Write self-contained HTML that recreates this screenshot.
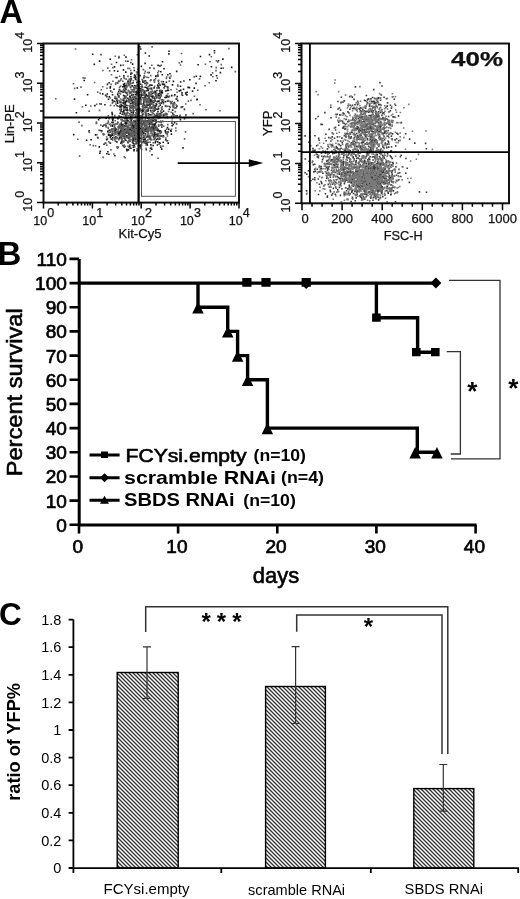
<!DOCTYPE html>
<html><head><meta charset="utf-8"><style>
html,body{margin:0;padding:0;background:#fff;}
body{width:520px;height:899px;overflow:hidden;}
svg{display:block;filter:blur(0.3px);}
</style></head><body>
<svg width="520" height="899" viewBox="0 0 520 899">
<rect width="520" height="899" fill="#fff"/>
<path d="M107.8 133.8h1.6v1.6h-1.6zM125.2 109.1h1.6v1.6h-1.6zM122.6 119.9h1.6v1.6h-1.6zM181.8 105.9h1.6v1.6h-1.6zM142.1 110.6h1.6v1.6h-1.6zM146.1 95h1.6v1.6h-1.6zM115.3 128.3h1.6v1.6h-1.6zM156.1 127.3h1.6v1.6h-1.6zM128.8 91.2h1.6v1.6h-1.6zM117.5 94.9h1.6v1.6h-1.6zM164.9 138.9h1.6v1.6h-1.6zM158.7 115.8h1.6v1.6h-1.6zM162.7 110.3h1.6v1.6h-1.6zM148.2 119.6h1.6v1.6h-1.6zM134 127.2h1.6v1.6h-1.6zM102.4 133.2h1.6v1.6h-1.6zM139.4 108.3h1.6v1.6h-1.6zM124.5 96.1h1.6v1.6h-1.6zM114.3 128.5h1.6v1.6h-1.6zM164.2 96.7h1.6v1.6h-1.6zM152.4 127.4h1.6v1.6h-1.6zM127.1 97.4h1.6v1.6h-1.6zM166.8 116.3h1.6v1.6h-1.6zM156.7 113.7h1.6v1.6h-1.6zM127.3 119.8h1.6v1.6h-1.6zM145.8 142.7h1.6v1.6h-1.6zM124.1 133.4h1.6v1.6h-1.6zM125.3 100.9h1.6v1.6h-1.6zM158.9 92.5h1.6v1.6h-1.6zM131.3 131.6h1.6v1.6h-1.6zM85 104.4h1.6v1.6h-1.6zM176.5 95.7h1.6v1.6h-1.6zM153.9 105.2h1.6v1.6h-1.6zM102 125.5h1.6v1.6h-1.6zM132.5 107.4h1.6v1.6h-1.6zM153.3 87.1h1.6v1.6h-1.6zM134.9 127.6h1.6v1.6h-1.6zM166 113.9h1.6v1.6h-1.6zM142.8 136.5h1.6v1.6h-1.6zM122 86h1.6v1.6h-1.6zM133.6 137.4h1.6v1.6h-1.6zM166.6 140h1.6v1.6h-1.6zM197.3 64h1.6v1.6h-1.6zM131.2 100.3h1.6v1.6h-1.6zM122.3 91.3h1.6v1.6h-1.6zM140 96.5h1.6v1.6h-1.6zM133 126.4h1.6v1.6h-1.6zM142 128.5h1.6v1.6h-1.6zM125.9 125.2h1.6v1.6h-1.6zM159.3 96.9h1.6v1.6h-1.6zM167.9 128.6h1.6v1.6h-1.6zM161 91.6h1.6v1.6h-1.6zM133.1 128.2h1.6v1.6h-1.6zM126.9 111.9h1.6v1.6h-1.6zM109.9 90.2h1.6v1.6h-1.6zM129.2 95.5h1.6v1.6h-1.6zM116.9 121.4h1.6v1.6h-1.6zM215.2 79.9h1.6v1.6h-1.6zM121.4 105h1.6v1.6h-1.6zM125.2 135.8h1.6v1.6h-1.6zM110.8 138.3h1.6v1.6h-1.6zM154.2 118.9h1.6v1.6h-1.6zM136.1 81.9h1.6v1.6h-1.6zM138.1 121.8h1.6v1.6h-1.6zM136.6 83.9h1.6v1.6h-1.6zM109.4 87.1h1.6v1.6h-1.6zM138.2 102.4h1.6v1.6h-1.6zM138.1 141h1.6v1.6h-1.6zM140.8 138h1.6v1.6h-1.6zM111.7 134.5h1.6v1.6h-1.6zM123.1 111.9h1.6v1.6h-1.6zM134.8 85.2h1.6v1.6h-1.6zM132.1 136.1h1.6v1.6h-1.6zM124.2 132.5h1.6v1.6h-1.6zM163.2 114.7h1.6v1.6h-1.6zM153.9 106.7h1.6v1.6h-1.6zM131.4 101.1h1.6v1.6h-1.6zM154.5 109.1h1.6v1.6h-1.6zM120.7 131.4h1.6v1.6h-1.6zM159 90.3h1.6v1.6h-1.6zM157.9 116.2h1.6v1.6h-1.6zM140.9 130.3h1.6v1.6h-1.6zM185.3 93.5h1.6v1.6h-1.6zM179 115.5h1.6v1.6h-1.6zM166.9 86.2h1.6v1.6h-1.6zM125.3 127.8h1.6v1.6h-1.6zM141.1 109.4h1.6v1.6h-1.6zM164.7 131h1.6v1.6h-1.6zM132 104.8h1.6v1.6h-1.6zM138.2 87.5h1.6v1.6h-1.6zM116.4 104.9h1.6v1.6h-1.6zM144.3 62.6h1.6v1.6h-1.6zM161.1 111.7h1.6v1.6h-1.6zM116.9 70.4h1.6v1.6h-1.6zM133.7 88.8h1.6v1.6h-1.6zM135.5 97.7h1.6v1.6h-1.6zM124.9 129.3h1.6v1.6h-1.6zM150.3 130.9h1.6v1.6h-1.6zM126.9 126.6h1.6v1.6h-1.6zM144.4 140.8h1.6v1.6h-1.6zM120.2 110.6h1.6v1.6h-1.6zM126 100.3h1.6v1.6h-1.6zM105.4 117.3h1.6v1.6h-1.6zM132.5 98.7h1.6v1.6h-1.6zM134.5 77.9h1.6v1.6h-1.6zM156.9 84.3h1.6v1.6h-1.6zM134.6 124.7h1.6v1.6h-1.6zM136.2 92.9h1.6v1.6h-1.6zM135.8 142.2h1.6v1.6h-1.6zM131.4 125.8h1.6v1.6h-1.6zM152.1 92.4h1.6v1.6h-1.6zM154.4 142h1.6v1.6h-1.6zM116.7 101.1h1.6v1.6h-1.6zM122.2 144.9h1.6v1.6h-1.6zM129 145.3h1.6v1.6h-1.6zM142.7 127.8h1.6v1.6h-1.6zM135.5 132.2h1.6v1.6h-1.6zM155 127.2h1.6v1.6h-1.6zM126.5 109.9h1.6v1.6h-1.6zM137.9 145.1h1.6v1.6h-1.6zM153.4 125.6h1.6v1.6h-1.6zM208.7 53.8h1.6v1.6h-1.6zM154.7 93.3h1.6v1.6h-1.6zM106.6 138.2h1.6v1.6h-1.6zM107.7 98.5h1.6v1.6h-1.6zM154.5 123.1h1.6v1.6h-1.6zM138.6 137.3h1.6v1.6h-1.6zM154.2 126.6h1.6v1.6h-1.6zM146.1 101h1.6v1.6h-1.6zM139.9 117.4h1.6v1.6h-1.6zM215.8 75h1.6v1.6h-1.6zM127.9 129h1.6v1.6h-1.6zM123.9 135.6h1.6v1.6h-1.6zM109.6 85.9h1.6v1.6h-1.6zM131.4 123.5h1.6v1.6h-1.6zM135.6 93.6h1.6v1.6h-1.6zM152 95.2h1.6v1.6h-1.6zM149.7 84.3h1.6v1.6h-1.6zM140.5 122.1h1.6v1.6h-1.6zM136.6 132.3h1.6v1.6h-1.6zM136.8 134.1h1.6v1.6h-1.6zM125.1 91.5h1.6v1.6h-1.6zM143.7 98.2h1.6v1.6h-1.6zM135.1 109.2h1.6v1.6h-1.6zM146 124.2h1.6v1.6h-1.6zM155.7 108.4h1.6v1.6h-1.6zM164 85.3h1.6v1.6h-1.6zM162.6 135h1.6v1.6h-1.6zM147.5 104.3h1.6v1.6h-1.6zM141.4 130.4h1.6v1.6h-1.6zM171.7 84.1h1.6v1.6h-1.6zM137.9 115.3h1.6v1.6h-1.6zM128.6 147h1.6v1.6h-1.6zM144.5 95.3h1.6v1.6h-1.6zM150.1 144.1h1.6v1.6h-1.6zM161.1 108.5h1.6v1.6h-1.6zM145 141.1h1.6v1.6h-1.6zM137.6 109.6h1.6v1.6h-1.6zM106.5 93.2h1.6v1.6h-1.6zM153 101.6h1.6v1.6h-1.6zM147.6 127.4h1.6v1.6h-1.6zM148 135h1.6v1.6h-1.6zM161 126.2h1.6v1.6h-1.6zM143.2 80.9h1.6v1.6h-1.6zM155 75.3h1.6v1.6h-1.6zM210.6 65.9h1.6v1.6h-1.6zM121 138.1h1.6v1.6h-1.6zM117.9 133.4h1.6v1.6h-1.6zM121.5 113.5h1.6v1.6h-1.6zM160.8 135.3h1.6v1.6h-1.6zM140.9 93.7h1.6v1.6h-1.6zM134.7 137.2h1.6v1.6h-1.6zM140.6 136.4h1.6v1.6h-1.6zM135.4 142.6h1.6v1.6h-1.6zM141.6 105.7h1.6v1.6h-1.6zM151.6 111.8h1.6v1.6h-1.6zM157.5 80.2h1.6v1.6h-1.6zM99 152.4h1.6v1.6h-1.6zM157.2 132.8h1.6v1.6h-1.6zM168.1 53.1h1.6v1.6h-1.6zM171 94.8h1.6v1.6h-1.6zM146.6 134.5h1.6v1.6h-1.6zM119.7 130h1.6v1.6h-1.6zM126.8 128.2h1.6v1.6h-1.6zM134.6 138.3h1.6v1.6h-1.6zM140.3 130.6h1.6v1.6h-1.6zM133.8 85h1.6v1.6h-1.6zM137.2 107.8h1.6v1.6h-1.6zM140.1 129.1h1.6v1.6h-1.6zM141.5 129.2h1.6v1.6h-1.6zM158.6 113.2h1.6v1.6h-1.6zM112 137h1.6v1.6h-1.6zM166.7 89.6h1.6v1.6h-1.6zM134.3 131.2h1.6v1.6h-1.6zM91.9 53.4h1.6v1.6h-1.6zM115.6 97.8h1.6v1.6h-1.6zM136.4 125.8h1.6v1.6h-1.6zM150.7 93.3h1.6v1.6h-1.6zM136.5 104.5h1.6v1.6h-1.6zM119.8 100.8h1.6v1.6h-1.6zM160 71h1.6v1.6h-1.6zM126.9 125.8h1.6v1.6h-1.6zM118.2 133.5h1.6v1.6h-1.6zM103.2 143.5h1.6v1.6h-1.6zM150.3 99.7h1.6v1.6h-1.6zM163.2 67.9h1.6v1.6h-1.6zM133.4 130.8h1.6v1.6h-1.6zM136.5 108.7h1.6v1.6h-1.6zM142.2 81.3h1.6v1.6h-1.6zM156 114.3h1.6v1.6h-1.6zM159.4 130.1h1.6v1.6h-1.6zM109.5 136.3h1.6v1.6h-1.6zM168.2 50.4h1.6v1.6h-1.6zM126 121.1h1.6v1.6h-1.6zM75.6 112h1.6v1.6h-1.6zM126.7 135.2h1.6v1.6h-1.6zM141.9 108.7h1.6v1.6h-1.6zM135.7 128.8h1.6v1.6h-1.6zM114.1 155h1.6v1.6h-1.6zM123.1 105.4h1.6v1.6h-1.6zM108.3 116.9h1.6v1.6h-1.6zM135.7 123.2h1.6v1.6h-1.6zM133.8 74.3h1.6v1.6h-1.6zM135.4 99.9h1.6v1.6h-1.6zM86.8 94h1.6v1.6h-1.6zM108.1 153.4h1.6v1.6h-1.6zM171.9 109.3h1.6v1.6h-1.6zM123.1 75.1h1.6v1.6h-1.6zM124.2 128.5h1.6v1.6h-1.6zM116.1 99.8h1.6v1.6h-1.6zM120.4 127.2h1.6v1.6h-1.6zM147.1 135.6h1.6v1.6h-1.6zM180.6 106.6h1.6v1.6h-1.6zM120.3 109.5h1.6v1.6h-1.6zM142.4 140.9h1.6v1.6h-1.6zM132.5 126.6h1.6v1.6h-1.6zM134.9 104h1.6v1.6h-1.6zM118.3 132.5h1.6v1.6h-1.6zM137.9 138.7h1.6v1.6h-1.6zM196.1 98.9h1.6v1.6h-1.6zM138 121.8h1.6v1.6h-1.6zM112 119.5h1.6v1.6h-1.6zM144.4 142.5h1.6v1.6h-1.6zM113.7 66.1h1.6v1.6h-1.6zM124 129.2h1.6v1.6h-1.6zM186.4 91.4h1.6v1.6h-1.6zM118.6 131h1.6v1.6h-1.6zM196.4 98.5h1.6v1.6h-1.6zM153.7 138.3h1.6v1.6h-1.6zM132.4 132.5h1.6v1.6h-1.6zM154.4 107.5h1.6v1.6h-1.6zM151 101.4h1.6v1.6h-1.6zM138.4 107.5h1.6v1.6h-1.6zM143.4 123.3h1.6v1.6h-1.6zM140.5 94.8h1.6v1.6h-1.6zM146.7 100.5h1.6v1.6h-1.6zM217.7 59.9h1.6v1.6h-1.6zM139.3 74.8h1.6v1.6h-1.6zM147.3 121.4h1.6v1.6h-1.6zM135.4 105.7h1.6v1.6h-1.6zM145.6 94h1.6v1.6h-1.6zM128.5 134h1.6v1.6h-1.6zM130.3 132.2h1.6v1.6h-1.6zM138.2 89.2h1.6v1.6h-1.6zM133.9 134.7h1.6v1.6h-1.6zM129.6 132.7h1.6v1.6h-1.6zM148.7 85h1.6v1.6h-1.6zM142.7 132.3h1.6v1.6h-1.6zM130.1 147.4h1.6v1.6h-1.6zM124.9 85.1h1.6v1.6h-1.6zM115.7 61.7h1.6v1.6h-1.6zM112.3 128h1.6v1.6h-1.6zM142.6 109.9h1.6v1.6h-1.6zM119.9 64.6h1.6v1.6h-1.6zM153.4 79.3h1.6v1.6h-1.6zM149.8 122.9h1.6v1.6h-1.6zM119.7 124.3h1.6v1.6h-1.6zM135.4 121.5h1.6v1.6h-1.6zM98.8 60.3h1.6v1.6h-1.6zM140.8 130.2h1.6v1.6h-1.6zM107 130.5h1.6v1.6h-1.6zM125.9 135.4h1.6v1.6h-1.6zM175.9 70.6h1.6v1.6h-1.6zM172.6 80.6h1.6v1.6h-1.6zM145.7 127.8h1.6v1.6h-1.6zM136.4 140.2h1.6v1.6h-1.6zM124.3 103.5h1.6v1.6h-1.6zM124.9 122h1.6v1.6h-1.6zM141.2 110.1h1.6v1.6h-1.6zM149.1 94.9h1.6v1.6h-1.6zM113.4 130.2h1.6v1.6h-1.6zM144.4 93.3h1.6v1.6h-1.6zM122.2 141.1h1.6v1.6h-1.6zM132 139.1h1.6v1.6h-1.6zM155.3 121.6h1.6v1.6h-1.6zM148.9 138.2h1.6v1.6h-1.6zM109.4 129.4h1.6v1.6h-1.6zM142.9 131.5h1.6v1.6h-1.6zM142.3 94.5h1.6v1.6h-1.6zM145.6 130h1.6v1.6h-1.6zM133.4 148.9h1.6v1.6h-1.6zM155.9 138.7h1.6v1.6h-1.6zM114.3 127.6h1.6v1.6h-1.6zM167 131.6h1.6v1.6h-1.6zM150.8 127.2h1.6v1.6h-1.6zM107.9 134.4h1.6v1.6h-1.6zM157.1 135.6h1.6v1.6h-1.6zM114.1 132.2h1.6v1.6h-1.6zM108.5 96.1h1.6v1.6h-1.6zM106 95.9h1.6v1.6h-1.6zM142.3 123.5h1.6v1.6h-1.6zM133.2 149.8h1.6v1.6h-1.6zM131.9 129.9h1.6v1.6h-1.6zM145.1 126.6h1.6v1.6h-1.6zM149.5 95.2h1.6v1.6h-1.6zM168.8 105.7h1.6v1.6h-1.6zM127.1 60.5h1.6v1.6h-1.6zM143.9 104.4h1.6v1.6h-1.6zM131.4 134.7h1.6v1.6h-1.6zM116.8 130.7h1.6v1.6h-1.6zM135.1 128h1.6v1.6h-1.6zM129.2 109.7h1.6v1.6h-1.6zM140.2 125.2h1.6v1.6h-1.6zM156.1 89.7h1.6v1.6h-1.6zM120.1 142.3h1.6v1.6h-1.6zM147.5 89.6h1.6v1.6h-1.6zM159.2 131h1.6v1.6h-1.6zM139 86h1.6v1.6h-1.6zM145.8 86.8h1.6v1.6h-1.6zM126 135.1h1.6v1.6h-1.6zM126.8 129.2h1.6v1.6h-1.6zM120.3 135.2h1.6v1.6h-1.6zM135.3 105.2h1.6v1.6h-1.6zM132.5 146.4h1.6v1.6h-1.6zM135.3 135.2h1.6v1.6h-1.6zM129.5 81.2h1.6v1.6h-1.6zM136.7 120.1h1.6v1.6h-1.6zM138.2 116.1h1.6v1.6h-1.6zM132.4 138.3h1.6v1.6h-1.6zM136.2 149.8h1.6v1.6h-1.6zM147.6 98.9h1.6v1.6h-1.6zM152 129h1.6v1.6h-1.6zM108.4 82h1.6v1.6h-1.6zM121.4 125.1h1.6v1.6h-1.6zM141.8 108.6h1.6v1.6h-1.6zM134.7 115.8h1.6v1.6h-1.6zM136.1 92h1.6v1.6h-1.6zM138.3 95.5h1.6v1.6h-1.6zM170.6 133.3h1.6v1.6h-1.6zM142.1 123.3h1.6v1.6h-1.6zM136 126.9h1.6v1.6h-1.6zM111.7 99.3h1.6v1.6h-1.6zM120.8 128.6h1.6v1.6h-1.6zM117.1 117.8h1.6v1.6h-1.6zM118.9 105.2h1.6v1.6h-1.6zM139.7 99.2h1.6v1.6h-1.6zM144.9 113.1h1.6v1.6h-1.6zM163.4 86.9h1.6v1.6h-1.6zM143.9 91.9h1.6v1.6h-1.6zM157.3 130.2h1.6v1.6h-1.6zM152.9 126.6h1.6v1.6h-1.6zM128.9 131.2h1.6v1.6h-1.6zM139.2 96.9h1.6v1.6h-1.6zM127.2 142h1.6v1.6h-1.6zM141.7 89h1.6v1.6h-1.6zM159.9 120.6h1.6v1.6h-1.6zM144.6 128.5h1.6v1.6h-1.6zM179.6 118.8h1.6v1.6h-1.6zM165.3 114h1.6v1.6h-1.6zM157.1 74.2h1.6v1.6h-1.6zM144.1 96.7h1.6v1.6h-1.6zM119.5 106.3h1.6v1.6h-1.6zM146.7 130.1h1.6v1.6h-1.6zM148.4 55.2h1.6v1.6h-1.6zM136.9 133.8h1.6v1.6h-1.6zM138.2 135.3h1.6v1.6h-1.6zM129.8 129.1h1.6v1.6h-1.6zM153.1 110.5h1.6v1.6h-1.6zM158.2 100.3h1.6v1.6h-1.6zM148.1 96h1.6v1.6h-1.6zM138.6 128.2h1.6v1.6h-1.6zM213.7 50h1.6v1.6h-1.6zM161.6 92.1h1.6v1.6h-1.6zM138.5 132.4h1.6v1.6h-1.6zM148.3 97.1h1.6v1.6h-1.6zM128.3 129.4h1.6v1.6h-1.6zM129.7 106.7h1.6v1.6h-1.6zM144.5 111.4h1.6v1.6h-1.6zM123.9 82.8h1.6v1.6h-1.6zM136.7 132.2h1.6v1.6h-1.6zM138.4 126.6h1.6v1.6h-1.6zM158.5 94.8h1.6v1.6h-1.6zM133.9 100.6h1.6v1.6h-1.6zM127 80.7h1.6v1.6h-1.6zM169.1 77.4h1.6v1.6h-1.6zM122 134.6h1.6v1.6h-1.6zM99 117.5h1.6v1.6h-1.6zM138.3 112.1h1.6v1.6h-1.6zM146.5 129.8h1.6v1.6h-1.6zM138.5 116.9h1.6v1.6h-1.6zM145.9 90h1.6v1.6h-1.6zM176.9 99.8h1.6v1.6h-1.6zM136.8 127.6h1.6v1.6h-1.6zM120.6 108.5h1.6v1.6h-1.6zM140.1 132.3h1.6v1.6h-1.6zM155.1 115h1.6v1.6h-1.6zM123.5 146.2h1.6v1.6h-1.6zM123.3 94.9h1.6v1.6h-1.6zM157 94.6h1.6v1.6h-1.6zM126.9 136.3h1.6v1.6h-1.6zM128.1 83.1h1.6v1.6h-1.6zM132.4 137.9h1.6v1.6h-1.6zM135.5 85.4h1.6v1.6h-1.6zM123.3 129h1.6v1.6h-1.6zM148.7 125.5h1.6v1.6h-1.6zM154.2 90.6h1.6v1.6h-1.6zM133.1 106.1h1.6v1.6h-1.6zM126.2 107h1.6v1.6h-1.6zM136.3 134.9h1.6v1.6h-1.6zM117.8 80.4h1.6v1.6h-1.6zM165.2 113.1h1.6v1.6h-1.6zM154 109.2h1.6v1.6h-1.6zM153.1 104.6h1.6v1.6h-1.6zM167 87h1.6v1.6h-1.6zM130.8 126.7h1.6v1.6h-1.6zM150.5 106.5h1.6v1.6h-1.6zM123 110.1h1.6v1.6h-1.6zM139.8 147.2h1.6v1.6h-1.6zM119.3 106.7h1.6v1.6h-1.6zM111.8 94h1.6v1.6h-1.6zM146.7 100.7h1.6v1.6h-1.6zM117.8 138.6h1.6v1.6h-1.6zM132.3 102.7h1.6v1.6h-1.6zM165.6 81.4h1.6v1.6h-1.6zM132.6 111.4h1.6v1.6h-1.6zM148.3 101.1h1.6v1.6h-1.6zM145.3 114.6h1.6v1.6h-1.6zM140.9 128.6h1.6v1.6h-1.6zM142.1 122.9h1.6v1.6h-1.6zM99.2 129.7h1.6v1.6h-1.6zM135.8 125.3h1.6v1.6h-1.6zM152.7 126.9h1.6v1.6h-1.6zM180.9 60.8h1.6v1.6h-1.6zM135.1 78.7h1.6v1.6h-1.6zM151.6 126.3h1.6v1.6h-1.6zM124.6 114.2h1.6v1.6h-1.6zM179.7 85.5h1.6v1.6h-1.6zM160.5 91.4h1.6v1.6h-1.6zM156 96.5h1.6v1.6h-1.6zM135.4 122.1h1.6v1.6h-1.6zM144.5 138.1h1.6v1.6h-1.6zM123.2 109.3h1.6v1.6h-1.6zM158.2 97.2h1.6v1.6h-1.6zM160.9 124.1h1.6v1.6h-1.6zM142.9 121.9h1.6v1.6h-1.6zM154.2 91.9h1.6v1.6h-1.6zM143.1 76.6h1.6v1.6h-1.6zM122.8 89.2h1.6v1.6h-1.6zM116.7 147.2h1.6v1.6h-1.6zM125.9 148.6h1.6v1.6h-1.6zM146 104.3h1.6v1.6h-1.6zM131.5 96.5h1.6v1.6h-1.6zM114.5 130.1h1.6v1.6h-1.6zM170.3 130.4h1.6v1.6h-1.6zM153.2 134.5h1.6v1.6h-1.6zM149.8 109.7h1.6v1.6h-1.6zM116 98.1h1.6v1.6h-1.6zM153.5 124h1.6v1.6h-1.6zM130.4 72.3h1.6v1.6h-1.6zM110 135.1h1.6v1.6h-1.6zM146.5 88h1.6v1.6h-1.6zM140.2 129.6h1.6v1.6h-1.6zM123.9 89.8h1.6v1.6h-1.6zM133.2 119.9h1.6v1.6h-1.6zM154.8 91.3h1.6v1.6h-1.6zM109.6 142.5h1.6v1.6h-1.6zM222.1 58.3h1.6v1.6h-1.6zM131.6 123.7h1.6v1.6h-1.6zM144.2 138.5h1.6v1.6h-1.6zM136.9 138h1.6v1.6h-1.6zM140.4 91.3h1.6v1.6h-1.6zM148.1 92.7h1.6v1.6h-1.6zM144.3 86.4h1.6v1.6h-1.6zM143.5 120.8h1.6v1.6h-1.6zM147.9 116.8h1.6v1.6h-1.6zM141.3 128.5h1.6v1.6h-1.6zM125.2 88.6h1.6v1.6h-1.6zM176.3 115.1h1.6v1.6h-1.6zM146.9 101.1h1.6v1.6h-1.6zM141.9 131.9h1.6v1.6h-1.6zM104.1 104h1.6v1.6h-1.6zM97.8 118.8h1.6v1.6h-1.6zM116.6 132.1h1.6v1.6h-1.6zM154 124.7h1.6v1.6h-1.6zM146.6 108.9h1.6v1.6h-1.6zM157.8 129.8h1.6v1.6h-1.6zM144.2 82.7h1.6v1.6h-1.6zM139.5 121.6h1.6v1.6h-1.6zM171.4 125h1.6v1.6h-1.6zM133.5 69.7h1.6v1.6h-1.6zM137.5 118.9h1.6v1.6h-1.6zM146.4 120.1h1.6v1.6h-1.6zM130.5 111.7h1.6v1.6h-1.6zM147.2 130.1h1.6v1.6h-1.6zM219.6 71.8h1.6v1.6h-1.6zM137.3 91.5h1.6v1.6h-1.6zM136.7 127.5h1.6v1.6h-1.6zM134 138h1.6v1.6h-1.6zM133.5 96.4h1.6v1.6h-1.6zM170 129.7h1.6v1.6h-1.6zM142.2 122.8h1.6v1.6h-1.6zM129.7 106.8h1.6v1.6h-1.6zM179.9 81.2h1.6v1.6h-1.6zM138.4 90h1.6v1.6h-1.6zM130.5 98.7h1.6v1.6h-1.6zM159.3 142.4h1.6v1.6h-1.6zM148.3 71.8h1.6v1.6h-1.6zM183.1 80.2h1.6v1.6h-1.6zM134.5 131.9h1.6v1.6h-1.6zM230.9 66.6h1.6v1.6h-1.6zM139 122.3h1.6v1.6h-1.6zM106.7 83.6h1.6v1.6h-1.6zM156.2 129.7h1.6v1.6h-1.6zM132 125.6h1.6v1.6h-1.6zM124.1 97.2h1.6v1.6h-1.6zM121.2 139.6h1.6v1.6h-1.6zM131.7 124.1h1.6v1.6h-1.6zM135.5 138.3h1.6v1.6h-1.6zM120.6 90.7h1.6v1.6h-1.6zM154.8 140.4h1.6v1.6h-1.6zM157.1 115.7h1.6v1.6h-1.6zM150.4 107.2h1.6v1.6h-1.6zM143.6 98.3h1.6v1.6h-1.6zM130.1 109.8h1.6v1.6h-1.6zM111.2 111.7h1.6v1.6h-1.6zM151.2 84.4h1.6v1.6h-1.6zM162.7 101.5h1.6v1.6h-1.6zM116.1 76.8h1.6v1.6h-1.6zM120.2 129.3h1.6v1.6h-1.6zM122.6 102.9h1.6v1.6h-1.6zM148.6 123.3h1.6v1.6h-1.6zM161.7 61h1.6v1.6h-1.6zM118.1 56.8h1.6v1.6h-1.6zM149.3 127.3h1.6v1.6h-1.6zM136.7 131.4h1.6v1.6h-1.6zM107.1 130.8h1.6v1.6h-1.6zM159.5 104.3h1.6v1.6h-1.6zM135.9 93.9h1.6v1.6h-1.6zM137.9 98.5h1.6v1.6h-1.6zM130 115.6h1.6v1.6h-1.6zM135.8 94.1h1.6v1.6h-1.6zM138.2 122.3h1.6v1.6h-1.6zM133.4 76.5h1.6v1.6h-1.6zM116.9 93.3h1.6v1.6h-1.6zM150.9 121.4h1.6v1.6h-1.6zM158 82.4h1.6v1.6h-1.6zM141.7 131.6h1.6v1.6h-1.6zM117.6 126h1.6v1.6h-1.6zM121.8 133.1h1.6v1.6h-1.6zM124.9 124.2h1.6v1.6h-1.6zM137.3 129h1.6v1.6h-1.6zM137.8 109.1h1.6v1.6h-1.6zM113.6 70h1.6v1.6h-1.6zM132.9 125.1h1.6v1.6h-1.6zM132.3 112.3h1.6v1.6h-1.6zM166.5 89.7h1.6v1.6h-1.6zM148.8 122h1.6v1.6h-1.6zM128.9 135h1.6v1.6h-1.6zM120.7 141.1h1.6v1.6h-1.6zM146 106.3h1.6v1.6h-1.6zM142.7 129.2h1.6v1.6h-1.6zM143 101.4h1.6v1.6h-1.6zM129.5 127.6h1.6v1.6h-1.6zM105.8 138.8h1.6v1.6h-1.6zM128.4 146.2h1.6v1.6h-1.6zM167.4 142.3h1.6v1.6h-1.6zM153.1 123.6h1.6v1.6h-1.6zM150.3 139h1.6v1.6h-1.6zM125.6 99.6h1.6v1.6h-1.6zM139.3 132.7h1.6v1.6h-1.6zM162.5 141.4h1.6v1.6h-1.6zM181.2 92.1h1.6v1.6h-1.6zM140.4 90.3h1.6v1.6h-1.6zM136.5 132h1.6v1.6h-1.6zM151.6 99.7h1.6v1.6h-1.6zM131.8 135.2h1.6v1.6h-1.6zM131.8 63.3h1.6v1.6h-1.6zM120.4 122.8h1.6v1.6h-1.6zM159.6 115.4h1.6v1.6h-1.6zM159.4 116.8h1.6v1.6h-1.6zM117.9 90.8h1.6v1.6h-1.6zM123.8 101h1.6v1.6h-1.6zM109.4 58.5h1.6v1.6h-1.6zM142.7 138.5h1.6v1.6h-1.6zM158.3 87.1h1.6v1.6h-1.6zM111.4 124.6h1.6v1.6h-1.6zM176.1 105.3h1.6v1.6h-1.6zM133.5 133.5h1.6v1.6h-1.6zM107.8 134.1h1.6v1.6h-1.6zM135.3 115.3h1.6v1.6h-1.6zM178.5 90.1h1.6v1.6h-1.6zM117 82.2h1.6v1.6h-1.6zM144.6 107h1.6v1.6h-1.6zM129.4 96.5h1.6v1.6h-1.6zM72.9 133.8h1.6v1.6h-1.6zM141.7 127.4h1.6v1.6h-1.6zM147.2 95.3h1.6v1.6h-1.6zM83.4 79.7h1.6v1.6h-1.6zM140.2 117.8h1.6v1.6h-1.6zM131.7 131.2h1.6v1.6h-1.6zM166.6 95.7h1.6v1.6h-1.6zM127.8 140.5h1.6v1.6h-1.6zM136.2 131.5h1.6v1.6h-1.6zM88.4 129.9h1.6v1.6h-1.6zM195.2 82.6h1.6v1.6h-1.6zM124.4 122.3h1.6v1.6h-1.6zM149.3 114.1h1.6v1.6h-1.6zM183.6 108.6h1.6v1.6h-1.6zM155.3 119.8h1.6v1.6h-1.6zM133.7 128.7h1.6v1.6h-1.6zM146.5 144.1h1.6v1.6h-1.6zM120.3 105.4h1.6v1.6h-1.6zM148.5 94.4h1.6v1.6h-1.6zM145.6 136.2h1.6v1.6h-1.6zM132.3 125.5h1.6v1.6h-1.6zM139.5 144.2h1.6v1.6h-1.6zM121.3 124.5h1.6v1.6h-1.6zM172.4 123.7h1.6v1.6h-1.6zM164.5 129.8h1.6v1.6h-1.6zM127.8 128.5h1.6v1.6h-1.6zM131.5 121.5h1.6v1.6h-1.6zM124.2 87.2h1.6v1.6h-1.6zM138.3 136.3h1.6v1.6h-1.6zM166.7 126.8h1.6v1.6h-1.6zM147.7 112.9h1.6v1.6h-1.6zM137.8 126.6h1.6v1.6h-1.6zM136.9 123.2h1.6v1.6h-1.6zM162.5 116.5h1.6v1.6h-1.6zM113.5 100.4h1.6v1.6h-1.6zM152.3 144.7h1.6v1.6h-1.6zM123.4 137.4h1.6v1.6h-1.6zM133.2 144.3h1.6v1.6h-1.6zM119.4 112.4h1.6v1.6h-1.6zM122.8 83.6h1.6v1.6h-1.6zM133.2 135.4h1.6v1.6h-1.6zM143 140.3h1.6v1.6h-1.6zM144.4 96.8h1.6v1.6h-1.6zM129.8 79.6h1.6v1.6h-1.6zM158.8 89.8h1.6v1.6h-1.6zM174 94.1h1.6v1.6h-1.6zM151.3 127h1.6v1.6h-1.6zM130.6 78.2h1.6v1.6h-1.6zM145.1 130.6h1.6v1.6h-1.6zM139.8 98.1h1.6v1.6h-1.6zM158.6 120.9h1.6v1.6h-1.6zM133.5 145.2h1.6v1.6h-1.6zM145.5 100.1h1.6v1.6h-1.6zM132.5 94h1.6v1.6h-1.6zM112.4 121.6h1.6v1.6h-1.6zM122.3 135.5h1.6v1.6h-1.6zM145.8 98.9h1.6v1.6h-1.6zM140.6 65.6h1.6v1.6h-1.6zM129.9 102.7h1.6v1.6h-1.6zM136 127.5h1.6v1.6h-1.6zM127.6 129.8h1.6v1.6h-1.6zM136 131.5h1.6v1.6h-1.6zM131.5 141.5h1.6v1.6h-1.6zM125.3 107.2h1.6v1.6h-1.6zM145.3 142.5h1.6v1.6h-1.6zM155.8 103.9h1.6v1.6h-1.6zM136.8 126.9h1.6v1.6h-1.6zM141.5 130.7h1.6v1.6h-1.6zM139.9 48.2h1.6v1.6h-1.6zM161.5 74h1.6v1.6h-1.6zM130.4 119.6h1.6v1.6h-1.6zM115.2 123.2h1.6v1.6h-1.6zM134.8 130.2h1.6v1.6h-1.6zM139.2 93.8h1.6v1.6h-1.6zM141.2 86h1.6v1.6h-1.6zM134.3 128.5h1.6v1.6h-1.6zM135.4 87.5h1.6v1.6h-1.6zM151.4 100.6h1.6v1.6h-1.6zM122.5 102.1h1.6v1.6h-1.6zM127.1 130.7h1.6v1.6h-1.6zM146.6 141.9h1.6v1.6h-1.6zM139.9 137.5h1.6v1.6h-1.6zM133.7 129.8h1.6v1.6h-1.6zM159.7 132.1h1.6v1.6h-1.6zM173.5 101.8h1.6v1.6h-1.6zM145.1 93.7h1.6v1.6h-1.6zM132.8 91.1h1.6v1.6h-1.6zM156.5 101h1.6v1.6h-1.6zM114.9 135.9h1.6v1.6h-1.6zM166.9 100.3h1.6v1.6h-1.6zM157 128.4h1.6v1.6h-1.6zM136 108.3h1.6v1.6h-1.6zM150.9 101.3h1.6v1.6h-1.6zM125.7 104.4h1.6v1.6h-1.6zM152.8 136.1h1.6v1.6h-1.6zM164.7 100.9h1.6v1.6h-1.6zM136.1 110.4h1.6v1.6h-1.6zM124.1 125h1.6v1.6h-1.6zM153.4 127.6h1.6v1.6h-1.6zM158.6 141.9h1.6v1.6h-1.6zM108.5 129.4h1.6v1.6h-1.6zM132.7 130.6h1.6v1.6h-1.6zM127.6 149.1h1.6v1.6h-1.6zM117.4 131.9h1.6v1.6h-1.6zM145.7 128.8h1.6v1.6h-1.6zM155.3 102.9h1.6v1.6h-1.6zM146.8 131.7h1.6v1.6h-1.6zM145.5 148.9h1.6v1.6h-1.6zM94.1 104.8h1.6v1.6h-1.6zM132.6 110h1.6v1.6h-1.6zM93.5 63.6h1.6v1.6h-1.6zM172.9 113.9h1.6v1.6h-1.6zM111.7 118.5h1.6v1.6h-1.6zM150.9 148.3h1.6v1.6h-1.6zM127.6 80.8h1.6v1.6h-1.6zM110.6 135.2h1.6v1.6h-1.6zM130.2 99.2h1.6v1.6h-1.6zM116.9 102.5h1.6v1.6h-1.6zM123.9 112.9h1.6v1.6h-1.6zM139.5 120.1h1.6v1.6h-1.6zM125.7 132.4h1.6v1.6h-1.6zM104.6 142.2h1.6v1.6h-1.6zM145.1 112.4h1.6v1.6h-1.6zM153.9 97.2h1.6v1.6h-1.6zM134.7 93.5h1.6v1.6h-1.6zM147 126.6h1.6v1.6h-1.6zM132.5 96.8h1.6v1.6h-1.6zM132.2 129.3h1.6v1.6h-1.6zM128.3 131.5h1.6v1.6h-1.6zM123.1 99.3h1.6v1.6h-1.6zM142.8 123.5h1.6v1.6h-1.6zM129 95.7h1.6v1.6h-1.6zM131.1 129.7h1.6v1.6h-1.6zM113.2 88.4h1.6v1.6h-1.6zM166 94.8h1.6v1.6h-1.6zM169.1 72.9h1.6v1.6h-1.6zM147.2 130.8h1.6v1.6h-1.6zM131.7 102.3h1.6v1.6h-1.6zM121.4 123.7h1.6v1.6h-1.6zM188.7 86.8h1.6v1.6h-1.6zM149.1 67.2h1.6v1.6h-1.6zM137.1 127.3h1.6v1.6h-1.6zM143.9 125.3h1.6v1.6h-1.6zM131.3 84.9h1.6v1.6h-1.6zM157.3 85.2h1.6v1.6h-1.6zM126.9 117.5h1.6v1.6h-1.6zM158.9 138.1h1.6v1.6h-1.6zM150.7 95.7h1.6v1.6h-1.6zM138.1 122.8h1.6v1.6h-1.6zM126.6 94.2h1.6v1.6h-1.6zM148.7 127.6h1.6v1.6h-1.6zM144.6 133.1h1.6v1.6h-1.6zM148.3 98.3h1.6v1.6h-1.6zM120.7 131.3h1.6v1.6h-1.6zM150.8 88.4h1.6v1.6h-1.6zM146.1 129h1.6v1.6h-1.6zM152.3 125.8h1.6v1.6h-1.6zM130.8 94.3h1.6v1.6h-1.6zM137.8 119.8h1.6v1.6h-1.6zM148.9 103.2h1.6v1.6h-1.6zM186.1 94.1h1.6v1.6h-1.6zM138.7 129.6h1.6v1.6h-1.6zM182.7 88.5h1.6v1.6h-1.6zM123.4 101.3h1.6v1.6h-1.6zM126.2 149.8h1.6v1.6h-1.6zM126.6 127h1.6v1.6h-1.6zM126.6 136.9h1.6v1.6h-1.6zM156.7 75.1h1.6v1.6h-1.6zM156.3 112.7h1.6v1.6h-1.6zM161.7 83.3h1.6v1.6h-1.6zM153.4 107.8h1.6v1.6h-1.6zM149 99.4h1.6v1.6h-1.6zM109.3 134.3h1.6v1.6h-1.6zM130.2 78h1.6v1.6h-1.6zM156.8 141.1h1.6v1.6h-1.6zM147.4 88.4h1.6v1.6h-1.6zM150.2 95.4h1.6v1.6h-1.6zM116.1 141.1h1.6v1.6h-1.6zM157 108.5h1.6v1.6h-1.6zM125.4 120.3h1.6v1.6h-1.6zM131.2 125h1.6v1.6h-1.6zM157.2 110.7h1.6v1.6h-1.6zM105.1 125.1h1.6v1.6h-1.6zM144.7 96.9h1.6v1.6h-1.6zM151.8 119.4h1.6v1.6h-1.6zM157.3 100.2h1.6v1.6h-1.6zM151.5 95.9h1.6v1.6h-1.6zM132.1 129.4h1.6v1.6h-1.6zM135.7 85.3h1.6v1.6h-1.6zM149.4 99.2h1.6v1.6h-1.6zM127.7 132.9h1.6v1.6h-1.6zM167 73.9h1.6v1.6h-1.6zM129.5 79.1h1.6v1.6h-1.6zM125.2 56.3h1.6v1.6h-1.6zM118.7 88.8h1.6v1.6h-1.6zM120.1 131.8h1.6v1.6h-1.6zM128 128.8h1.6v1.6h-1.6zM130.2 134.4h1.6v1.6h-1.6zM162 83.6h1.6v1.6h-1.6zM121.3 125.3h1.6v1.6h-1.6zM157 138h1.6v1.6h-1.6zM154.6 100.2h1.6v1.6h-1.6zM137.8 80.6h1.6v1.6h-1.6zM161.5 101h1.6v1.6h-1.6zM140.5 134h1.6v1.6h-1.6zM142.9 99.8h1.6v1.6h-1.6zM90.3 138.9h1.6v1.6h-1.6zM147.3 101.8h1.6v1.6h-1.6zM153.4 126.9h1.6v1.6h-1.6zM137.2 126h1.6v1.6h-1.6zM124.6 139.3h1.6v1.6h-1.6zM124.6 138.5h1.6v1.6h-1.6zM114.3 137.1h1.6v1.6h-1.6zM134.8 75.2h1.6v1.6h-1.6zM150.1 121.6h1.6v1.6h-1.6zM151.9 96.9h1.6v1.6h-1.6zM185.1 114.2h1.6v1.6h-1.6zM143.8 98.6h1.6v1.6h-1.6zM157.8 107.9h1.6v1.6h-1.6zM101.9 93.1h1.6v1.6h-1.6zM125.7 129.5h1.6v1.6h-1.6zM157.2 128.7h1.6v1.6h-1.6zM73.7 98.3h1.6v1.6h-1.6zM114 126.7h1.6v1.6h-1.6zM132.1 137.8h1.6v1.6h-1.6zM123.2 107.1h1.6v1.6h-1.6zM127.6 130.8h1.6v1.6h-1.6zM137.2 68.5h1.6v1.6h-1.6zM157.8 93.3h1.6v1.6h-1.6zM134.4 120.8h1.6v1.6h-1.6zM163.6 83.5h1.6v1.6h-1.6zM122.7 69.1h1.6v1.6h-1.6zM195.5 75.4h1.6v1.6h-1.6zM144 90.3h1.6v1.6h-1.6zM155.1 105.1h1.6v1.6h-1.6zM134.7 130.5h1.6v1.6h-1.6zM130 73.5h1.6v1.6h-1.6zM123 110.9h1.6v1.6h-1.6zM144.7 80h1.6v1.6h-1.6zM162.5 81h1.6v1.6h-1.6zM139.1 89.9h1.6v1.6h-1.6zM147 135.5h1.6v1.6h-1.6zM147.4 109.2h1.6v1.6h-1.6zM159.5 113h1.6v1.6h-1.6zM170.3 102.3h1.6v1.6h-1.6zM136.6 120.5h1.6v1.6h-1.6zM158.1 116.3h1.6v1.6h-1.6zM134.1 91.3h1.6v1.6h-1.6zM167.9 96.2h1.6v1.6h-1.6zM124.5 102.3h1.6v1.6h-1.6zM142.1 105.1h1.6v1.6h-1.6zM199.7 55.7h1.6v1.6h-1.6zM143 101.4h1.6v1.6h-1.6zM140.9 128.4h1.6v1.6h-1.6zM125.6 92.5h1.6v1.6h-1.6zM136.8 101.4h1.6v1.6h-1.6zM128.1 137.4h1.6v1.6h-1.6zM145.8 102h1.6v1.6h-1.6zM145.7 124.4h1.6v1.6h-1.6zM146.4 97.8h1.6v1.6h-1.6zM168.6 108.5h1.6v1.6h-1.6zM149.1 136.2h1.6v1.6h-1.6zM167.7 89.5h1.6v1.6h-1.6zM136 129.2h1.6v1.6h-1.6zM149.6 101.1h1.6v1.6h-1.6zM118.4 132.4h1.6v1.6h-1.6zM150 98.6h1.6v1.6h-1.6zM141.8 114.1h1.6v1.6h-1.6zM175.5 98h1.6v1.6h-1.6zM144.4 106.6h1.6v1.6h-1.6zM145.1 120.8h1.6v1.6h-1.6zM150.1 99.5h1.6v1.6h-1.6zM132.3 82h1.6v1.6h-1.6zM128.4 100.7h1.6v1.6h-1.6zM187.3 86.6h1.6v1.6h-1.6zM139.1 102h1.6v1.6h-1.6zM131.9 125.3h1.6v1.6h-1.6zM143.5 98.7h1.6v1.6h-1.6zM146.6 117.3h1.6v1.6h-1.6zM98.5 146.1h1.6v1.6h-1.6zM137.6 100.8h1.6v1.6h-1.6zM122.1 110.9h1.6v1.6h-1.6zM133.2 149.1h1.6v1.6h-1.6zM128.9 121.3h1.6v1.6h-1.6zM130.1 76h1.6v1.6h-1.6zM133.1 125h1.6v1.6h-1.6zM111.5 113.3h1.6v1.6h-1.6zM122.8 94.7h1.6v1.6h-1.6zM147.5 129.7h1.6v1.6h-1.6zM124.2 96.4h1.6v1.6h-1.6zM128 133.4h1.6v1.6h-1.6zM132.3 139.8h1.6v1.6h-1.6zM140.1 102.7h1.6v1.6h-1.6zM126.2 108.6h1.6v1.6h-1.6zM131.8 127.5h1.6v1.6h-1.6zM191.7 90.3h1.6v1.6h-1.6zM119.8 136.7h1.6v1.6h-1.6zM119.1 137.3h1.6v1.6h-1.6zM165.7 96.7h1.6v1.6h-1.6zM111.6 132.9h1.6v1.6h-1.6zM137.7 134.1h1.6v1.6h-1.6zM164.8 105.3h1.6v1.6h-1.6zM85.8 139.5h1.6v1.6h-1.6zM133.9 123.4h1.6v1.6h-1.6zM134.4 95.8h1.6v1.6h-1.6zM141.1 117.8h1.6v1.6h-1.6zM117.6 134.1h1.6v1.6h-1.6zM138.7 122.9h1.6v1.6h-1.6zM135.2 102.5h1.6v1.6h-1.6zM160 146.4h1.6v1.6h-1.6zM111.3 133.5h1.6v1.6h-1.6zM159.2 65.1h1.6v1.6h-1.6zM139.9 88.1h1.6v1.6h-1.6zM123.2 128.8h1.6v1.6h-1.6zM152.5 96h1.6v1.6h-1.6zM149.3 104.8h1.6v1.6h-1.6zM131.6 124.4h1.6v1.6h-1.6zM143.1 104.2h1.6v1.6h-1.6zM144 92.3h1.6v1.6h-1.6zM124.2 125.7h1.6v1.6h-1.6zM123.4 85.9h1.6v1.6h-1.6zM100.4 103.2h1.6v1.6h-1.6zM139.8 145.3h1.6v1.6h-1.6zM189.1 79h1.6v1.6h-1.6zM159.7 112.4h1.6v1.6h-1.6zM164.9 90.2h1.6v1.6h-1.6zM156.6 144.2h1.6v1.6h-1.6zM137 124.1h1.6v1.6h-1.6zM114.1 127.9h1.6v1.6h-1.6zM143.2 128.5h1.6v1.6h-1.6zM133.1 86.9h1.6v1.6h-1.6zM151.2 154h1.6v1.6h-1.6zM162 120.6h1.6v1.6h-1.6zM125.6 122.7h1.6v1.6h-1.6zM160.9 148.3h1.6v1.6h-1.6zM100.9 130.1h1.6v1.6h-1.6zM94.7 134.1h1.6v1.6h-1.6zM138.5 85.8h1.6v1.6h-1.6zM149.3 121.7h1.6v1.6h-1.6zM154.8 108.4h1.6v1.6h-1.6zM150.7 103.1h1.6v1.6h-1.6zM134.1 138h1.6v1.6h-1.6zM150.8 138.8h1.6v1.6h-1.6zM120.2 90.6h1.6v1.6h-1.6zM147.1 110.5h1.6v1.6h-1.6zM142.1 97h1.6v1.6h-1.6zM153.5 131.5h1.6v1.6h-1.6zM160 93.6h1.6v1.6h-1.6zM97.1 137.1h1.6v1.6h-1.6zM103.3 124.3h1.6v1.6h-1.6zM139.7 83.4h1.6v1.6h-1.6zM120.3 103.8h1.6v1.6h-1.6zM131.9 107.8h1.6v1.6h-1.6zM150.8 87.4h1.6v1.6h-1.6zM165 131.3h1.6v1.6h-1.6zM143.2 91.7h1.6v1.6h-1.6zM161.2 90.1h1.6v1.6h-1.6zM144.6 52.2h1.6v1.6h-1.6zM182.2 147.1h1.6v1.6h-1.6zM141.5 123.7h1.6v1.6h-1.6zM157.3 64.6h1.6v1.6h-1.6zM180 89.6h1.6v1.6h-1.6zM148.7 123.7h1.6v1.6h-1.6zM133 120.8h1.6v1.6h-1.6zM149.7 128.7h1.6v1.6h-1.6zM157.9 125.2h1.6v1.6h-1.6zM145.9 126.6h1.6v1.6h-1.6zM171.9 112.4h1.6v1.6h-1.6zM114.2 97.5h1.6v1.6h-1.6zM149.5 137.2h1.6v1.6h-1.6zM173.8 121.8h1.6v1.6h-1.6zM135.7 90.8h1.6v1.6h-1.6zM126 118.1h1.6v1.6h-1.6zM130.3 91h1.6v1.6h-1.6zM125.2 114.8h1.6v1.6h-1.6zM137.8 124.3h1.6v1.6h-1.6zM111.7 125.4h1.6v1.6h-1.6zM111.2 121.4h1.6v1.6h-1.6zM142.7 106.2h1.6v1.6h-1.6zM148 99.4h1.6v1.6h-1.6zM143.5 128.8h1.6v1.6h-1.6zM107 150.9h1.6v1.6h-1.6zM149.7 99.6h1.6v1.6h-1.6zM153.5 132.8h1.6v1.6h-1.6zM104.8 94.6h1.6v1.6h-1.6zM142.7 102.8h1.6v1.6h-1.6zM131.4 135.3h1.6v1.6h-1.6zM112.3 117.8h1.6v1.6h-1.6zM124.5 104.7h1.6v1.6h-1.6zM145.8 81.8h1.6v1.6h-1.6zM129.5 118h1.6v1.6h-1.6zM153.8 133.6h1.6v1.6h-1.6zM136.3 119.3h1.6v1.6h-1.6zM150.1 79.2h1.6v1.6h-1.6zM181.7 94.4h1.6v1.6h-1.6zM189 78.9h1.6v1.6h-1.6zM164.7 130.8h1.6v1.6h-1.6zM138.7 119.9h1.6v1.6h-1.6zM154 97.6h1.6v1.6h-1.6zM135 131.6h1.6v1.6h-1.6zM139.9 88h1.6v1.6h-1.6zM136.2 125.5h1.6v1.6h-1.6zM125.9 132h1.6v1.6h-1.6zM119.3 101.7h1.6v1.6h-1.6zM125 71.3h1.6v1.6h-1.6zM152.6 120.1h1.6v1.6h-1.6zM132.1 132.6h1.6v1.6h-1.6zM154 99.6h1.6v1.6h-1.6zM159.9 131.8h1.6v1.6h-1.6zM127.8 99h1.6v1.6h-1.6zM151.5 123.6h1.6v1.6h-1.6zM172.2 103.2h1.6v1.6h-1.6zM129.6 106.1h1.6v1.6h-1.6zM134.5 76.7h1.6v1.6h-1.6zM117.5 126.5h1.6v1.6h-1.6zM145.8 128.3h1.6v1.6h-1.6zM123.5 125.6h1.6v1.6h-1.6zM210.3 74.1h1.6v1.6h-1.6zM157.7 86.3h1.6v1.6h-1.6zM138.8 81h1.6v1.6h-1.6zM134.6 97.9h1.6v1.6h-1.6zM136.6 133.2h1.6v1.6h-1.6zM151.5 128.3h1.6v1.6h-1.6zM145.8 102h1.6v1.6h-1.6zM142 80.2h1.6v1.6h-1.6zM138 127.1h1.6v1.6h-1.6zM134.6 126.8h1.6v1.6h-1.6zM154.9 95.2h1.6v1.6h-1.6zM131.5 85.1h1.6v1.6h-1.6zM99.5 150.6h1.6v1.6h-1.6zM124.8 106.1h1.6v1.6h-1.6zM134 132.9h1.6v1.6h-1.6zM137.1 119.5h1.6v1.6h-1.6zM111.6 99.7h1.6v1.6h-1.6zM160.8 124h1.6v1.6h-1.6zM220.4 67.5h1.6v1.6h-1.6zM135 102.6h1.6v1.6h-1.6zM131.5 123.1h1.6v1.6h-1.6zM106.1 153h1.6v1.6h-1.6zM120.3 123.7h1.6v1.6h-1.6zM148.7 100.1h1.6v1.6h-1.6zM124.2 117.6h1.6v1.6h-1.6zM130.9 118.5h1.6v1.6h-1.6zM162.6 114h1.6v1.6h-1.6zM160.6 91.1h1.6v1.6h-1.6zM136.4 126.8h1.6v1.6h-1.6zM160.5 102.5h1.6v1.6h-1.6zM76.5 87.2h1.6v1.6h-1.6zM133.1 127.6h1.6v1.6h-1.6zM118.9 133h1.6v1.6h-1.6zM161.6 99h1.6v1.6h-1.6zM199.6 75.6h1.6v1.6h-1.6zM132.6 127.9h1.6v1.6h-1.6zM149.9 100.3h1.6v1.6h-1.6zM175.6 98.5h1.6v1.6h-1.6zM154 135.1h1.6v1.6h-1.6zM117.9 96.3h1.6v1.6h-1.6zM184.9 92.3h1.6v1.6h-1.6zM170.7 115.4h1.6v1.6h-1.6zM129.7 127.4h1.6v1.6h-1.6zM129.8 86.7h1.6v1.6h-1.6zM133 101.8h1.6v1.6h-1.6zM193.5 87.3h1.6v1.6h-1.6zM156.4 134.4h1.6v1.6h-1.6zM125.8 119.5h1.6v1.6h-1.6zM133.5 125h1.6v1.6h-1.6zM158.4 115.2h1.6v1.6h-1.6zM165 113.1h1.6v1.6h-1.6zM148.4 136.4h1.6v1.6h-1.6zM174.2 107.2h1.6v1.6h-1.6zM140 127.7h1.6v1.6h-1.6zM118.8 136.7h1.6v1.6h-1.6zM153.3 129h1.6v1.6h-1.6zM125.3 131.5h1.6v1.6h-1.6zM132.4 142.5h1.6v1.6h-1.6zM146.7 82.6h1.6v1.6h-1.6zM126.9 109.5h1.6v1.6h-1.6zM123.3 84.4h1.6v1.6h-1.6zM134.2 124.9h1.6v1.6h-1.6zM155.2 133.5h1.6v1.6h-1.6zM124.7 100.9h1.6v1.6h-1.6zM131.1 99.4h1.6v1.6h-1.6zM133.3 132.6h1.6v1.6h-1.6zM146.6 87.6h1.6v1.6h-1.6zM125.7 84.6h1.6v1.6h-1.6zM149.7 147.6h1.6v1.6h-1.6zM111.5 130.6h1.6v1.6h-1.6zM122.4 131.8h1.6v1.6h-1.6zM159.3 84.5h1.6v1.6h-1.6zM123.3 106.5h1.6v1.6h-1.6zM122.4 99.3h1.6v1.6h-1.6z" fill="#1a1a1a"/>
<path d="M136 140.4h1.6v1.6h-1.6zM141.1 141.1h1.6v1.6h-1.6zM139.4 124.2h1.6v1.6h-1.6zM184.9 103.2h1.6v1.6h-1.6zM131 100.4h1.6v1.6h-1.6zM88.6 131.7h1.6v1.6h-1.6zM151.4 122.1h1.6v1.6h-1.6zM147.3 122.3h1.6v1.6h-1.6zM129 107.5h1.6v1.6h-1.6zM139 94.2h1.6v1.6h-1.6zM135.7 129.6h1.6v1.6h-1.6zM158.4 113.4h1.6v1.6h-1.6zM208.4 82h1.6v1.6h-1.6zM115.3 136.5h1.6v1.6h-1.6zM145.2 104.5h1.6v1.6h-1.6zM149.6 130.3h1.6v1.6h-1.6zM123.1 76.7h1.6v1.6h-1.6zM115.2 138h1.6v1.6h-1.6zM117 92.5h1.6v1.6h-1.6zM138 139.4h1.6v1.6h-1.6zM183.7 118.1h1.6v1.6h-1.6zM137.3 100.6h1.6v1.6h-1.6zM155.2 118.5h1.6v1.6h-1.6zM137.2 101.4h1.6v1.6h-1.6zM139.9 102h1.6v1.6h-1.6zM112.2 101.1h1.6v1.6h-1.6zM142.3 119.8h1.6v1.6h-1.6zM205.2 109h1.6v1.6h-1.6zM128.1 134.9h1.6v1.6h-1.6zM119.9 79.3h1.6v1.6h-1.6zM138.7 134.4h1.6v1.6h-1.6zM115.3 103.7h1.6v1.6h-1.6zM149.7 108h1.6v1.6h-1.6zM139.6 120.4h1.6v1.6h-1.6zM118.1 55.8h1.6v1.6h-1.6zM135.6 103.8h1.6v1.6h-1.6zM216.9 61.1h1.6v1.6h-1.6zM144 93.9h1.6v1.6h-1.6zM129 138.3h1.6v1.6h-1.6zM110.7 74h1.6v1.6h-1.6zM126.1 113.8h1.6v1.6h-1.6zM130 83.2h1.6v1.6h-1.6zM122.3 127.5h1.6v1.6h-1.6zM172.3 106.7h1.6v1.6h-1.6zM151.5 107.1h1.6v1.6h-1.6zM130.6 91.5h1.6v1.6h-1.6zM134.1 132.9h1.6v1.6h-1.6zM136.1 113.2h1.6v1.6h-1.6zM167.4 99.8h1.6v1.6h-1.6zM132.6 96.9h1.6v1.6h-1.6zM123.2 141h1.6v1.6h-1.6zM122.5 64.3h1.6v1.6h-1.6zM104.9 142.3h1.6v1.6h-1.6zM121.6 139.5h1.6v1.6h-1.6zM122.4 120h1.6v1.6h-1.6zM119 125.9h1.6v1.6h-1.6zM152.6 97.4h1.6v1.6h-1.6zM143.5 103.6h1.6v1.6h-1.6zM117.4 146.3h1.6v1.6h-1.6zM140.5 120.6h1.6v1.6h-1.6zM134 143.1h1.6v1.6h-1.6zM163.9 113.7h1.6v1.6h-1.6zM101.9 86h1.6v1.6h-1.6zM136 121.2h1.6v1.6h-1.6zM139.2 82.8h1.6v1.6h-1.6zM137.3 85.1h1.6v1.6h-1.6zM96.8 136.4h1.6v1.6h-1.6zM121.4 132.9h1.6v1.6h-1.6zM169.5 100.8h1.6v1.6h-1.6zM156.1 87.1h1.6v1.6h-1.6zM113.6 125.5h1.6v1.6h-1.6zM136.3 123.1h1.6v1.6h-1.6zM130.4 88.7h1.6v1.6h-1.6zM125 114.1h1.6v1.6h-1.6zM140.2 126.4h1.6v1.6h-1.6zM128.7 98.9h1.6v1.6h-1.6zM142.3 93.2h1.6v1.6h-1.6zM151.8 90.3h1.6v1.6h-1.6zM144.7 126.2h1.6v1.6h-1.6zM148.7 135h1.6v1.6h-1.6zM159.1 96.3h1.6v1.6h-1.6zM122 129.9h1.6v1.6h-1.6zM136.1 135.5h1.6v1.6h-1.6zM151 114.1h1.6v1.6h-1.6zM145.2 113.6h1.6v1.6h-1.6zM148.3 118h1.6v1.6h-1.6zM128.8 113.1h1.6v1.6h-1.6zM136.2 110.2h1.6v1.6h-1.6zM149.5 95.5h1.6v1.6h-1.6zM185.3 116.6h1.6v1.6h-1.6zM124.1 132.8h1.6v1.6h-1.6zM144.9 142h1.6v1.6h-1.6zM132.6 79.9h1.6v1.6h-1.6zM153.8 85.4h1.6v1.6h-1.6zM132.5 94.9h1.6v1.6h-1.6zM130.7 110.3h1.6v1.6h-1.6zM148.4 93.9h1.6v1.6h-1.6zM143.6 94.6h1.6v1.6h-1.6zM144.4 127.1h1.6v1.6h-1.6zM129.9 124h1.6v1.6h-1.6zM133.1 66.9h1.6v1.6h-1.6zM136.2 134.8h1.6v1.6h-1.6zM129.4 104.3h1.6v1.6h-1.6zM148 121.5h1.6v1.6h-1.6zM120 137.3h1.6v1.6h-1.6zM156.8 112.5h1.6v1.6h-1.6zM150.5 138.5h1.6v1.6h-1.6zM145.6 144.3h1.6v1.6h-1.6zM149.4 87.6h1.6v1.6h-1.6zM177 84.3h1.6v1.6h-1.6zM134.3 91.1h1.6v1.6h-1.6zM121.8 140.6h1.6v1.6h-1.6zM130.3 98h1.6v1.6h-1.6zM115.5 98.6h1.6v1.6h-1.6zM172.7 104.7h1.6v1.6h-1.6zM114.3 95.8h1.6v1.6h-1.6zM127.1 67.6h1.6v1.6h-1.6zM110.8 63.4h1.6v1.6h-1.6zM127 140.9h1.6v1.6h-1.6zM132.6 132h1.6v1.6h-1.6zM139.8 115.2h1.6v1.6h-1.6zM146.8 130.8h1.6v1.6h-1.6zM125.7 130.5h1.6v1.6h-1.6zM128.9 114.2h1.6v1.6h-1.6zM150.7 128.5h1.6v1.6h-1.6zM123.4 144.2h1.6v1.6h-1.6zM137.5 131.9h1.6v1.6h-1.6zM150.6 93.5h1.6v1.6h-1.6zM215.2 69.8h1.6v1.6h-1.6zM119.8 85.3h1.6v1.6h-1.6zM160.4 121.9h1.6v1.6h-1.6zM129.1 135.2h1.6v1.6h-1.6zM138.4 132.9h1.6v1.6h-1.6zM125.4 129.1h1.6v1.6h-1.6zM136.7 71.3h1.6v1.6h-1.6zM124.2 119.4h1.6v1.6h-1.6zM155.7 129.3h1.6v1.6h-1.6zM140.7 125.8h1.6v1.6h-1.6zM160.1 94.3h1.6v1.6h-1.6zM118.8 89.4h1.6v1.6h-1.6zM105.9 144.3h1.6v1.6h-1.6zM118 80.4h1.6v1.6h-1.6zM173.4 106.5h1.6v1.6h-1.6zM146.3 126.6h1.6v1.6h-1.6zM155.7 102.7h1.6v1.6h-1.6zM149.1 150.2h1.6v1.6h-1.6zM135.2 129.2h1.6v1.6h-1.6zM82.4 77.1h1.6v1.6h-1.6zM144.5 92.8h1.6v1.6h-1.6zM117.7 128h1.6v1.6h-1.6zM130.4 123.6h1.6v1.6h-1.6zM106.1 87.5h1.6v1.6h-1.6zM128.9 67.7h1.6v1.6h-1.6zM147.5 119.5h1.6v1.6h-1.6zM98.4 129.4h1.6v1.6h-1.6zM134.5 113.9h1.6v1.6h-1.6zM132.4 103.3h1.6v1.6h-1.6zM134.2 125.9h1.6v1.6h-1.6zM127.5 128.5h1.6v1.6h-1.6zM122.5 134.3h1.6v1.6h-1.6zM100.6 89h1.6v1.6h-1.6zM133.7 107.2h1.6v1.6h-1.6zM129.4 123.8h1.6v1.6h-1.6zM174.6 115.1h1.6v1.6h-1.6zM148.1 97.4h1.6v1.6h-1.6zM113.9 128.2h1.6v1.6h-1.6zM134.6 125h1.6v1.6h-1.6zM131.4 138.4h1.6v1.6h-1.6zM159.7 95.4h1.6v1.6h-1.6zM152.6 129.3h1.6v1.6h-1.6zM110 129.4h1.6v1.6h-1.6zM158.7 83.4h1.6v1.6h-1.6zM114.1 123.5h1.6v1.6h-1.6zM150 119.5h1.6v1.6h-1.6zM165.2 116.6h1.6v1.6h-1.6zM156.1 128h1.6v1.6h-1.6zM150.2 110.8h1.6v1.6h-1.6zM158.3 102.4h1.6v1.6h-1.6zM116.2 146.2h1.6v1.6h-1.6zM131.2 128.3h1.6v1.6h-1.6zM136.1 135.5h1.6v1.6h-1.6zM128.9 136.9h1.6v1.6h-1.6zM111.8 128.6h1.6v1.6h-1.6zM143.9 93.7h1.6v1.6h-1.6zM140.5 138.8h1.6v1.6h-1.6zM148.8 104.9h1.6v1.6h-1.6zM151.6 106.1h1.6v1.6h-1.6zM134.9 134.4h1.6v1.6h-1.6zM120.7 101.4h1.6v1.6h-1.6zM165.2 95.2h1.6v1.6h-1.6zM112.1 80.5h1.6v1.6h-1.6zM151.8 109.6h1.6v1.6h-1.6zM148.2 99.3h1.6v1.6h-1.6zM180.9 93.8h1.6v1.6h-1.6zM115.2 82h1.6v1.6h-1.6zM146.1 128.9h1.6v1.6h-1.6zM136.5 123.6h1.6v1.6h-1.6zM133.6 123.7h1.6v1.6h-1.6zM130 69.7h1.6v1.6h-1.6zM144.8 139.9h1.6v1.6h-1.6zM169.7 101.2h1.6v1.6h-1.6zM147.7 127.2h1.6v1.6h-1.6zM135.6 76.9h1.6v1.6h-1.6zM135.4 86h1.6v1.6h-1.6zM172.1 114.1h1.6v1.6h-1.6zM175.9 122.8h1.6v1.6h-1.6zM141.7 133.8h1.6v1.6h-1.6zM118.8 123.8h1.6v1.6h-1.6zM138.1 134.6h1.6v1.6h-1.6zM155.4 95.7h1.6v1.6h-1.6zM116.3 145.9h1.6v1.6h-1.6zM142.6 89.2h1.6v1.6h-1.6zM147.2 139h1.6v1.6h-1.6zM151.9 125h1.6v1.6h-1.6zM138.6 122.3h1.6v1.6h-1.6zM137.6 139.1h1.6v1.6h-1.6zM113.9 138.8h1.6v1.6h-1.6zM129.1 100.4h1.6v1.6h-1.6zM118.7 115.8h1.6v1.6h-1.6zM130 61.8h1.6v1.6h-1.6zM113.8 126.8h1.6v1.6h-1.6zM144.6 118.2h1.6v1.6h-1.6zM141.6 118.1h1.6v1.6h-1.6zM144.5 92.3h1.6v1.6h-1.6zM128.8 135h1.6v1.6h-1.6zM143 90.1h1.6v1.6h-1.6zM118.2 114.9h1.6v1.6h-1.6zM213.7 52.1h1.6v1.6h-1.6zM143.1 123.2h1.6v1.6h-1.6zM156.5 121h1.6v1.6h-1.6zM146.3 82.4h1.6v1.6h-1.6zM142.5 123.8h1.6v1.6h-1.6zM111.9 132.5h1.6v1.6h-1.6zM184.7 131.1h1.6v1.6h-1.6zM142.4 126.8h1.6v1.6h-1.6zM108.9 141.8h1.6v1.6h-1.6zM151.8 99.7h1.6v1.6h-1.6zM136.6 115.4h1.6v1.6h-1.6zM154.8 77.8h1.6v1.6h-1.6zM139.1 118.6h1.6v1.6h-1.6zM153.6 81.4h1.6v1.6h-1.6zM109.9 123.2h1.6v1.6h-1.6zM167.2 131.1h1.6v1.6h-1.6zM123 129.9h1.6v1.6h-1.6zM123.5 54.4h1.6v1.6h-1.6zM154 113.8h1.6v1.6h-1.6zM140.9 87.2h1.6v1.6h-1.6zM111.5 91.5h1.6v1.6h-1.6zM147.6 132.3h1.6v1.6h-1.6zM125.4 112.3h1.6v1.6h-1.6zM131.7 112.9h1.6v1.6h-1.6zM123.2 132.7h1.6v1.6h-1.6zM132.3 106.9h1.6v1.6h-1.6zM127.3 145.3h1.6v1.6h-1.6zM123.6 77.6h1.6v1.6h-1.6zM122.4 129.1h1.6v1.6h-1.6zM133.8 101.6h1.6v1.6h-1.6zM122 90.7h1.6v1.6h-1.6zM158.3 143.5h1.6v1.6h-1.6zM167.1 93h1.6v1.6h-1.6zM131.4 90.6h1.6v1.6h-1.6zM142.1 134h1.6v1.6h-1.6zM128.1 90.2h1.6v1.6h-1.6zM134.9 128.9h1.6v1.6h-1.6zM175.1 129.8h1.6v1.6h-1.6zM95.9 122.2h1.6v1.6h-1.6zM129.7 125h1.6v1.6h-1.6zM143.5 135.4h1.6v1.6h-1.6zM165.4 85.7h1.6v1.6h-1.6zM146.4 130.3h1.6v1.6h-1.6zM131.4 82.4h1.6v1.6h-1.6zM128.8 105.1h1.6v1.6h-1.6zM77 138.4h1.6v1.6h-1.6zM129.5 90.9h1.6v1.6h-1.6zM145.3 122.2h1.6v1.6h-1.6zM144.6 122.5h1.6v1.6h-1.6zM147.2 97.8h1.6v1.6h-1.6zM210.6 55.9h1.6v1.6h-1.6zM171.8 105.2h1.6v1.6h-1.6zM145.3 144h1.6v1.6h-1.6zM152.9 107.5h1.6v1.6h-1.6zM193.7 95.5h1.6v1.6h-1.6zM136.4 89.5h1.6v1.6h-1.6zM150.8 125.5h1.6v1.6h-1.6zM138 129h1.6v1.6h-1.6zM192.4 112.8h1.6v1.6h-1.6zM122.1 130.3h1.6v1.6h-1.6zM149.5 84h1.6v1.6h-1.6zM129.2 140.1h1.6v1.6h-1.6zM148.4 120.3h1.6v1.6h-1.6zM116.5 136.8h1.6v1.6h-1.6zM123.6 126h1.6v1.6h-1.6zM147 133.5h1.6v1.6h-1.6zM143 98.2h1.6v1.6h-1.6zM170.2 88.9h1.6v1.6h-1.6zM152.2 110h1.6v1.6h-1.6zM143.6 99.7h1.6v1.6h-1.6zM165.6 77.7h1.6v1.6h-1.6zM177.1 85.5h1.6v1.6h-1.6zM137.7 114.5h1.6v1.6h-1.6zM160.9 114.3h1.6v1.6h-1.6zM143 80.5h1.6v1.6h-1.6zM151.2 127.6h1.6v1.6h-1.6zM137.9 84.6h1.6v1.6h-1.6zM136.1 115.7h1.6v1.6h-1.6zM143.3 99.3h1.6v1.6h-1.6zM122.9 127.2h1.6v1.6h-1.6zM125.8 124.1h1.6v1.6h-1.6zM133.9 146.2h1.6v1.6h-1.6zM119 108.9h1.6v1.6h-1.6zM133.5 121.5h1.6v1.6h-1.6zM116.6 123.1h1.6v1.6h-1.6zM107.5 120.3h1.6v1.6h-1.6zM171.2 122.4h1.6v1.6h-1.6zM131.3 72.4h1.6v1.6h-1.6zM118.8 80.6h1.6v1.6h-1.6zM140.2 103.3h1.6v1.6h-1.6zM136.8 130.4h1.6v1.6h-1.6zM152.8 113h1.6v1.6h-1.6zM133.4 88.3h1.6v1.6h-1.6zM138.4 130h1.6v1.6h-1.6zM126.7 112.3h1.6v1.6h-1.6zM155 92.9h1.6v1.6h-1.6zM145.7 112.8h1.6v1.6h-1.6zM126.6 128.1h1.6v1.6h-1.6zM171.4 118h1.6v1.6h-1.6zM135.2 96.4h1.6v1.6h-1.6zM129.7 98.1h1.6v1.6h-1.6zM146.8 71.7h1.6v1.6h-1.6zM137.6 136.1h1.6v1.6h-1.6zM136.9 138.2h1.6v1.6h-1.6zM112.1 101.4h1.6v1.6h-1.6zM144.5 134.6h1.6v1.6h-1.6zM129.2 143.9h1.6v1.6h-1.6zM150.3 91.9h1.6v1.6h-1.6zM141.4 132.6h1.6v1.6h-1.6zM149.1 127.4h1.6v1.6h-1.6zM175 127.2h1.6v1.6h-1.6zM151.3 101.5h1.6v1.6h-1.6zM158 117.4h1.6v1.6h-1.6zM142.2 122.5h1.6v1.6h-1.6zM154.3 136.2h1.6v1.6h-1.6zM136.2 136.2h1.6v1.6h-1.6zM132.3 122.4h1.6v1.6h-1.6zM125.1 132.5h1.6v1.6h-1.6zM180.6 106.2h1.6v1.6h-1.6zM148 92h1.6v1.6h-1.6zM134.1 132.3h1.6v1.6h-1.6zM135.6 135.4h1.6v1.6h-1.6zM163.4 86.9h1.6v1.6h-1.6zM140.3 141.3h1.6v1.6h-1.6zM126.9 105h1.6v1.6h-1.6zM123.1 134.1h1.6v1.6h-1.6zM130.5 122.3h1.6v1.6h-1.6zM158.1 134.4h1.6v1.6h-1.6zM136.2 114.6h1.6v1.6h-1.6zM118.2 134.6h1.6v1.6h-1.6zM138.7 110.8h1.6v1.6h-1.6zM120.6 106.9h1.6v1.6h-1.6zM131 106.3h1.6v1.6h-1.6zM90 105.2h1.6v1.6h-1.6zM159 91.1h1.6v1.6h-1.6zM149.3 141.3h1.6v1.6h-1.6zM141 102.9h1.6v1.6h-1.6zM128 124.5h1.6v1.6h-1.6zM130.9 100.7h1.6v1.6h-1.6zM160.4 64.4h1.6v1.6h-1.6zM118.1 138.6h1.6v1.6h-1.6zM173.2 103.8h1.6v1.6h-1.6zM128.7 101.9h1.6v1.6h-1.6zM144.4 124.3h1.6v1.6h-1.6zM171.4 100.8h1.6v1.6h-1.6zM146.5 106.9h1.6v1.6h-1.6zM154.6 137.3h1.6v1.6h-1.6zM131.3 126.3h1.6v1.6h-1.6zM119.5 125.4h1.6v1.6h-1.6zM131 118.1h1.6v1.6h-1.6zM138.8 116.6h1.6v1.6h-1.6zM113.4 104.9h1.6v1.6h-1.6zM130.1 132h1.6v1.6h-1.6zM129.4 81.8h1.6v1.6h-1.6zM124.9 129.8h1.6v1.6h-1.6zM204.2 85h1.6v1.6h-1.6zM100.8 130.8h1.6v1.6h-1.6zM138.5 101.1h1.6v1.6h-1.6zM102.7 134.2h1.6v1.6h-1.6zM145.6 84.3h1.6v1.6h-1.6zM153.5 107.4h1.6v1.6h-1.6zM147.2 131.5h1.6v1.6h-1.6zM107.9 141h1.6v1.6h-1.6zM136.9 101.7h1.6v1.6h-1.6zM176 97.6h1.6v1.6h-1.6zM135.2 131h1.6v1.6h-1.6zM155.9 126.6h1.6v1.6h-1.6zM98.7 109.6h1.6v1.6h-1.6zM131 113.9h1.6v1.6h-1.6zM133.9 129.5h1.6v1.6h-1.6zM139.9 132.1h1.6v1.6h-1.6zM119.1 92.6h1.6v1.6h-1.6zM151.5 130.2h1.6v1.6h-1.6zM150.7 90.6h1.6v1.6h-1.6zM140.5 129.7h1.6v1.6h-1.6zM145.7 125.2h1.6v1.6h-1.6zM109.2 131.5h1.6v1.6h-1.6zM128.6 92.9h1.6v1.6h-1.6zM140.9 112h1.6v1.6h-1.6zM142.1 116.7h1.6v1.6h-1.6zM143.7 124.9h1.6v1.6h-1.6zM104 124.5h1.6v1.6h-1.6zM127.4 129.4h1.6v1.6h-1.6zM136.5 123.1h1.6v1.6h-1.6zM157.6 137.9h1.6v1.6h-1.6zM114.7 76.7h1.6v1.6h-1.6zM162.8 136.1h1.6v1.6h-1.6zM125.3 114.7h1.6v1.6h-1.6zM136 137.7h1.6v1.6h-1.6zM134 129h1.6v1.6h-1.6zM119.5 123.3h1.6v1.6h-1.6zM130.1 139.2h1.6v1.6h-1.6zM154.9 108.4h1.6v1.6h-1.6zM114.7 101.2h1.6v1.6h-1.6zM111.5 115.2h1.6v1.6h-1.6zM143.2 119.8h1.6v1.6h-1.6zM171.3 120.5h1.6v1.6h-1.6zM152.4 105.1h1.6v1.6h-1.6zM84.1 77.3h1.6v1.6h-1.6zM132.9 100.7h1.6v1.6h-1.6zM129 147.1h1.6v1.6h-1.6zM159.5 137.7h1.6v1.6h-1.6zM140.9 124.7h1.6v1.6h-1.6zM155.2 125.2h1.6v1.6h-1.6zM151.9 111.9h1.6v1.6h-1.6zM131.3 123h1.6v1.6h-1.6zM103.5 133.4h1.6v1.6h-1.6zM142.5 105.1h1.6v1.6h-1.6zM120.8 133h1.6v1.6h-1.6zM155.9 92.5h1.6v1.6h-1.6zM127.7 84.5h1.6v1.6h-1.6zM119.7 93.1h1.6v1.6h-1.6zM143.9 109h1.6v1.6h-1.6zM157.3 157.4h1.6v1.6h-1.6zM139.4 110.2h1.6v1.6h-1.6zM134.4 87.2h1.6v1.6h-1.6zM131.5 93.7h1.6v1.6h-1.6zM120.4 115.9h1.6v1.6h-1.6zM159.9 115h1.6v1.6h-1.6zM99 103.1h1.6v1.6h-1.6zM137.1 85.7h1.6v1.6h-1.6zM125.7 139.7h1.6v1.6h-1.6zM127.1 122.6h1.6v1.6h-1.6zM132 135.3h1.6v1.6h-1.6zM134.7 125.3h1.6v1.6h-1.6zM107.5 127.4h1.6v1.6h-1.6zM114.9 116.7h1.6v1.6h-1.6zM164.7 104.8h1.6v1.6h-1.6zM130.4 132.9h1.6v1.6h-1.6zM117.7 134.6h1.6v1.6h-1.6zM147.6 123.5h1.6v1.6h-1.6zM136.3 134.5h1.6v1.6h-1.6zM147.7 76.7h1.6v1.6h-1.6zM127.5 135.5h1.6v1.6h-1.6zM113.1 124h1.6v1.6h-1.6zM157.9 138.6h1.6v1.6h-1.6zM147.3 136.7h1.6v1.6h-1.6zM158.9 83.7h1.6v1.6h-1.6zM123.3 100.7h1.6v1.6h-1.6zM147.5 107.3h1.6v1.6h-1.6zM160.7 80.8h1.6v1.6h-1.6zM197 89.5h1.6v1.6h-1.6zM136.9 103.6h1.6v1.6h-1.6zM119.4 123.9h1.6v1.6h-1.6zM155.9 75.7h1.6v1.6h-1.6zM170.3 75.2h1.6v1.6h-1.6zM155.9 135.7h1.6v1.6h-1.6zM102.1 69.7h1.6v1.6h-1.6zM130.5 104.8h1.6v1.6h-1.6zM128.2 126.7h1.6v1.6h-1.6zM145.9 98.9h1.6v1.6h-1.6zM140.6 92.6h1.6v1.6h-1.6zM123.3 88h1.6v1.6h-1.6zM165.6 105.7h1.6v1.6h-1.6zM145.9 97.9h1.6v1.6h-1.6zM140.1 140.5h1.6v1.6h-1.6zM131 107.4h1.6v1.6h-1.6zM166.8 116.8h1.6v1.6h-1.6zM139.9 115.1h1.6v1.6h-1.6zM147 122h1.6v1.6h-1.6zM138.2 125.8h1.6v1.6h-1.6zM137.1 98.2h1.6v1.6h-1.6zM150.6 146.5h1.6v1.6h-1.6zM142.5 68.7h1.6v1.6h-1.6zM125.4 78.3h1.6v1.6h-1.6zM149.8 123.5h1.6v1.6h-1.6zM174.5 110.8h1.6v1.6h-1.6zM119.9 110h1.6v1.6h-1.6zM158.6 121h1.6v1.6h-1.6zM135.1 85h1.6v1.6h-1.6zM160.7 107.1h1.6v1.6h-1.6zM141.1 116h1.6v1.6h-1.6zM124.3 138.3h1.6v1.6h-1.6zM158.2 105.4h1.6v1.6h-1.6zM136.3 73.3h1.6v1.6h-1.6zM136.5 93.9h1.6v1.6h-1.6zM142.1 112.5h1.6v1.6h-1.6zM133.7 113.9h1.6v1.6h-1.6zM125.1 128h1.6v1.6h-1.6zM123.3 140.3h1.6v1.6h-1.6zM112.3 123.4h1.6v1.6h-1.6zM126.3 82.6h1.6v1.6h-1.6zM211.8 72.1h1.6v1.6h-1.6zM136.6 127h1.6v1.6h-1.6zM136.6 137.2h1.6v1.6h-1.6zM142.3 129.6h1.6v1.6h-1.6zM120.2 133.9h1.6v1.6h-1.6zM134 98.8h1.6v1.6h-1.6zM150.8 90.4h1.6v1.6h-1.6zM145.1 120.4h1.6v1.6h-1.6zM135.6 99.8h1.6v1.6h-1.6zM129.2 98.3h1.6v1.6h-1.6zM150.3 120.3h1.6v1.6h-1.6zM153.7 129.4h1.6v1.6h-1.6zM153.6 126.6h1.6v1.6h-1.6zM134.2 140.1h1.6v1.6h-1.6zM147.2 101.3h1.6v1.6h-1.6zM105.2 123.2h1.6v1.6h-1.6zM124 91.1h1.6v1.6h-1.6zM126.8 91.5h1.6v1.6h-1.6zM110.1 149.1h1.6v1.6h-1.6zM119.4 104.4h1.6v1.6h-1.6zM116.1 131.4h1.6v1.6h-1.6zM120.9 137h1.6v1.6h-1.6zM228.1 47.8h1.6v1.6h-1.6zM114 123.8h1.6v1.6h-1.6zM157.8 123.9h1.6v1.6h-1.6zM157.9 96.2h1.6v1.6h-1.6zM131.4 130.4h1.6v1.6h-1.6zM107.7 132h1.6v1.6h-1.6zM143.4 131h1.6v1.6h-1.6zM159.2 102.2h1.6v1.6h-1.6zM124.5 135.2h1.6v1.6h-1.6zM159.9 145.2h1.6v1.6h-1.6zM147.8 88h1.6v1.6h-1.6zM163 113.5h1.6v1.6h-1.6zM130.7 58.9h1.6v1.6h-1.6zM119.4 127.6h1.6v1.6h-1.6zM107.3 126.8h1.6v1.6h-1.6zM141.2 84.3h1.6v1.6h-1.6zM124.3 156.9h1.6v1.6h-1.6zM117.8 96.4h1.6v1.6h-1.6zM121.3 99.2h1.6v1.6h-1.6zM148.8 118h1.6v1.6h-1.6zM190.2 99.6h1.6v1.6h-1.6zM121.5 119.1h1.6v1.6h-1.6zM152.9 67.5h1.6v1.6h-1.6zM135 107.4h1.6v1.6h-1.6zM124.7 95.2h1.6v1.6h-1.6zM123.7 120.4h1.6v1.6h-1.6zM166.3 113.3h1.6v1.6h-1.6zM146.4 99.8h1.6v1.6h-1.6zM137.3 127.4h1.6v1.6h-1.6zM140.8 140.3h1.6v1.6h-1.6zM175.8 88.4h1.6v1.6h-1.6zM145.8 112.8h1.6v1.6h-1.6zM128.7 130h1.6v1.6h-1.6zM166.9 87.6h1.6v1.6h-1.6zM100 124.3h1.6v1.6h-1.6zM129.1 98.7h1.6v1.6h-1.6zM135.4 129.2h1.6v1.6h-1.6zM127.2 75.6h1.6v1.6h-1.6zM125.9 87h1.6v1.6h-1.6zM144.7 114.4h1.6v1.6h-1.6zM141.1 91h1.6v1.6h-1.6zM124.5 145.6h1.6v1.6h-1.6zM131.7 135.9h1.6v1.6h-1.6zM144.1 76.1h1.6v1.6h-1.6zM140 122h1.6v1.6h-1.6zM122.4 127h1.6v1.6h-1.6zM143.9 125.2h1.6v1.6h-1.6zM139.5 99.6h1.6v1.6h-1.6zM135.9 121.5h1.6v1.6h-1.6zM163.7 84.7h1.6v1.6h-1.6zM159.7 134.8h1.6v1.6h-1.6zM73.8 87.6h1.6v1.6h-1.6zM149.4 138.2h1.6v1.6h-1.6zM153.6 80.6h1.6v1.6h-1.6zM126.5 125.4h1.6v1.6h-1.6zM148.8 107.5h1.6v1.6h-1.6zM147.6 99.3h1.6v1.6h-1.6zM219.1 109.9h1.6v1.6h-1.6zM144 136.9h1.6v1.6h-1.6zM137.1 136.2h1.6v1.6h-1.6zM130.6 121h1.6v1.6h-1.6zM162.9 99.5h1.6v1.6h-1.6zM127.3 128h1.6v1.6h-1.6zM141 136.8h1.6v1.6h-1.6zM133.4 136h1.6v1.6h-1.6zM135.7 126.8h1.6v1.6h-1.6zM120.9 138.7h1.6v1.6h-1.6zM143.9 80.1h1.6v1.6h-1.6zM129.4 122.6h1.6v1.6h-1.6zM114.5 55.4h1.6v1.6h-1.6zM78.8 155.3h1.6v1.6h-1.6zM147.4 114.5h1.6v1.6h-1.6zM117.1 121.9h1.6v1.6h-1.6zM165.2 132.6h1.6v1.6h-1.6zM81.1 124.8h1.6v1.6h-1.6zM173.2 115.7h1.6v1.6h-1.6zM142.3 106.1h1.6v1.6h-1.6zM121.2 143h1.6v1.6h-1.6zM151.1 123.2h1.6v1.6h-1.6zM122.8 114h1.6v1.6h-1.6zM121.4 120.1h1.6v1.6h-1.6zM130.2 133.2h1.6v1.6h-1.6zM81.6 105.9h1.6v1.6h-1.6zM137.6 90.5h1.6v1.6h-1.6zM173.9 102.5h1.6v1.6h-1.6zM115.2 103.3h1.6v1.6h-1.6zM114.3 132.1h1.6v1.6h-1.6zM142.7 108.1h1.6v1.6h-1.6zM136 105.6h1.6v1.6h-1.6zM148.5 120.4h1.6v1.6h-1.6zM129.5 92.5h1.6v1.6h-1.6zM127.3 81.8h1.6v1.6h-1.6zM153.9 79.7h1.6v1.6h-1.6zM113.9 114.8h1.6v1.6h-1.6zM132.5 129.5h1.6v1.6h-1.6zM136.3 80.3h1.6v1.6h-1.6zM118.4 95.3h1.6v1.6h-1.6zM114.4 120h1.6v1.6h-1.6zM126.9 127.8h1.6v1.6h-1.6zM165.8 76.3h1.6v1.6h-1.6zM168.7 76.4h1.6v1.6h-1.6zM139.3 120.4h1.6v1.6h-1.6zM152.7 107.2h1.6v1.6h-1.6zM144.5 70.6h1.6v1.6h-1.6zM150.3 130.4h1.6v1.6h-1.6zM152.9 116.9h1.6v1.6h-1.6zM127.5 89.4h1.6v1.6h-1.6zM138.9 135.4h1.6v1.6h-1.6zM153.4 108.6h1.6v1.6h-1.6zM130.1 121.5h1.6v1.6h-1.6zM148.9 106.4h1.6v1.6h-1.6zM158.8 102.2h1.6v1.6h-1.6zM133.9 137.4h1.6v1.6h-1.6zM157.9 79.6h1.6v1.6h-1.6zM134.9 111.9h1.6v1.6h-1.6zM138.7 132.4h1.6v1.6h-1.6zM138.3 85.6h1.6v1.6h-1.6zM159 98h1.6v1.6h-1.6zM157.5 75.1h1.6v1.6h-1.6zM130.7 105.6h1.6v1.6h-1.6zM107.7 121.9h1.6v1.6h-1.6zM137.9 138.4h1.6v1.6h-1.6zM143.6 101.5h1.6v1.6h-1.6zM121.5 131.3h1.6v1.6h-1.6zM117.8 126.2h1.6v1.6h-1.6zM105.9 136.2h1.6v1.6h-1.6zM157.9 116.5h1.6v1.6h-1.6zM128 139.4h1.6v1.6h-1.6zM120.5 77.9h1.6v1.6h-1.6zM135.2 95.8h1.6v1.6h-1.6zM109.9 138.2h1.6v1.6h-1.6zM131.7 106.1h1.6v1.6h-1.6zM136.5 126.2h1.6v1.6h-1.6zM129.1 112.9h1.6v1.6h-1.6zM134.5 113.8h1.6v1.6h-1.6zM132.9 136.5h1.6v1.6h-1.6zM117.3 128.7h1.6v1.6h-1.6zM147.5 85.9h1.6v1.6h-1.6zM175.6 106.9h1.6v1.6h-1.6zM109.5 97.2h1.6v1.6h-1.6zM125.4 96.3h1.6v1.6h-1.6zM157.7 105.9h1.6v1.6h-1.6zM137.5 84.5h1.6v1.6h-1.6zM167 123.8h1.6v1.6h-1.6zM121.3 101.9h1.6v1.6h-1.6zM143.5 141.7h1.6v1.6h-1.6zM121.6 132h1.6v1.6h-1.6zM96.9 91.3h1.6v1.6h-1.6zM136.5 112.8h1.6v1.6h-1.6zM126.2 85.3h1.6v1.6h-1.6zM167.9 100h1.6v1.6h-1.6zM54.9 98h1.6v1.6h-1.6zM180.7 52.7h1.6v1.6h-1.6zM109.7 130.9h1.6v1.6h-1.6zM157.1 133h1.6v1.6h-1.6zM145.5 116h1.6v1.6h-1.6zM154.4 115.8h1.6v1.6h-1.6zM142.5 90.1h1.6v1.6h-1.6zM157.6 106.2h1.6v1.6h-1.6zM131.9 131h1.6v1.6h-1.6zM137.2 117.8h1.6v1.6h-1.6zM145.3 147.6h1.6v1.6h-1.6zM154.5 128.1h1.6v1.6h-1.6zM149.4 91.2h1.6v1.6h-1.6zM119.8 98.2h1.6v1.6h-1.6zM151.8 103h1.6v1.6h-1.6zM116.3 137.4h1.6v1.6h-1.6zM137.7 123.7h1.6v1.6h-1.6zM114.2 133.2h1.6v1.6h-1.6zM149.4 121.3h1.6v1.6h-1.6zM128.9 109h1.6v1.6h-1.6zM129.5 127.4h1.6v1.6h-1.6zM165.1 137.3h1.6v1.6h-1.6zM123.6 104.4h1.6v1.6h-1.6zM149.5 79.9h1.6v1.6h-1.6zM135.1 125h1.6v1.6h-1.6zM132.6 114.4h1.6v1.6h-1.6zM159.9 135.3h1.6v1.6h-1.6zM212.1 76h1.6v1.6h-1.6zM145.7 125h1.6v1.6h-1.6zM128.8 85h1.6v1.6h-1.6zM127.5 126.1h1.6v1.6h-1.6zM160.9 108.7h1.6v1.6h-1.6zM138.1 128.7h1.6v1.6h-1.6zM112.9 127.8h1.6v1.6h-1.6zM120.5 132.1h1.6v1.6h-1.6zM134 90.8h1.6v1.6h-1.6zM137.6 103.1h1.6v1.6h-1.6zM113.1 132.6h1.6v1.6h-1.6zM114.6 140.3h1.6v1.6h-1.6zM126.3 92.3h1.6v1.6h-1.6zM105.5 126.2h1.6v1.6h-1.6zM133.4 136h1.6v1.6h-1.6zM135.5 131.4h1.6v1.6h-1.6zM127.3 100.9h1.6v1.6h-1.6zM114.9 83.3h1.6v1.6h-1.6zM152.1 133.7h1.6v1.6h-1.6zM166.4 133.4h1.6v1.6h-1.6zM164.4 116.9h1.6v1.6h-1.6zM96 134h1.6v1.6h-1.6zM149.9 132.7h1.6v1.6h-1.6zM222.4 67.3h1.6v1.6h-1.6zM111 128h1.6v1.6h-1.6zM140.1 130.7h1.6v1.6h-1.6zM152 134.7h1.6v1.6h-1.6zM132.2 132.3h1.6v1.6h-1.6zM142.1 141.9h1.6v1.6h-1.6zM146.1 76.5h1.6v1.6h-1.6zM148.8 137.3h1.6v1.6h-1.6zM118.8 135.1h1.6v1.6h-1.6zM148.4 95.2h1.6v1.6h-1.6zM95.6 121.3h1.6v1.6h-1.6zM146.6 121.9h1.6v1.6h-1.6zM134.5 140.7h1.6v1.6h-1.6zM117.6 134.7h1.6v1.6h-1.6zM148.1 98.6h1.6v1.6h-1.6zM153.3 67.7h1.6v1.6h-1.6zM160.7 99.1h1.6v1.6h-1.6zM105.8 95.3h1.6v1.6h-1.6zM89.4 144h1.6v1.6h-1.6zM142.7 127.7h1.6v1.6h-1.6zM108.8 70.1h1.6v1.6h-1.6zM141.8 89.5h1.6v1.6h-1.6zM122.7 97.4h1.6v1.6h-1.6zM139.8 108.2h1.6v1.6h-1.6zM137 134.9h1.6v1.6h-1.6zM141.6 120.1h1.6v1.6h-1.6zM128.3 133.2h1.6v1.6h-1.6zM136.1 131.8h1.6v1.6h-1.6zM138 103.2h1.6v1.6h-1.6zM74.7 48.2h1.6v1.6h-1.6zM172.2 105.1h1.6v1.6h-1.6zM118.8 75.4h1.6v1.6h-1.6zM146.1 140h1.6v1.6h-1.6zM153.4 105.4h1.6v1.6h-1.6zM157.2 87.3h1.6v1.6h-1.6zM160.6 95.1h1.6v1.6h-1.6zM154.8 131.9h1.6v1.6h-1.6zM123 131.5h1.6v1.6h-1.6zM165.6 139.8h1.6v1.6h-1.6zM133 128.4h1.6v1.6h-1.6zM128.9 98.6h1.6v1.6h-1.6zM220.5 63.8h1.6v1.6h-1.6zM137.7 125.2h1.6v1.6h-1.6zM170.7 128.5h1.6v1.6h-1.6zM147.4 141.4h1.6v1.6h-1.6zM142.6 134.8h1.6v1.6h-1.6zM134.4 119.5h1.6v1.6h-1.6zM128.5 84.1h1.6v1.6h-1.6zM118.3 124.9h1.6v1.6h-1.6zM152.9 130.7h1.6v1.6h-1.6zM132.5 133.5h1.6v1.6h-1.6zM151.3 46.1h1.6v1.6h-1.6zM139.2 124.3h1.6v1.6h-1.6zM154 129.3h1.6v1.6h-1.6zM134.3 127.4h1.6v1.6h-1.6zM131.2 114.4h1.6v1.6h-1.6zM138.4 133.5h1.6v1.6h-1.6zM129.4 105.4h1.6v1.6h-1.6zM123.9 131.8h1.6v1.6h-1.6zM136.5 107.9h1.6v1.6h-1.6zM166.7 100.2h1.6v1.6h-1.6zM142.8 77.7h1.6v1.6h-1.6zM80.2 86.3h1.6v1.6h-1.6zM158.6 136.6h1.6v1.6h-1.6zM143.8 137.2h1.6v1.6h-1.6zM152.4 104.6h1.6v1.6h-1.6zM132.7 86.2h1.6v1.6h-1.6zM114.4 131.2h1.6v1.6h-1.6zM131.5 144.7h1.6v1.6h-1.6zM132.9 132.5h1.6v1.6h-1.6zM161.8 135.7h1.6v1.6h-1.6zM120.5 121.7h1.6v1.6h-1.6zM209.2 61h1.6v1.6h-1.6zM159.5 134.7h1.6v1.6h-1.6zM125 97.3h1.6v1.6h-1.6zM122.6 90.1h1.6v1.6h-1.6zM128.6 131.5h1.6v1.6h-1.6zM120.7 138.6h1.6v1.6h-1.6zM142.6 94.7h1.6v1.6h-1.6zM138.9 139.9h1.6v1.6h-1.6zM140.8 144.2h1.6v1.6h-1.6zM216.6 77.3h1.6v1.6h-1.6zM147 134.6h1.6v1.6h-1.6zM143.8 121.2h1.6v1.6h-1.6zM138 126.1h1.6v1.6h-1.6zM148.4 134.4h1.6v1.6h-1.6zM138.9 88.9h1.6v1.6h-1.6zM127.9 140.9h1.6v1.6h-1.6zM144.4 123.4h1.6v1.6h-1.6zM160.5 131.5h1.6v1.6h-1.6zM144 94.5h1.6v1.6h-1.6zM137.9 86.5h1.6v1.6h-1.6zM144.7 105.7h1.6v1.6h-1.6zM157 72h1.6v1.6h-1.6zM187.6 100.3h1.6v1.6h-1.6zM131.4 122h1.6v1.6h-1.6zM151.7 120.8h1.6v1.6h-1.6zM136.3 87.7h1.6v1.6h-1.6zM150.2 129.1h1.6v1.6h-1.6zM113.1 134.8h1.6v1.6h-1.6zM131.1 131.3h1.6v1.6h-1.6zM131.2 134.5h1.6v1.6h-1.6zM144.8 97.9h1.6v1.6h-1.6zM132.6 108.3h1.6v1.6h-1.6zM95.9 103.4h1.6v1.6h-1.6zM118 130.6h1.6v1.6h-1.6zM111.9 139.1h1.6v1.6h-1.6zM170 103h1.6v1.6h-1.6zM129.9 92.3h1.6v1.6h-1.6zM107 67.3h1.6v1.6h-1.6zM118.7 86.6h1.6v1.6h-1.6zM143.5 74.8h1.6v1.6h-1.6zM136.5 53.9h1.6v1.6h-1.6zM134 133.2h1.6v1.6h-1.6zM141.5 132.6h1.6v1.6h-1.6zM154 137h1.6v1.6h-1.6zM131.2 93.5h1.6v1.6h-1.6zM122.4 125h1.6v1.6h-1.6zM137 124.8h1.6v1.6h-1.6zM144.7 97.5h1.6v1.6h-1.6zM157.4 117.6h1.6v1.6h-1.6zM132.6 134.2h1.6v1.6h-1.6zM127.5 115h1.6v1.6h-1.6zM137.4 119.6h1.6v1.6h-1.6zM167.2 100.2h1.6v1.6h-1.6zM137.7 122.2h1.6v1.6h-1.6zM123.6 130.7h1.6v1.6h-1.6zM112.1 66.8h1.6v1.6h-1.6zM169.4 106.5h1.6v1.6h-1.6zM120.1 125.6h1.6v1.6h-1.6zM199.2 104h1.6v1.6h-1.6zM132.6 120.6h1.6v1.6h-1.6zM168.5 80.3h1.6v1.6h-1.6zM123.6 133.9h1.6v1.6h-1.6zM149.9 74.8h1.6v1.6h-1.6zM137.6 124.9h1.6v1.6h-1.6zM130.6 131.1h1.6v1.6h-1.6zM109.9 125.1h1.6v1.6h-1.6zM153 91.6h1.6v1.6h-1.6zM127.7 84.6h1.6v1.6h-1.6zM115.4 133.7h1.6v1.6h-1.6zM142.4 128.8h1.6v1.6h-1.6zM72.7 82.9h1.6v1.6h-1.6zM167.8 110.7h1.6v1.6h-1.6zM92.5 144.8h1.6v1.6h-1.6zM175.4 104.3h1.6v1.6h-1.6zM124.1 97.3h1.6v1.6h-1.6zM108.6 123.7h1.6v1.6h-1.6zM204.6 63.4h1.6v1.6h-1.6zM137 89.4h1.6v1.6h-1.6zM148.1 129.7h1.6v1.6h-1.6zM122.7 123.4h1.6v1.6h-1.6zM94.8 144.9h1.6v1.6h-1.6zM127.9 100.1h1.6v1.6h-1.6zM183.8 138.1h1.6v1.6h-1.6zM125.5 124.7h1.6v1.6h-1.6zM134.6 96.5h1.6v1.6h-1.6zM149.3 107.2h1.6v1.6h-1.6zM122.1 126.6h1.6v1.6h-1.6zM136.4 111.2h1.6v1.6h-1.6zM166.7 135.2h1.6v1.6h-1.6zM133.3 110.1h1.6v1.6h-1.6zM137.9 117.7h1.6v1.6h-1.6zM131.7 115.1h1.6v1.6h-1.6zM132.6 141h1.6v1.6h-1.6zM133.7 91.3h1.6v1.6h-1.6zM109.8 104.6h1.6v1.6h-1.6zM125.6 107.7h1.6v1.6h-1.6zM136 138.1h1.6v1.6h-1.6zM160 110.3h1.6v1.6h-1.6zM136.3 148h1.6v1.6h-1.6zM134 130h1.6v1.6h-1.6zM145.6 102h1.6v1.6h-1.6zM176.3 91.5h1.6v1.6h-1.6zM148.2 93.2h1.6v1.6h-1.6zM127.4 79.7h1.6v1.6h-1.6zM143.8 72.5h1.6v1.6h-1.6zM149.9 135.6h1.6v1.6h-1.6zM127 135.7h1.6v1.6h-1.6zM128.5 78.3h1.6v1.6h-1.6zM179.7 64.2h1.6v1.6h-1.6zM121.6 129.3h1.6v1.6h-1.6zM129.4 140.4h1.6v1.6h-1.6zM122.3 126.3h1.6v1.6h-1.6zM142.7 69h1.6v1.6h-1.6zM158.6 102.4h1.6v1.6h-1.6zM157.8 70.3h1.6v1.6h-1.6zM124.9 136.1h1.6v1.6h-1.6zM136.5 135.9h1.6v1.6h-1.6zM140.1 100.8h1.6v1.6h-1.6zM111 128.8h1.6v1.6h-1.6zM136.4 118.3h1.6v1.6h-1.6zM141.9 86.7h1.6v1.6h-1.6zM142.2 107.5h1.6v1.6h-1.6zM141.1 125.5h1.6v1.6h-1.6zM150.5 118.7h1.6v1.6h-1.6zM130 124.8h1.6v1.6h-1.6zM117 131.2h1.6v1.6h-1.6zM131.9 136.3h1.6v1.6h-1.6zM132.7 104.7h1.6v1.6h-1.6zM114.6 132.9h1.6v1.6h-1.6zM148 129.5h1.6v1.6h-1.6zM234.5 70.8h1.6v1.6h-1.6zM150.3 123.3h1.6v1.6h-1.6zM78.3 121.3h1.6v1.6h-1.6zM141 103.5h1.6v1.6h-1.6zM133.7 103.4h1.6v1.6h-1.6zM106.5 122.6h1.6v1.6h-1.6zM142.1 127.5h1.6v1.6h-1.6zM160.1 89.6h1.6v1.6h-1.6zM139.4 133.9h1.6v1.6h-1.6zM118.9 117h1.6v1.6h-1.6zM174.7 107.1h1.6v1.6h-1.6zM153.3 115.3h1.6v1.6h-1.6zM193.5 76.1h1.6v1.6h-1.6zM124.2 104.6h1.6v1.6h-1.6zM156.4 94.6h1.6v1.6h-1.6zM141.3 115h1.6v1.6h-1.6zM148.1 95.6h1.6v1.6h-1.6zM160 113.6h1.6v1.6h-1.6zM123.4 156h1.6v1.6h-1.6zM113.6 137.4h1.6v1.6h-1.6zM120.8 128.1h1.6v1.6h-1.6zM119.2 126.5h1.6v1.6h-1.6zM179.4 114.6h1.6v1.6h-1.6zM161 124.6h1.6v1.6h-1.6zM139.3 109.5h1.6v1.6h-1.6zM162.6 103h1.6v1.6h-1.6zM142.7 129.3h1.6v1.6h-1.6zM150.2 101.7h1.6v1.6h-1.6zM127.5 130.7h1.6v1.6h-1.6zM130.2 114.4h1.6v1.6h-1.6zM163 125.5h1.6v1.6h-1.6zM138.5 101.3h1.6v1.6h-1.6zM132.7 90.3h1.6v1.6h-1.6zM140.1 108.5h1.6v1.6h-1.6zM119.4 100.7h1.6v1.6h-1.6zM88.4 110.4h1.6v1.6h-1.6zM147.5 128.8h1.6v1.6h-1.6zM144.8 99.9h1.6v1.6h-1.6zM108.5 118h1.6v1.6h-1.6zM215.4 66.8h1.6v1.6h-1.6zM130.2 78.8h1.6v1.6h-1.6zM136.4 124h1.6v1.6h-1.6zM138.8 130h1.6v1.6h-1.6zM121.2 135.2h1.6v1.6h-1.6zM159.7 124.2h1.6v1.6h-1.6zM170.3 111.5h1.6v1.6h-1.6zM166.3 132.2h1.6v1.6h-1.6zM155.3 116.2h1.6v1.6h-1.6zM126.1 86h1.6v1.6h-1.6zM145.5 110.3h1.6v1.6h-1.6zM164.4 114h1.6v1.6h-1.6zM151 64.4h1.6v1.6h-1.6zM157.6 113.4h1.6v1.6h-1.6zM170.9 121.9h1.6v1.6h-1.6zM139.4 133.6h1.6v1.6h-1.6zM154.9 115.8h1.6v1.6h-1.6zM150.5 129.7h1.6v1.6h-1.6zM130.1 135.8h1.6v1.6h-1.6zM175.8 123.4h1.6v1.6h-1.6zM124.5 113.4h1.6v1.6h-1.6zM140.2 139.7h1.6v1.6h-1.6zM138.6 91.6h1.6v1.6h-1.6zM132.4 141.1h1.6v1.6h-1.6zM162.2 145.3h1.6v1.6h-1.6zM151.8 116.9h1.6v1.6h-1.6zM159 132h1.6v1.6h-1.6zM143.1 98h1.6v1.6h-1.6zM131.8 89.1h1.6v1.6h-1.6zM138.8 133.9h1.6v1.6h-1.6zM129.8 124.1h1.6v1.6h-1.6zM178.5 62.1h1.6v1.6h-1.6zM150.8 101.9h1.6v1.6h-1.6zM141.3 78.8h1.6v1.6h-1.6zM173.6 95h1.6v1.6h-1.6zM129.9 135.2h1.6v1.6h-1.6zM153.3 100h1.6v1.6h-1.6zM135.1 130.7h1.6v1.6h-1.6zM128.7 121.1h1.6v1.6h-1.6zM140.9 148.6h1.6v1.6h-1.6zM124.9 124.2h1.6v1.6h-1.6zM156 94.7h1.6v1.6h-1.6zM88.2 130.8h1.6v1.6h-1.6zM150 94h1.6v1.6h-1.6zM152.4 141.9h1.6v1.6h-1.6zM110.3 83.6h1.6v1.6h-1.6zM152.4 118.1h1.6v1.6h-1.6zM107.5 115.1h1.6v1.6h-1.6zM165.9 128.3h1.6v1.6h-1.6zM132.5 134.1h1.6v1.6h-1.6zM102.3 156.6h1.6v1.6h-1.6zM135.7 98.5h1.6v1.6h-1.6zM148.2 100.3h1.6v1.6h-1.6zM215.6 60h1.6v1.6h-1.6zM150.3 88.4h1.6v1.6h-1.6zM111.6 102.3h1.6v1.6h-1.6zM151.1 134.4h1.6v1.6h-1.6zM118.2 99.7h1.6v1.6h-1.6zM144.8 111.1h1.6v1.6h-1.6zM160.3 130.4h1.6v1.6h-1.6zM134.8 134h1.6v1.6h-1.6zM156.1 113.5h1.6v1.6h-1.6zM153.1 138.8h1.6v1.6h-1.6zM115 96.6h1.6v1.6h-1.6zM164 113.2h1.6v1.6h-1.6zM167 105.4h1.6v1.6h-1.6zM117.2 105.4h1.6v1.6h-1.6zM129.7 91.9h1.6v1.6h-1.6zM125.3 120.5h1.6v1.6h-1.6zM143.5 129.6h1.6v1.6h-1.6zM134 105.8h1.6v1.6h-1.6zM161.4 106.1h1.6v1.6h-1.6zM122.8 136.2h1.6v1.6h-1.6zM100.4 53.9h1.6v1.6h-1.6zM142.7 113.3h1.6v1.6h-1.6zM198.7 78.1h1.6v1.6h-1.6zM95.4 122.7h1.6v1.6h-1.6zM151.4 132.5h1.6v1.6h-1.6zM146.1 109h1.6v1.6h-1.6zM152.3 116.4h1.6v1.6h-1.6zM139.9 130.2h1.6v1.6h-1.6zM133.6 91.6h1.6v1.6h-1.6zM124.9 60.3h1.6v1.6h-1.6zM140.6 90.4h1.6v1.6h-1.6zM134.9 143.1h1.6v1.6h-1.6zM165.2 112.6h1.6v1.6h-1.6zM153.1 95.9h1.6v1.6h-1.6zM121.9 112.1h1.6v1.6h-1.6zM155.9 97.4h1.6v1.6h-1.6zM138.2 130.6h1.6v1.6h-1.6zM146 126.8h1.6v1.6h-1.6zM113.1 153.2h1.6v1.6h-1.6zM143.2 100.1h1.6v1.6h-1.6zM137.3 88.2h1.6v1.6h-1.6zM168.7 95.3h1.6v1.6h-1.6zM135.7 71.2h1.6v1.6h-1.6zM139 103.5h1.6v1.6h-1.6zM122.9 134.3h1.6v1.6h-1.6zM126.1 118.7h1.6v1.6h-1.6zM100.1 53.8h1.6v1.6h-1.6zM138.6 96.2h1.6v1.6h-1.6zM129.4 119h1.6v1.6h-1.6zM139.2 46.1h1.6v1.6h-1.6zM144.3 119.8h1.6v1.6h-1.6zM129.7 86.2h1.6v1.6h-1.6zM122 80.5h1.6v1.6h-1.6zM120.2 118.9h1.6v1.6h-1.6zM115.9 130.3h1.6v1.6h-1.6zM127.3 136.4h1.6v1.6h-1.6zM136.6 129.1h1.6v1.6h-1.6zM111.7 131.3h1.6v1.6h-1.6zM140 128.9h1.6v1.6h-1.6zM93.8 81.7h1.6v1.6h-1.6zM137 80.4h1.6v1.6h-1.6zM99.4 92.6h1.6v1.6h-1.6zM134.9 131.3h1.6v1.6h-1.6zM147.7 114.4h1.6v1.6h-1.6zM133.4 136.7h1.6v1.6h-1.6zM147 129.6h1.6v1.6h-1.6zM140.2 119.2h1.6v1.6h-1.6zM145.4 98.8h1.6v1.6h-1.6zM140.8 98.8h1.6v1.6h-1.6zM137.7 95.7h1.6v1.6h-1.6z" fill="#606060"/>
<path d="M345.2 176.5h1.6v1.6h-1.6zM365.4 174.5h1.6v1.6h-1.6zM370.5 120h1.6v1.6h-1.6zM355 161.4h1.6v1.6h-1.6zM367.1 181.1h1.6v1.6h-1.6zM346.5 132.8h1.6v1.6h-1.6zM330.9 194.3h1.6v1.6h-1.6zM334.8 129.2h1.6v1.6h-1.6zM317.3 156.1h1.6v1.6h-1.6zM391 180.9h1.6v1.6h-1.6zM360.2 120.2h1.6v1.6h-1.6zM359.6 181.1h1.6v1.6h-1.6zM365.4 176.4h1.6v1.6h-1.6zM370.6 127.3h1.6v1.6h-1.6zM358.4 119.8h1.6v1.6h-1.6zM376.9 175.4h1.6v1.6h-1.6zM382.2 164.1h1.6v1.6h-1.6zM365.6 188.8h1.6v1.6h-1.6zM328.1 161.7h1.6v1.6h-1.6zM367.3 167h1.6v1.6h-1.6zM313.9 163.5h1.6v1.6h-1.6zM366.5 184.6h1.6v1.6h-1.6zM379.6 175.3h1.6v1.6h-1.6zM364.2 160.5h1.6v1.6h-1.6zM388.2 123.6h1.6v1.6h-1.6zM389.1 187.8h1.6v1.6h-1.6zM362.9 174h1.6v1.6h-1.6zM364.5 132.2h1.6v1.6h-1.6zM370.3 114.9h1.6v1.6h-1.6zM376.4 172.2h1.6v1.6h-1.6zM359.2 174.4h1.6v1.6h-1.6zM374.3 118.8h1.6v1.6h-1.6zM377.8 199.1h1.6v1.6h-1.6zM367.9 128.3h1.6v1.6h-1.6zM364.8 178.2h1.6v1.6h-1.6zM360.3 120.5h1.6v1.6h-1.6zM355.7 184.1h1.6v1.6h-1.6zM358.7 190.9h1.6v1.6h-1.6zM360.8 132.4h1.6v1.6h-1.6zM333.2 149h1.6v1.6h-1.6zM371.7 96.7h1.6v1.6h-1.6zM354.1 190.7h1.6v1.6h-1.6zM350.4 171.7h1.6v1.6h-1.6zM373.3 167h1.6v1.6h-1.6zM386.1 172.5h1.6v1.6h-1.6zM366.4 170.5h1.6v1.6h-1.6zM367.5 97.9h1.6v1.6h-1.6zM328.1 179.8h1.6v1.6h-1.6zM348.2 112.2h1.6v1.6h-1.6zM373.1 143.9h1.6v1.6h-1.6zM364.5 168.6h1.6v1.6h-1.6zM367 172.4h1.6v1.6h-1.6zM351 191.3h1.6v1.6h-1.6zM375.3 129h1.6v1.6h-1.6zM349.1 108.5h1.6v1.6h-1.6zM339.9 144.8h1.6v1.6h-1.6zM382.1 146.1h1.6v1.6h-1.6zM386.4 105.3h1.6v1.6h-1.6zM353.3 122.2h1.6v1.6h-1.6zM326.6 155.6h1.6v1.6h-1.6zM326.5 159.7h1.6v1.6h-1.6zM354.6 86.1h1.6v1.6h-1.6zM383.7 163.6h1.6v1.6h-1.6zM384 123.9h1.6v1.6h-1.6zM367.8 163.1h1.6v1.6h-1.6zM381.8 179.7h1.6v1.6h-1.6zM353.6 143h1.6v1.6h-1.6zM376.5 177.4h1.6v1.6h-1.6zM382.4 164h1.6v1.6h-1.6zM369.6 126.3h1.6v1.6h-1.6zM368.9 105.3h1.6v1.6h-1.6zM380.9 176.5h1.6v1.6h-1.6zM370.4 191.3h1.6v1.6h-1.6zM356 171.2h1.6v1.6h-1.6zM361 197.5h1.6v1.6h-1.6zM385.9 117.9h1.6v1.6h-1.6zM369.6 166.3h1.6v1.6h-1.6zM379.3 177.5h1.6v1.6h-1.6zM362.8 173.5h1.6v1.6h-1.6zM369.4 124.9h1.6v1.6h-1.6zM354.2 148.2h1.6v1.6h-1.6zM378.5 183.7h1.6v1.6h-1.6zM343.6 149.7h1.6v1.6h-1.6zM332.8 179.6h1.6v1.6h-1.6zM358.5 155.1h1.6v1.6h-1.6zM317.5 171.2h1.6v1.6h-1.6zM363.7 182h1.6v1.6h-1.6zM380.1 168h1.6v1.6h-1.6zM364.5 131.4h1.6v1.6h-1.6zM365.2 118.7h1.6v1.6h-1.6zM408.8 138.3h1.6v1.6h-1.6zM389.9 150.3h1.6v1.6h-1.6zM332.5 170.8h1.6v1.6h-1.6zM330.4 163.3h1.6v1.6h-1.6zM341.9 164h1.6v1.6h-1.6zM368.9 183h1.6v1.6h-1.6zM374 141.2h1.6v1.6h-1.6zM372.9 88.8h1.6v1.6h-1.6zM355.3 185.8h1.6v1.6h-1.6zM372.1 167.8h1.6v1.6h-1.6zM381.9 170.7h1.6v1.6h-1.6zM346.5 173.4h1.6v1.6h-1.6zM387.2 191.3h1.6v1.6h-1.6zM377.7 97h1.6v1.6h-1.6zM376.9 189.5h1.6v1.6h-1.6zM376.3 141.9h1.6v1.6h-1.6zM385.3 161.5h1.6v1.6h-1.6zM388.2 111.1h1.6v1.6h-1.6zM367.7 177.6h1.6v1.6h-1.6zM379.9 182h1.6v1.6h-1.6zM376.4 172.5h1.6v1.6h-1.6zM344.6 123.6h1.6v1.6h-1.6zM382 176.8h1.6v1.6h-1.6zM369.7 108.2h1.6v1.6h-1.6zM380.4 138.4h1.6v1.6h-1.6zM373.1 122.7h1.6v1.6h-1.6zM331.9 192.7h1.6v1.6h-1.6zM365 192.4h1.6v1.6h-1.6zM378.6 134h1.6v1.6h-1.6zM365.2 172h1.6v1.6h-1.6zM368.8 181.3h1.6v1.6h-1.6zM390.6 135.3h1.6v1.6h-1.6zM385.9 122.4h1.6v1.6h-1.6zM380.4 128.8h1.6v1.6h-1.6zM378.2 115.4h1.6v1.6h-1.6zM393.8 168.5h1.6v1.6h-1.6zM376.1 182.1h1.6v1.6h-1.6zM371.8 192.8h1.6v1.6h-1.6zM385 118.5h1.6v1.6h-1.6zM360.4 196.5h1.6v1.6h-1.6zM363.8 133.8h1.6v1.6h-1.6zM380.5 176.6h1.6v1.6h-1.6zM380 184h1.6v1.6h-1.6zM360.3 179h1.6v1.6h-1.6zM371 126.6h1.6v1.6h-1.6zM371.7 173h1.6v1.6h-1.6zM329.7 190.9h1.6v1.6h-1.6zM342.3 164.3h1.6v1.6h-1.6zM365 187.5h1.6v1.6h-1.6zM359.6 196h1.6v1.6h-1.6zM369.8 148.2h1.6v1.6h-1.6zM348.4 186.7h1.6v1.6h-1.6zM360.8 122.2h1.6v1.6h-1.6zM356.8 100.6h1.6v1.6h-1.6zM400.6 121.8h1.6v1.6h-1.6zM369 178.9h1.6v1.6h-1.6zM342.2 127.3h1.6v1.6h-1.6zM365.4 183.3h1.6v1.6h-1.6zM335.8 166h1.6v1.6h-1.6zM363.8 130.2h1.6v1.6h-1.6zM355.9 181.1h1.6v1.6h-1.6zM361.6 176.8h1.6v1.6h-1.6zM359.5 172.9h1.6v1.6h-1.6zM330 106.5h1.6v1.6h-1.6zM353.5 123.1h1.6v1.6h-1.6zM348.3 179.4h1.6v1.6h-1.6zM359.6 183.2h1.6v1.6h-1.6zM372.1 139h1.6v1.6h-1.6zM390 193.9h1.6v1.6h-1.6zM389.9 132.3h1.6v1.6h-1.6zM356.8 145.8h1.6v1.6h-1.6zM388.6 119.7h1.6v1.6h-1.6zM374.4 175.1h1.6v1.6h-1.6zM339.7 184.1h1.6v1.6h-1.6zM371.8 185.3h1.6v1.6h-1.6zM388.8 170.2h1.6v1.6h-1.6zM369.9 164.8h1.6v1.6h-1.6zM325.9 177.3h1.6v1.6h-1.6zM374.7 189.5h1.6v1.6h-1.6zM371.7 133.7h1.6v1.6h-1.6zM336.4 113.4h1.6v1.6h-1.6zM357.4 121.1h1.6v1.6h-1.6zM379.6 182.8h1.6v1.6h-1.6zM347 120.9h1.6v1.6h-1.6zM382.8 168.5h1.6v1.6h-1.6zM373.2 171.8h1.6v1.6h-1.6zM399.6 155.9h1.6v1.6h-1.6zM349.7 163.7h1.6v1.6h-1.6zM367.1 178.6h1.6v1.6h-1.6zM378.6 184.5h1.6v1.6h-1.6zM353.3 98.6h1.6v1.6h-1.6zM366.2 179.5h1.6v1.6h-1.6zM343.2 113.2h1.6v1.6h-1.6zM361.5 175.7h1.6v1.6h-1.6zM369.7 190.7h1.6v1.6h-1.6zM371.2 168.9h1.6v1.6h-1.6zM363.1 162.6h1.6v1.6h-1.6zM381.4 162.7h1.6v1.6h-1.6zM387.6 135.5h1.6v1.6h-1.6zM372.6 124.6h1.6v1.6h-1.6zM379 189.8h1.6v1.6h-1.6zM366.6 151.1h1.6v1.6h-1.6zM379.8 118.7h1.6v1.6h-1.6zM356.7 125.7h1.6v1.6h-1.6zM384.4 142.3h1.6v1.6h-1.6zM375.4 105.4h1.6v1.6h-1.6zM388.7 174.7h1.6v1.6h-1.6zM373.5 195h1.6v1.6h-1.6zM387.9 176.3h1.6v1.6h-1.6zM375.1 120.7h1.6v1.6h-1.6zM354.2 150.9h1.6v1.6h-1.6zM341.9 178.2h1.6v1.6h-1.6zM369.5 164h1.6v1.6h-1.6zM358.8 152.2h1.6v1.6h-1.6zM355.4 197.1h1.6v1.6h-1.6zM347.4 105h1.6v1.6h-1.6zM366.4 124h1.6v1.6h-1.6zM372.6 147.2h1.6v1.6h-1.6zM376.2 166.1h1.6v1.6h-1.6zM380.7 191.7h1.6v1.6h-1.6zM374.4 167.1h1.6v1.6h-1.6zM371.8 190.1h1.6v1.6h-1.6zM379.2 167.4h1.6v1.6h-1.6zM351.7 152.2h1.6v1.6h-1.6zM378.8 155.7h1.6v1.6h-1.6zM362.9 163.4h1.6v1.6h-1.6zM351.6 122.3h1.6v1.6h-1.6zM375.1 111h1.6v1.6h-1.6zM337.2 108.2h1.6v1.6h-1.6zM358.3 182.8h1.6v1.6h-1.6zM380.5 180h1.6v1.6h-1.6zM370.6 162.3h1.6v1.6h-1.6zM347.6 168.1h1.6v1.6h-1.6zM376.5 140.6h1.6v1.6h-1.6zM358 122.2h1.6v1.6h-1.6zM324.5 150.6h1.6v1.6h-1.6zM345.5 167h1.6v1.6h-1.6zM339.3 148.7h1.6v1.6h-1.6zM373.7 97.6h1.6v1.6h-1.6zM358.5 178.9h1.6v1.6h-1.6zM372.3 159.2h1.6v1.6h-1.6zM363.1 146.5h1.6v1.6h-1.6zM367.9 126.4h1.6v1.6h-1.6zM391.1 170.1h1.6v1.6h-1.6zM362 175.8h1.6v1.6h-1.6zM334.8 149.9h1.6v1.6h-1.6zM364.8 176.9h1.6v1.6h-1.6zM362.6 185.9h1.6v1.6h-1.6zM378.8 125.2h1.6v1.6h-1.6zM374.5 179.4h1.6v1.6h-1.6zM355 173.7h1.6v1.6h-1.6zM393.5 98.4h1.6v1.6h-1.6zM377.5 133.3h1.6v1.6h-1.6zM336.9 139.9h1.6v1.6h-1.6zM355.2 141.8h1.6v1.6h-1.6zM350 144.7h1.6v1.6h-1.6zM362.4 181.8h1.6v1.6h-1.6zM389.4 154.9h1.6v1.6h-1.6zM376 174.8h1.6v1.6h-1.6zM391.5 174.9h1.6v1.6h-1.6zM357 156.9h1.6v1.6h-1.6zM360.7 185.2h1.6v1.6h-1.6zM357.1 186.2h1.6v1.6h-1.6zM382 118.2h1.6v1.6h-1.6zM391 171.7h1.6v1.6h-1.6zM381.6 186.5h1.6v1.6h-1.6zM355 141.8h1.6v1.6h-1.6zM380.1 125.4h1.6v1.6h-1.6zM370.4 191h1.6v1.6h-1.6zM338.1 169.2h1.6v1.6h-1.6zM365.7 151.9h1.6v1.6h-1.6zM353.7 136.8h1.6v1.6h-1.6zM339.7 160.6h1.6v1.6h-1.6zM359.5 124.5h1.6v1.6h-1.6zM349.3 180.7h1.6v1.6h-1.6zM353.5 167h1.6v1.6h-1.6zM369.1 173.2h1.6v1.6h-1.6zM328.1 136.8h1.6v1.6h-1.6zM364.8 178.3h1.6v1.6h-1.6zM375.6 125.5h1.6v1.6h-1.6zM375.5 180.8h1.6v1.6h-1.6zM391 187.2h1.6v1.6h-1.6zM364.7 175.1h1.6v1.6h-1.6zM362 148.9h1.6v1.6h-1.6zM375 173.5h1.6v1.6h-1.6zM425.6 147.9h1.6v1.6h-1.6zM362.5 182.8h1.6v1.6h-1.6zM377.7 126.8h1.6v1.6h-1.6zM361.1 127.7h1.6v1.6h-1.6zM377.8 97.6h1.6v1.6h-1.6zM379.7 196.8h1.6v1.6h-1.6zM357 127.4h1.6v1.6h-1.6zM369.2 168.2h1.6v1.6h-1.6zM390.8 120.7h1.6v1.6h-1.6zM356.1 191.4h1.6v1.6h-1.6zM343.5 100.1h1.6v1.6h-1.6zM334.8 166.6h1.6v1.6h-1.6zM393.8 116.2h1.6v1.6h-1.6zM363.9 180.2h1.6v1.6h-1.6zM348.4 152.8h1.6v1.6h-1.6zM381.1 140.1h1.6v1.6h-1.6zM375.8 180.1h1.6v1.6h-1.6zM369.1 180.1h1.6v1.6h-1.6zM334.3 171.6h1.6v1.6h-1.6zM391.3 157.6h1.6v1.6h-1.6zM383.9 193.8h1.6v1.6h-1.6zM378.6 158h1.6v1.6h-1.6zM358 157.7h1.6v1.6h-1.6zM355.8 157.6h1.6v1.6h-1.6zM335 181.6h1.6v1.6h-1.6zM387.6 165.1h1.6v1.6h-1.6zM379.6 170h1.6v1.6h-1.6zM376 162.9h1.6v1.6h-1.6zM372.2 150.2h1.6v1.6h-1.6zM396.1 132.5h1.6v1.6h-1.6zM348.2 149.5h1.6v1.6h-1.6zM370 174.5h1.6v1.6h-1.6zM378.3 144.4h1.6v1.6h-1.6zM354.1 182.1h1.6v1.6h-1.6zM361.5 118.5h1.6v1.6h-1.6zM372.9 180.5h1.6v1.6h-1.6zM349.5 158.5h1.6v1.6h-1.6zM375.2 175h1.6v1.6h-1.6zM342.3 151.2h1.6v1.6h-1.6zM345.2 136.1h1.6v1.6h-1.6zM372.7 163.8h1.6v1.6h-1.6zM363.9 176.1h1.6v1.6h-1.6zM369.7 165.7h1.6v1.6h-1.6zM373.2 103h1.6v1.6h-1.6zM360.3 172.5h1.6v1.6h-1.6zM356.4 177.6h1.6v1.6h-1.6zM352.4 185.3h1.6v1.6h-1.6zM370.4 186h1.6v1.6h-1.6zM362.9 188.1h1.6v1.6h-1.6zM376.2 181.3h1.6v1.6h-1.6zM381.2 170.2h1.6v1.6h-1.6zM359.4 173.7h1.6v1.6h-1.6zM357.9 130.6h1.6v1.6h-1.6zM336.7 175.7h1.6v1.6h-1.6zM363.4 174.9h1.6v1.6h-1.6zM372.9 144.7h1.6v1.6h-1.6zM373.9 168h1.6v1.6h-1.6zM364.8 177.5h1.6v1.6h-1.6zM386.9 118.9h1.6v1.6h-1.6zM365.1 179.2h1.6v1.6h-1.6zM376.8 166.7h1.6v1.6h-1.6zM377.9 185h1.6v1.6h-1.6zM383.5 135.7h1.6v1.6h-1.6zM363.8 109.9h1.6v1.6h-1.6zM372.4 169.8h1.6v1.6h-1.6zM369.3 175.9h1.6v1.6h-1.6zM364.2 176.5h1.6v1.6h-1.6zM361.9 129.3h1.6v1.6h-1.6zM386.8 152.3h1.6v1.6h-1.6zM366.6 152.8h1.6v1.6h-1.6zM362.8 113.2h1.6v1.6h-1.6zM379.4 188.3h1.6v1.6h-1.6zM357.4 175.9h1.6v1.6h-1.6zM408.6 181.6h1.6v1.6h-1.6zM336.2 163.9h1.6v1.6h-1.6zM377.4 162.1h1.6v1.6h-1.6zM361.9 187.8h1.6v1.6h-1.6zM371.2 142.1h1.6v1.6h-1.6zM368.6 122.9h1.6v1.6h-1.6zM355.4 115.6h1.6v1.6h-1.6zM365.7 115.4h1.6v1.6h-1.6zM366.2 126.2h1.6v1.6h-1.6zM388.3 182.1h1.6v1.6h-1.6zM364.4 184.2h1.6v1.6h-1.6zM358.9 116.6h1.6v1.6h-1.6zM346.8 148h1.6v1.6h-1.6zM363.2 198.2h1.6v1.6h-1.6zM361.3 185.7h1.6v1.6h-1.6zM367.1 180.3h1.6v1.6h-1.6zM372.7 131.9h1.6v1.6h-1.6zM377.9 182.6h1.6v1.6h-1.6zM351.5 179.1h1.6v1.6h-1.6zM365.5 181.4h1.6v1.6h-1.6zM367.8 98.1h1.6v1.6h-1.6zM361 180.2h1.6v1.6h-1.6zM339.8 140.2h1.6v1.6h-1.6zM369.5 177.6h1.6v1.6h-1.6zM369.6 171.2h1.6v1.6h-1.6zM366.2 178.1h1.6v1.6h-1.6zM347.7 135.3h1.6v1.6h-1.6zM425.7 191.5h1.6v1.6h-1.6zM381.4 176.2h1.6v1.6h-1.6zM367.3 172.8h1.6v1.6h-1.6zM394.8 104.4h1.6v1.6h-1.6zM365.9 119.8h1.6v1.6h-1.6zM370.4 184.2h1.6v1.6h-1.6zM372.5 141.7h1.6v1.6h-1.6zM361.4 185.1h1.6v1.6h-1.6zM363.3 160.9h1.6v1.6h-1.6zM378.5 161.8h1.6v1.6h-1.6zM379.6 150.3h1.6v1.6h-1.6zM355.5 173.5h1.6v1.6h-1.6zM335.6 161h1.6v1.6h-1.6zM349.5 178.1h1.6v1.6h-1.6zM387.5 192.4h1.6v1.6h-1.6zM370.5 128.4h1.6v1.6h-1.6zM362.3 180.8h1.6v1.6h-1.6zM383 155.8h1.6v1.6h-1.6zM360.5 172.2h1.6v1.6h-1.6zM323.7 162.8h1.6v1.6h-1.6zM336 162.2h1.6v1.6h-1.6zM354.5 127.8h1.6v1.6h-1.6zM335.1 167h1.6v1.6h-1.6zM375.6 153.4h1.6v1.6h-1.6zM372 140.1h1.6v1.6h-1.6zM354.4 181.2h1.6v1.6h-1.6zM371.1 123.1h1.6v1.6h-1.6zM355.3 166.7h1.6v1.6h-1.6zM363.6 178.7h1.6v1.6h-1.6zM382.7 171.7h1.6v1.6h-1.6zM351.7 176h1.6v1.6h-1.6zM350.9 124.2h1.6v1.6h-1.6zM363.9 129h1.6v1.6h-1.6zM341.1 137.3h1.6v1.6h-1.6zM350.4 200.7h1.6v1.6h-1.6zM379.3 121.3h1.6v1.6h-1.6zM346 156.9h1.6v1.6h-1.6zM363.4 185.1h1.6v1.6h-1.6zM362.2 138.8h1.6v1.6h-1.6zM387 143.3h1.6v1.6h-1.6zM378.2 136.6h1.6v1.6h-1.6zM342.8 162.6h1.6v1.6h-1.6zM373.9 186.9h1.6v1.6h-1.6zM368 121.8h1.6v1.6h-1.6zM395.7 179.8h1.6v1.6h-1.6zM344.4 174.1h1.6v1.6h-1.6zM372.7 190.2h1.6v1.6h-1.6zM365.4 171.6h1.6v1.6h-1.6zM356.5 151.4h1.6v1.6h-1.6zM355.4 189.4h1.6v1.6h-1.6zM386.5 135.4h1.6v1.6h-1.6zM373.2 185.2h1.6v1.6h-1.6zM363.3 120.7h1.6v1.6h-1.6zM370.1 187.6h1.6v1.6h-1.6zM327.7 174.2h1.6v1.6h-1.6zM365.9 180.8h1.6v1.6h-1.6zM358.7 173.3h1.6v1.6h-1.6zM377.5 132.1h1.6v1.6h-1.6zM369 175.3h1.6v1.6h-1.6zM345.7 179.5h1.6v1.6h-1.6zM346.6 145h1.6v1.6h-1.6zM390.3 156.1h1.6v1.6h-1.6zM352.6 184.2h1.6v1.6h-1.6zM361.6 116.1h1.6v1.6h-1.6zM339.6 194.6h1.6v1.6h-1.6zM369.8 171.6h1.6v1.6h-1.6zM391.3 174.6h1.6v1.6h-1.6zM369.6 162.6h1.6v1.6h-1.6zM380.7 173.1h1.6v1.6h-1.6zM365.7 162.7h1.6v1.6h-1.6zM377.4 118.9h1.6v1.6h-1.6zM356.4 128.3h1.6v1.6h-1.6zM356.2 169.9h1.6v1.6h-1.6zM366.8 117.9h1.6v1.6h-1.6zM369.3 155.9h1.6v1.6h-1.6zM390.9 164.3h1.6v1.6h-1.6zM378.2 166.5h1.6v1.6h-1.6zM341.4 172h1.6v1.6h-1.6zM392.6 190.1h1.6v1.6h-1.6zM380.8 192.3h1.6v1.6h-1.6zM331.8 183.4h1.6v1.6h-1.6zM388.8 163.8h1.6v1.6h-1.6zM360.6 170.4h1.6v1.6h-1.6zM357.3 178.7h1.6v1.6h-1.6zM356.9 135h1.6v1.6h-1.6zM371.1 150.4h1.6v1.6h-1.6zM367.6 188.4h1.6v1.6h-1.6zM379.2 127.1h1.6v1.6h-1.6zM382 170.7h1.6v1.6h-1.6zM369.7 180.9h1.6v1.6h-1.6zM327 153.2h1.6v1.6h-1.6zM327.9 158.7h1.6v1.6h-1.6zM366.7 173.8h1.6v1.6h-1.6zM326.6 148.1h1.6v1.6h-1.6zM370.4 174.2h1.6v1.6h-1.6zM346.2 179.5h1.6v1.6h-1.6zM380.8 178.2h1.6v1.6h-1.6zM324.6 192.9h1.6v1.6h-1.6zM372.4 183.6h1.6v1.6h-1.6zM370.5 140.3h1.6v1.6h-1.6zM360.8 173.4h1.6v1.6h-1.6zM386 160.8h1.6v1.6h-1.6zM338.6 186.6h1.6v1.6h-1.6zM367.6 129h1.6v1.6h-1.6zM354.2 123.1h1.6v1.6h-1.6zM370.3 178.7h1.6v1.6h-1.6zM385.8 164.2h1.6v1.6h-1.6zM368.8 151.8h1.6v1.6h-1.6zM370.8 100.5h1.6v1.6h-1.6zM374 180.5h1.6v1.6h-1.6zM370.6 147.7h1.6v1.6h-1.6zM378.2 116h1.6v1.6h-1.6zM370.7 129.5h1.6v1.6h-1.6zM365.8 189.9h1.6v1.6h-1.6zM366.3 172.5h1.6v1.6h-1.6zM369.9 176.6h1.6v1.6h-1.6zM377.6 189.2h1.6v1.6h-1.6zM304.3 172h1.6v1.6h-1.6zM335.5 178.9h1.6v1.6h-1.6zM405.1 157.7h1.6v1.6h-1.6zM360.3 134.6h1.6v1.6h-1.6zM336.3 147h1.6v1.6h-1.6zM370.9 175.6h1.6v1.6h-1.6zM332.7 161.2h1.6v1.6h-1.6zM385.2 129.9h1.6v1.6h-1.6zM383.5 180.4h1.6v1.6h-1.6zM363.8 185.3h1.6v1.6h-1.6zM373.1 116.6h1.6v1.6h-1.6zM326.7 169.5h1.6v1.6h-1.6zM351.8 119h1.6v1.6h-1.6zM371.8 172.2h1.6v1.6h-1.6zM350.2 181.9h1.6v1.6h-1.6zM376.9 171.4h1.6v1.6h-1.6zM380.3 176.4h1.6v1.6h-1.6zM364.5 143.1h1.6v1.6h-1.6zM371.4 171.4h1.6v1.6h-1.6zM357.8 145.8h1.6v1.6h-1.6zM349.1 170.7h1.6v1.6h-1.6zM343 168.4h1.6v1.6h-1.6zM365.4 189.7h1.6v1.6h-1.6zM366.6 138.1h1.6v1.6h-1.6zM380.9 124.3h1.6v1.6h-1.6zM369.3 146.4h1.6v1.6h-1.6zM370.6 141.7h1.6v1.6h-1.6zM338.8 183.9h1.6v1.6h-1.6zM389.6 124.3h1.6v1.6h-1.6zM340.5 173.6h1.6v1.6h-1.6zM379.3 177.6h1.6v1.6h-1.6zM360.7 177.4h1.6v1.6h-1.6zM391.9 169.7h1.6v1.6h-1.6zM364.7 111.2h1.6v1.6h-1.6zM346.8 142.7h1.6v1.6h-1.6zM362 173.2h1.6v1.6h-1.6zM372.7 143.4h1.6v1.6h-1.6zM391.4 173.5h1.6v1.6h-1.6zM336.7 156.8h1.6v1.6h-1.6zM380.6 163h1.6v1.6h-1.6zM357.3 175.5h1.6v1.6h-1.6zM368.9 104.1h1.6v1.6h-1.6zM315.9 144.9h1.6v1.6h-1.6zM372.4 176.3h1.6v1.6h-1.6zM358.5 128.8h1.6v1.6h-1.6zM342.7 157h1.6v1.6h-1.6zM364.1 171.2h1.6v1.6h-1.6zM369.2 180.1h1.6v1.6h-1.6zM381.2 169.1h1.6v1.6h-1.6zM323 184.9h1.6v1.6h-1.6zM363.6 159.5h1.6v1.6h-1.6zM382.3 170.1h1.6v1.6h-1.6zM371.1 130.5h1.6v1.6h-1.6zM328.5 163.6h1.6v1.6h-1.6zM340.2 168.1h1.6v1.6h-1.6zM334.8 159.8h1.6v1.6h-1.6zM336.7 136.1h1.6v1.6h-1.6zM341.6 168.9h1.6v1.6h-1.6zM367.1 170.9h1.6v1.6h-1.6zM325.8 172.5h1.6v1.6h-1.6zM378.7 156h1.6v1.6h-1.6zM357.4 185h1.6v1.6h-1.6zM343.2 125.8h1.6v1.6h-1.6zM361.1 113.8h1.6v1.6h-1.6zM380.2 186h1.6v1.6h-1.6zM379.1 81.8h1.6v1.6h-1.6zM378.2 184.6h1.6v1.6h-1.6zM360.2 148.8h1.6v1.6h-1.6zM360.5 182.3h1.6v1.6h-1.6zM365.4 178.6h1.6v1.6h-1.6zM424.8 142.6h1.6v1.6h-1.6zM330.7 169.4h1.6v1.6h-1.6zM352.2 117.5h1.6v1.6h-1.6zM363.5 173.3h1.6v1.6h-1.6zM332.7 182.2h1.6v1.6h-1.6zM380.3 179.3h1.6v1.6h-1.6zM370.1 135.3h1.6v1.6h-1.6zM348.9 176.6h1.6v1.6h-1.6zM347.1 170.6h1.6v1.6h-1.6zM379.9 187.4h1.6v1.6h-1.6zM385.8 160.3h1.6v1.6h-1.6zM380.5 169.4h1.6v1.6h-1.6zM362.6 196.1h1.6v1.6h-1.6zM386.2 179.3h1.6v1.6h-1.6zM394 186.5h1.6v1.6h-1.6zM380.2 118.7h1.6v1.6h-1.6zM363.3 173h1.6v1.6h-1.6zM392.2 186.4h1.6v1.6h-1.6zM344 150.7h1.6v1.6h-1.6zM365 180.3h1.6v1.6h-1.6zM367.3 118.6h1.6v1.6h-1.6zM369.6 188h1.6v1.6h-1.6zM377.2 167.9h1.6v1.6h-1.6zM373.3 100.4h1.6v1.6h-1.6zM381.8 112.5h1.6v1.6h-1.6zM364.8 166.2h1.6v1.6h-1.6zM348.6 164.9h1.6v1.6h-1.6zM371.6 185.4h1.6v1.6h-1.6zM353 178.8h1.6v1.6h-1.6zM381.1 114.4h1.6v1.6h-1.6zM353.6 119.6h1.6v1.6h-1.6zM369.7 163.5h1.6v1.6h-1.6zM341.7 165h1.6v1.6h-1.6zM362.8 175.7h1.6v1.6h-1.6zM385.6 122.6h1.6v1.6h-1.6zM374.3 109h1.6v1.6h-1.6zM357.4 152.3h1.6v1.6h-1.6zM343.9 166.4h1.6v1.6h-1.6zM384.9 178h1.6v1.6h-1.6zM379 135.4h1.6v1.6h-1.6zM371.8 130.7h1.6v1.6h-1.6zM365.4 165.1h1.6v1.6h-1.6zM370.2 166.7h1.6v1.6h-1.6zM320.3 123.6h1.6v1.6h-1.6zM332.9 173.9h1.6v1.6h-1.6zM353.9 166.3h1.6v1.6h-1.6zM358.9 108.3h1.6v1.6h-1.6zM363.4 117.5h1.6v1.6h-1.6zM348.7 186.1h1.6v1.6h-1.6zM365.1 124.9h1.6v1.6h-1.6zM352.6 139.7h1.6v1.6h-1.6zM375.3 121.2h1.6v1.6h-1.6zM345.3 118.6h1.6v1.6h-1.6zM369 185.4h1.6v1.6h-1.6zM349.2 170.7h1.6v1.6h-1.6zM325.6 166.8h1.6v1.6h-1.6zM346.7 172.3h1.6v1.6h-1.6zM372.1 179.9h1.6v1.6h-1.6zM383.8 179.9h1.6v1.6h-1.6zM359.6 160.1h1.6v1.6h-1.6zM368.5 166.2h1.6v1.6h-1.6zM348.9 160.9h1.6v1.6h-1.6zM335.6 147.2h1.6v1.6h-1.6zM363.4 130.1h1.6v1.6h-1.6zM372.5 188.6h1.6v1.6h-1.6zM380.2 171.1h1.6v1.6h-1.6zM376.6 182.2h1.6v1.6h-1.6zM372.5 151.6h1.6v1.6h-1.6zM337.5 158.8h1.6v1.6h-1.6zM349.6 177.1h1.6v1.6h-1.6zM307.7 170h1.6v1.6h-1.6zM340.1 161.4h1.6v1.6h-1.6zM365.4 115.2h1.6v1.6h-1.6zM356.6 148.4h1.6v1.6h-1.6zM377.6 151.5h1.6v1.6h-1.6zM348.8 137.3h1.6v1.6h-1.6zM324.1 111.8h1.6v1.6h-1.6zM356.9 173.5h1.6v1.6h-1.6zM362.8 164.5h1.6v1.6h-1.6zM304.5 158.2h1.6v1.6h-1.6zM335.6 114h1.6v1.6h-1.6zM361.4 194h1.6v1.6h-1.6zM365.4 195.9h1.6v1.6h-1.6zM376.2 173.9h1.6v1.6h-1.6zM370.1 183.4h1.6v1.6h-1.6zM382.9 182h1.6v1.6h-1.6zM378.2 180.5h1.6v1.6h-1.6zM375.9 147.4h1.6v1.6h-1.6zM375.5 178.7h1.6v1.6h-1.6zM356.8 180h1.6v1.6h-1.6zM363.9 193.4h1.6v1.6h-1.6zM370.5 188.9h1.6v1.6h-1.6zM350 137.3h1.6v1.6h-1.6zM374.9 116.3h1.6v1.6h-1.6zM370.5 129.6h1.6v1.6h-1.6zM386.3 201.2h1.6v1.6h-1.6zM356 171.3h1.6v1.6h-1.6zM361.8 131.2h1.6v1.6h-1.6zM375.4 177.7h1.6v1.6h-1.6zM367.2 172.7h1.6v1.6h-1.6zM372.2 199.4h1.6v1.6h-1.6zM337.5 177h1.6v1.6h-1.6zM347.3 188.4h1.6v1.6h-1.6zM331.1 150.6h1.6v1.6h-1.6zM328.5 186.2h1.6v1.6h-1.6zM367.1 179.5h1.6v1.6h-1.6zM389.6 104.5h1.6v1.6h-1.6zM346.4 162.5h1.6v1.6h-1.6zM389 175.5h1.6v1.6h-1.6zM377.6 119.1h1.6v1.6h-1.6zM333.8 166.7h1.6v1.6h-1.6zM366.5 173.8h1.6v1.6h-1.6zM384.5 143.8h1.6v1.6h-1.6zM372.1 173.5h1.6v1.6h-1.6zM333.7 152.3h1.6v1.6h-1.6zM371.2 136.4h1.6v1.6h-1.6zM354.2 104h1.6v1.6h-1.6zM381.4 162.8h1.6v1.6h-1.6zM341.4 141.8h1.6v1.6h-1.6zM376.3 125.9h1.6v1.6h-1.6zM349.7 163.9h1.6v1.6h-1.6zM368.5 168.2h1.6v1.6h-1.6zM365.7 110.8h1.6v1.6h-1.6zM360.4 176.3h1.6v1.6h-1.6zM361 198h1.6v1.6h-1.6zM334 164.4h1.6v1.6h-1.6zM337.9 152.4h1.6v1.6h-1.6zM378.1 181h1.6v1.6h-1.6zM318.3 139.4h1.6v1.6h-1.6zM375.9 165.2h1.6v1.6h-1.6zM371.2 122.4h1.6v1.6h-1.6zM370.9 169.4h1.6v1.6h-1.6zM359.8 188.6h1.6v1.6h-1.6zM360.2 170.3h1.6v1.6h-1.6zM371.7 123.1h1.6v1.6h-1.6zM308.9 136.5h1.6v1.6h-1.6zM358.6 182.5h1.6v1.6h-1.6zM374 192.3h1.6v1.6h-1.6zM372.4 150.3h1.6v1.6h-1.6zM340.7 163.8h1.6v1.6h-1.6zM400.4 154.5h1.6v1.6h-1.6zM354.9 171h1.6v1.6h-1.6zM357.7 177.5h1.6v1.6h-1.6zM331.9 145h1.6v1.6h-1.6zM356.2 175h1.6v1.6h-1.6zM376.7 173.8h1.6v1.6h-1.6zM368.2 162.8h1.6v1.6h-1.6zM370.1 166.7h1.6v1.6h-1.6zM358.9 134h1.6v1.6h-1.6zM372.2 110.4h1.6v1.6h-1.6zM355.3 155.4h1.6v1.6h-1.6zM377 115.3h1.6v1.6h-1.6zM395.9 137.9h1.6v1.6h-1.6zM387.8 141.3h1.6v1.6h-1.6zM369.3 161.8h1.6v1.6h-1.6zM379.9 183.2h1.6v1.6h-1.6zM321.5 123.7h1.6v1.6h-1.6zM380.2 178.8h1.6v1.6h-1.6zM379.2 182.3h1.6v1.6h-1.6zM317.3 115.7h1.6v1.6h-1.6zM356.6 182.6h1.6v1.6h-1.6zM338 159.5h1.6v1.6h-1.6zM373.8 169h1.6v1.6h-1.6zM367 177h1.6v1.6h-1.6zM364 149.1h1.6v1.6h-1.6zM368.4 131.1h1.6v1.6h-1.6zM345.8 147.5h1.6v1.6h-1.6zM354.1 134.1h1.6v1.6h-1.6zM349.6 171.6h1.6v1.6h-1.6zM371.6 122.1h1.6v1.6h-1.6zM359.8 164.8h1.6v1.6h-1.6zM374.2 182.1h1.6v1.6h-1.6zM360.2 148.5h1.6v1.6h-1.6zM378.2 124.7h1.6v1.6h-1.6zM337.9 121.3h1.6v1.6h-1.6zM317.5 178.2h1.6v1.6h-1.6zM387.9 179.4h1.6v1.6h-1.6zM366.9 143.3h1.6v1.6h-1.6zM385.6 170.3h1.6v1.6h-1.6zM371.8 119.8h1.6v1.6h-1.6zM377.2 168.8h1.6v1.6h-1.6zM378.3 183.9h1.6v1.6h-1.6zM358.5 121.6h1.6v1.6h-1.6zM375.9 183.5h1.6v1.6h-1.6zM353.9 107.6h1.6v1.6h-1.6zM381.1 172.2h1.6v1.6h-1.6zM373.6 118.3h1.6v1.6h-1.6zM354.8 194.6h1.6v1.6h-1.6zM367.8 184.2h1.6v1.6h-1.6zM363.7 99.4h1.6v1.6h-1.6zM375.1 119.2h1.6v1.6h-1.6zM312.5 163.8h1.6v1.6h-1.6zM357.9 138.5h1.6v1.6h-1.6zM369.6 141.2h1.6v1.6h-1.6zM382.6 181.5h1.6v1.6h-1.6zM385.9 147h1.6v1.6h-1.6zM341.2 188h1.6v1.6h-1.6zM374.5 129.9h1.6v1.6h-1.6zM383.4 122.4h1.6v1.6h-1.6zM388.4 182.8h1.6v1.6h-1.6zM404.9 133h1.6v1.6h-1.6zM377.3 121.6h1.6v1.6h-1.6zM348.5 175.1h1.6v1.6h-1.6zM380.6 176.1h1.6v1.6h-1.6zM360.5 178.1h1.6v1.6h-1.6zM337.4 160.1h1.6v1.6h-1.6zM314 176.9h1.6v1.6h-1.6zM382.1 116.8h1.6v1.6h-1.6zM362.9 175.1h1.6v1.6h-1.6zM375.1 112.7h1.6v1.6h-1.6zM365.3 173.8h1.6v1.6h-1.6zM359.7 178.1h1.6v1.6h-1.6zM364.6 185.9h1.6v1.6h-1.6zM377 186.9h1.6v1.6h-1.6zM389.1 123.1h1.6v1.6h-1.6zM365.5 134.2h1.6v1.6h-1.6zM358 130.2h1.6v1.6h-1.6zM370.3 176.7h1.6v1.6h-1.6zM351.2 131.5h1.6v1.6h-1.6zM334.5 193.6h1.6v1.6h-1.6zM376.7 183.8h1.6v1.6h-1.6zM366.3 141.7h1.6v1.6h-1.6zM385.9 172.4h1.6v1.6h-1.6zM379.4 174.5h1.6v1.6h-1.6zM352.7 172.4h1.6v1.6h-1.6zM345 186.9h1.6v1.6h-1.6zM377.5 176.5h1.6v1.6h-1.6zM353.3 179.6h1.6v1.6h-1.6zM369.3 150h1.6v1.6h-1.6zM352.3 156.9h1.6v1.6h-1.6zM405 172.5h1.6v1.6h-1.6zM371.7 176.5h1.6v1.6h-1.6zM370.6 130.2h1.6v1.6h-1.6zM330.6 172.7h1.6v1.6h-1.6zM397.3 172.4h1.6v1.6h-1.6zM309.8 145h1.6v1.6h-1.6zM350.6 165.2h1.6v1.6h-1.6zM418.7 191.1h1.6v1.6h-1.6zM363.1 178.4h1.6v1.6h-1.6zM351.2 190.4h1.6v1.6h-1.6zM365.3 171.4h1.6v1.6h-1.6zM373.5 182.4h1.6v1.6h-1.6zM373.5 101.8h1.6v1.6h-1.6zM355.1 163.5h1.6v1.6h-1.6zM384.2 182.5h1.6v1.6h-1.6zM369.2 120.1h1.6v1.6h-1.6zM366.9 183.1h1.6v1.6h-1.6zM358.4 183.5h1.6v1.6h-1.6zM326 162.8h1.6v1.6h-1.6zM328.4 128.6h1.6v1.6h-1.6zM375.5 170.8h1.6v1.6h-1.6zM398.9 172h1.6v1.6h-1.6zM368.6 119.5h1.6v1.6h-1.6zM372.6 131h1.6v1.6h-1.6zM366.1 187.1h1.6v1.6h-1.6zM364.7 135.6h1.6v1.6h-1.6zM353.9 173.5h1.6v1.6h-1.6zM366.5 178h1.6v1.6h-1.6zM343.1 155h1.6v1.6h-1.6zM371.3 183.6h1.6v1.6h-1.6zM370.3 149.6h1.6v1.6h-1.6zM370.3 169.5h1.6v1.6h-1.6zM380.8 159.8h1.6v1.6h-1.6zM355.8 146h1.6v1.6h-1.6zM357.3 185.2h1.6v1.6h-1.6zM376.4 154.1h1.6v1.6h-1.6zM370.5 110.7h1.6v1.6h-1.6zM390.3 184.2h1.6v1.6h-1.6zM383.7 132h1.6v1.6h-1.6zM356.7 103.8h1.6v1.6h-1.6zM363 188.3h1.6v1.6h-1.6zM333.7 137.4h1.6v1.6h-1.6zM370.2 123h1.6v1.6h-1.6zM370.6 183.2h1.6v1.6h-1.6zM348.3 181.1h1.6v1.6h-1.6zM373.6 176h1.6v1.6h-1.6zM369.2 176.2h1.6v1.6h-1.6zM388.3 188h1.6v1.6h-1.6zM362.6 126.5h1.6v1.6h-1.6zM375.2 197.9h1.6v1.6h-1.6zM371.3 180.7h1.6v1.6h-1.6zM335.6 145.7h1.6v1.6h-1.6zM334.7 126.6h1.6v1.6h-1.6zM374.2 101.6h1.6v1.6h-1.6zM365 184.6h1.6v1.6h-1.6zM334.8 175.8h1.6v1.6h-1.6zM350.6 142.1h1.6v1.6h-1.6zM391.7 181.2h1.6v1.6h-1.6zM374.3 102.5h1.6v1.6h-1.6zM359.9 107h1.6v1.6h-1.6zM336.9 170.2h1.6v1.6h-1.6zM366 171.5h1.6v1.6h-1.6zM333 164.1h1.6v1.6h-1.6zM362 108.9h1.6v1.6h-1.6zM388.9 177.6h1.6v1.6h-1.6zM383.6 177.4h1.6v1.6h-1.6zM372.9 166.7h1.6v1.6h-1.6zM356.7 135.3h1.6v1.6h-1.6zM354.3 176.2h1.6v1.6h-1.6zM367.4 122.5h1.6v1.6h-1.6zM395 145.2h1.6v1.6h-1.6zM341.3 161.5h1.6v1.6h-1.6zM365.6 184.9h1.6v1.6h-1.6zM359.3 184.8h1.6v1.6h-1.6zM368.6 174h1.6v1.6h-1.6zM358.6 177h1.6v1.6h-1.6zM359.1 195h1.6v1.6h-1.6zM365.1 148.1h1.6v1.6h-1.6zM338 124.4h1.6v1.6h-1.6zM360.4 130.2h1.6v1.6h-1.6zM369.5 184.7h1.6v1.6h-1.6zM360.9 142.1h1.6v1.6h-1.6zM363.1 131.2h1.6v1.6h-1.6zM376.3 142.4h1.6v1.6h-1.6zM347.9 146.2h1.6v1.6h-1.6zM392 161.7h1.6v1.6h-1.6zM359.1 186.2h1.6v1.6h-1.6zM330.7 158.9h1.6v1.6h-1.6zM364.4 177.9h1.6v1.6h-1.6zM369.7 124.6h1.6v1.6h-1.6zM369.5 118.6h1.6v1.6h-1.6zM370.8 118.3h1.6v1.6h-1.6zM374 185.8h1.6v1.6h-1.6zM362.2 125.2h1.6v1.6h-1.6zM364.9 167.7h1.6v1.6h-1.6zM389.3 190.5h1.6v1.6h-1.6zM376.7 100.3h1.6v1.6h-1.6zM355.3 168.7h1.6v1.6h-1.6zM352 107.7h1.6v1.6h-1.6zM320.3 180.8h1.6v1.6h-1.6zM381.2 189.4h1.6v1.6h-1.6zM368.5 165.9h1.6v1.6h-1.6zM383.1 111.9h1.6v1.6h-1.6zM380.4 190.7h1.6v1.6h-1.6zM373.7 178h1.6v1.6h-1.6zM363.4 133.5h1.6v1.6h-1.6zM397.9 139.9h1.6v1.6h-1.6zM368.6 185.7h1.6v1.6h-1.6zM374 139.6h1.6v1.6h-1.6zM364.9 166.6h1.6v1.6h-1.6zM364.6 100h1.6v1.6h-1.6zM359 135.2h1.6v1.6h-1.6zM354.8 117.5h1.6v1.6h-1.6zM373.5 172.3h1.6v1.6h-1.6zM376.6 186.3h1.6v1.6h-1.6zM386.3 185.5h1.6v1.6h-1.6zM357.4 166.7h1.6v1.6h-1.6zM353.4 143.7h1.6v1.6h-1.6zM317.9 137.6h1.6v1.6h-1.6zM382.8 182.4h1.6v1.6h-1.6zM391.7 133.1h1.6v1.6h-1.6zM368.3 126.6h1.6v1.6h-1.6zM316.5 153.9h1.6v1.6h-1.6zM329.6 176.5h1.6v1.6h-1.6zM353.8 119.2h1.6v1.6h-1.6zM368.4 191.1h1.6v1.6h-1.6zM381.9 132.4h1.6v1.6h-1.6zM319.1 170.9h1.6v1.6h-1.6zM384.6 168h1.6v1.6h-1.6zM365.5 162.8h1.6v1.6h-1.6zM345.3 171.2h1.6v1.6h-1.6zM360.6 116.3h1.6v1.6h-1.6zM345.1 176h1.6v1.6h-1.6zM345.2 151h1.6v1.6h-1.6zM321 182.6h1.6v1.6h-1.6zM352.1 170.7h1.6v1.6h-1.6zM375.1 167.5h1.6v1.6h-1.6zM337.9 157.4h1.6v1.6h-1.6zM338.6 171.7h1.6v1.6h-1.6zM379.3 188.4h1.6v1.6h-1.6zM384.2 178.2h1.6v1.6h-1.6zM366.3 194.4h1.6v1.6h-1.6zM368.7 105h1.6v1.6h-1.6zM361 125.6h1.6v1.6h-1.6zM380.7 185.5h1.6v1.6h-1.6zM382.5 161.9h1.6v1.6h-1.6zM340.2 147.5h1.6v1.6h-1.6zM355.4 148.9h1.6v1.6h-1.6zM358.7 183.5h1.6v1.6h-1.6zM335.1 158.1h1.6v1.6h-1.6zM381.1 191.9h1.6v1.6h-1.6zM329.5 189.4h1.6v1.6h-1.6zM365 170.7h1.6v1.6h-1.6zM390.2 190.8h1.6v1.6h-1.6zM365.3 180.6h1.6v1.6h-1.6zM364.8 107.3h1.6v1.6h-1.6zM364.8 175.6h1.6v1.6h-1.6zM377.6 167.3h1.6v1.6h-1.6zM380.2 158.1h1.6v1.6h-1.6zM323 156h1.6v1.6h-1.6zM369.4 127.5h1.6v1.6h-1.6zM355.5 188.9h1.6v1.6h-1.6zM369.7 196.5h1.6v1.6h-1.6zM373 172.5h1.6v1.6h-1.6zM352.1 141.1h1.6v1.6h-1.6zM340.4 151.1h1.6v1.6h-1.6zM374.5 178.8h1.6v1.6h-1.6zM339.8 109.3h1.6v1.6h-1.6zM361.2 141.4h1.6v1.6h-1.6zM353.4 181.5h1.6v1.6h-1.6zM382.5 170.1h1.6v1.6h-1.6zM370.5 144.4h1.6v1.6h-1.6zM348.6 168.5h1.6v1.6h-1.6zM382.2 179.7h1.6v1.6h-1.6zM325.9 160.5h1.6v1.6h-1.6zM357.7 179h1.6v1.6h-1.6zM343.2 169.1h1.6v1.6h-1.6zM349.2 158.5h1.6v1.6h-1.6zM376.7 160.9h1.6v1.6h-1.6zM376.9 158.5h1.6v1.6h-1.6zM367.8 187.4h1.6v1.6h-1.6zM372.4 109.9h1.6v1.6h-1.6zM358.3 167.1h1.6v1.6h-1.6zM363.9 198.3h1.6v1.6h-1.6zM385.4 189.8h1.6v1.6h-1.6zM374.3 107h1.6v1.6h-1.6zM341.2 177.7h1.6v1.6h-1.6zM343.6 191.6h1.6v1.6h-1.6zM392.1 177.5h1.6v1.6h-1.6zM355.1 174.6h1.6v1.6h-1.6zM344.9 133.3h1.6v1.6h-1.6zM359.7 169.4h1.6v1.6h-1.6zM366.8 138.9h1.6v1.6h-1.6zM377.3 182.6h1.6v1.6h-1.6zM376.2 166.5h1.6v1.6h-1.6zM367 123.1h1.6v1.6h-1.6zM376.1 101.9h1.6v1.6h-1.6zM330.5 159h1.6v1.6h-1.6zM378 185.7h1.6v1.6h-1.6zM371.6 156.2h1.6v1.6h-1.6zM336.8 165.8h1.6v1.6h-1.6zM356.6 184.2h1.6v1.6h-1.6zM374.8 121.3h1.6v1.6h-1.6zM353.6 140.7h1.6v1.6h-1.6zM344.7 127.7h1.6v1.6h-1.6zM311.9 160.4h1.6v1.6h-1.6zM376.1 120.4h1.6v1.6h-1.6zM358.5 169.2h1.6v1.6h-1.6zM380.6 94.1h1.6v1.6h-1.6zM313.1 171.1h1.6v1.6h-1.6zM344.4 180.7h1.6v1.6h-1.6zM314 179h1.6v1.6h-1.6zM345.8 170.9h1.6v1.6h-1.6zM381.4 185.9h1.6v1.6h-1.6zM370.3 175h1.6v1.6h-1.6zM363.9 162.1h1.6v1.6h-1.6zM364.4 181.8h1.6v1.6h-1.6zM345.5 179.5h1.6v1.6h-1.6zM329.2 156h1.6v1.6h-1.6zM371.7 126.7h1.6v1.6h-1.6zM348.9 95.8h1.6v1.6h-1.6zM379.9 131.2h1.6v1.6h-1.6zM370.7 110.5h1.6v1.6h-1.6zM339.7 113.9h1.6v1.6h-1.6zM360.5 180.9h1.6v1.6h-1.6zM362.5 163.6h1.6v1.6h-1.6zM378.2 122.7h1.6v1.6h-1.6zM379.5 103.8h1.6v1.6h-1.6zM317.7 193.7h1.6v1.6h-1.6zM346.7 151.4h1.6v1.6h-1.6zM374.9 175h1.6v1.6h-1.6zM337.1 100.7h1.6v1.6h-1.6zM357.7 185.9h1.6v1.6h-1.6zM355.2 115.2h1.6v1.6h-1.6zM343.2 122.5h1.6v1.6h-1.6zM355.3 170.1h1.6v1.6h-1.6zM383.2 132.7h1.6v1.6h-1.6zM359 189.5h1.6v1.6h-1.6zM371.4 146.1h1.6v1.6h-1.6zM369.4 166.8h1.6v1.6h-1.6zM351.5 96.3h1.6v1.6h-1.6zM380.9 118.2h1.6v1.6h-1.6zM378.9 179.6h1.6v1.6h-1.6zM375.2 184.2h1.6v1.6h-1.6zM353.5 125.1h1.6v1.6h-1.6zM374.5 157.3h1.6v1.6h-1.6zM345.6 143.5h1.6v1.6h-1.6zM375.2 177.4h1.6v1.6h-1.6zM378.9 152.3h1.6v1.6h-1.6zM349.3 192.8h1.6v1.6h-1.6zM352.7 132.9h1.6v1.6h-1.6zM338.7 107.2h1.6v1.6h-1.6zM347.4 154.2h1.6v1.6h-1.6zM344.6 148.6h1.6v1.6h-1.6zM370.1 97.9h1.6v1.6h-1.6zM344 172.3h1.6v1.6h-1.6zM339 114.1h1.6v1.6h-1.6zM336.7 166.5h1.6v1.6h-1.6zM377.7 168.4h1.6v1.6h-1.6zM351.6 197.4h1.6v1.6h-1.6zM375.2 183.4h1.6v1.6h-1.6zM359.9 129.8h1.6v1.6h-1.6zM386.8 102.1h1.6v1.6h-1.6zM342.3 112.2h1.6v1.6h-1.6zM383.2 117.9h1.6v1.6h-1.6zM368.1 172.8h1.6v1.6h-1.6zM371.6 189.4h1.6v1.6h-1.6zM350.7 153.1h1.6v1.6h-1.6zM361.8 139.1h1.6v1.6h-1.6zM321.1 155.4h1.6v1.6h-1.6zM380.2 188.6h1.6v1.6h-1.6zM386.2 186.2h1.6v1.6h-1.6zM361.5 141.8h1.6v1.6h-1.6zM323.5 162.9h1.6v1.6h-1.6zM390.6 149.9h1.6v1.6h-1.6zM375.7 181.4h1.6v1.6h-1.6zM359.5 173.6h1.6v1.6h-1.6zM362.3 182.2h1.6v1.6h-1.6zM380.1 138.7h1.6v1.6h-1.6zM347.6 157h1.6v1.6h-1.6zM320.5 165.7h1.6v1.6h-1.6zM344.6 149.4h1.6v1.6h-1.6zM353.8 174.5h1.6v1.6h-1.6zM338.3 143.8h1.6v1.6h-1.6zM356.4 174.9h1.6v1.6h-1.6zM332.5 133h1.6v1.6h-1.6zM372.3 182.7h1.6v1.6h-1.6zM374.9 196.1h1.6v1.6h-1.6zM360.7 148.1h1.6v1.6h-1.6zM359.4 147.2h1.6v1.6h-1.6zM378.3 182.2h1.6v1.6h-1.6zM359.1 175.6h1.6v1.6h-1.6zM351.4 189.7h1.6v1.6h-1.6zM362.9 155.2h1.6v1.6h-1.6zM377.9 149.2h1.6v1.6h-1.6zM375.4 150h1.6v1.6h-1.6zM355.9 185.1h1.6v1.6h-1.6zM362.2 180.8h1.6v1.6h-1.6zM364.9 167.4h1.6v1.6h-1.6zM375.2 173.9h1.6v1.6h-1.6zM377.6 131h1.6v1.6h-1.6zM376.5 166.1h1.6v1.6h-1.6zM390.6 184.1h1.6v1.6h-1.6zM372 192.1h1.6v1.6h-1.6zM370.5 115.7h1.6v1.6h-1.6zM374.4 163.7h1.6v1.6h-1.6zM370.3 190.8h1.6v1.6h-1.6zM319.8 167.5h1.6v1.6h-1.6zM356 108.6h1.6v1.6h-1.6zM333.2 161.2h1.6v1.6h-1.6zM370.2 187.9h1.6v1.6h-1.6zM314.1 134.9h1.6v1.6h-1.6zM382.5 167.2h1.6v1.6h-1.6zM360.1 177.8h1.6v1.6h-1.6zM366.3 165h1.6v1.6h-1.6zM369.7 125.6h1.6v1.6h-1.6zM383.8 138.8h1.6v1.6h-1.6zM379.7 137.6h1.6v1.6h-1.6zM345.3 146.1h1.6v1.6h-1.6zM345.5 166.7h1.6v1.6h-1.6zM347.2 111h1.6v1.6h-1.6zM354.6 148.2h1.6v1.6h-1.6zM326.5 196.5h1.6v1.6h-1.6zM379.8 99.5h1.6v1.6h-1.6zM395.1 166h1.6v1.6h-1.6zM373 165.4h1.6v1.6h-1.6zM375.6 177.7h1.6v1.6h-1.6zM379.1 162.6h1.6v1.6h-1.6zM379.8 180h1.6v1.6h-1.6zM350.9 182.3h1.6v1.6h-1.6zM373.7 177.3h1.6v1.6h-1.6zM370.8 163.4h1.6v1.6h-1.6zM356.1 137.3h1.6v1.6h-1.6zM370.1 196.1h1.6v1.6h-1.6zM342.7 152.9h1.6v1.6h-1.6zM366.2 182.6h1.6v1.6h-1.6zM355.5 184.1h1.6v1.6h-1.6zM367.1 159.4h1.6v1.6h-1.6zM356.7 180.1h1.6v1.6h-1.6zM379.9 164.7h1.6v1.6h-1.6zM370.3 128.9h1.6v1.6h-1.6zM345 164.2h1.6v1.6h-1.6zM351.9 174.3h1.6v1.6h-1.6zM365.9 176.5h1.6v1.6h-1.6zM362.1 121h1.6v1.6h-1.6zM366.6 128.1h1.6v1.6h-1.6zM343.8 194.1h1.6v1.6h-1.6zM321.7 159h1.6v1.6h-1.6zM359.3 138.4h1.6v1.6h-1.6zM361.5 126.9h1.6v1.6h-1.6zM361.3 129.1h1.6v1.6h-1.6zM367.4 177.2h1.6v1.6h-1.6zM374.8 177.1h1.6v1.6h-1.6zM348.4 184.5h1.6v1.6h-1.6zM382.1 187.7h1.6v1.6h-1.6zM371 178.3h1.6v1.6h-1.6zM357.5 117.7h1.6v1.6h-1.6zM346.4 167.3h1.6v1.6h-1.6zM347.9 120.6h1.6v1.6h-1.6zM345 161.4h1.6v1.6h-1.6zM370.3 173.5h1.6v1.6h-1.6zM381.4 171.4h1.6v1.6h-1.6zM347 150.5h1.6v1.6h-1.6zM357.5 126.5h1.6v1.6h-1.6zM340.6 96.5h1.6v1.6h-1.6zM367.2 169.8h1.6v1.6h-1.6zM363.6 176.9h1.6v1.6h-1.6zM341 172.6h1.6v1.6h-1.6zM362.1 171.8h1.6v1.6h-1.6zM327.6 163.1h1.6v1.6h-1.6zM370.3 110.8h1.6v1.6h-1.6zM368.5 149.8h1.6v1.6h-1.6zM380.3 153h1.6v1.6h-1.6zM388.6 167.9h1.6v1.6h-1.6zM385.3 177.6h1.6v1.6h-1.6zM414 142.3h1.6v1.6h-1.6zM345 192.8h1.6v1.6h-1.6zM355.3 180.1h1.6v1.6h-1.6zM372.3 167.6h1.6v1.6h-1.6zM376.7 169.1h1.6v1.6h-1.6zM347.5 192.6h1.6v1.6h-1.6zM365.2 115.7h1.6v1.6h-1.6zM350.1 126.1h1.6v1.6h-1.6zM342.4 122.1h1.6v1.6h-1.6zM342.1 101.5h1.6v1.6h-1.6zM376.7 183.3h1.6v1.6h-1.6zM356.4 193.6h1.6v1.6h-1.6zM370.2 171.4h1.6v1.6h-1.6zM354.9 190h1.6v1.6h-1.6zM385 143.2h1.6v1.6h-1.6zM380.6 168.7h1.6v1.6h-1.6zM367.5 179.4h1.6v1.6h-1.6zM365.4 180h1.6v1.6h-1.6zM349.7 170.1h1.6v1.6h-1.6zM342.8 169.6h1.6v1.6h-1.6zM340.2 101.8h1.6v1.6h-1.6zM318.6 183.4h1.6v1.6h-1.6zM337.9 155.1h1.6v1.6h-1.6zM343.4 193.1h1.6v1.6h-1.6zM398.1 168.7h1.6v1.6h-1.6zM373.9 181.3h1.6v1.6h-1.6zM377.6 196.4h1.6v1.6h-1.6zM366.3 194.4h1.6v1.6h-1.6zM375.7 174.3h1.6v1.6h-1.6zM354.5 199.9h1.6v1.6h-1.6zM361.9 198.7h1.6v1.6h-1.6zM372.9 156h1.6v1.6h-1.6zM330.1 180h1.6v1.6h-1.6zM383.4 182.9h1.6v1.6h-1.6zM364.3 170.5h1.6v1.6h-1.6zM356 184h1.6v1.6h-1.6zM377.1 191.1h1.6v1.6h-1.6zM378.7 175.8h1.6v1.6h-1.6zM354 177.7h1.6v1.6h-1.6zM320.7 152.5h1.6v1.6h-1.6zM385.6 97.9h1.6v1.6h-1.6zM391.4 138.3h1.6v1.6h-1.6zM397.7 115.1h1.6v1.6h-1.6zM380.1 167.2h1.6v1.6h-1.6zM367.1 169.1h1.6v1.6h-1.6zM377.7 111h1.6v1.6h-1.6zM375.9 173.2h1.6v1.6h-1.6zM366.8 181.1h1.6v1.6h-1.6zM365.5 189.1h1.6v1.6h-1.6zM349.4 150.1h1.6v1.6h-1.6zM375.6 172.9h1.6v1.6h-1.6zM331.4 136.1h1.6v1.6h-1.6zM367.3 187.4h1.6v1.6h-1.6zM316.5 155.9h1.6v1.6h-1.6zM382.9 146.9h1.6v1.6h-1.6zM368.9 102.7h1.6v1.6h-1.6zM356.7 179.7h1.6v1.6h-1.6zM357.5 136.4h1.6v1.6h-1.6zM381.8 154.6h1.6v1.6h-1.6zM392 96h1.6v1.6h-1.6zM363.5 170.1h1.6v1.6h-1.6zM370.5 179.7h1.6v1.6h-1.6zM365 175.5h1.6v1.6h-1.6zM370.2 179.1h1.6v1.6h-1.6zM370.3 137.9h1.6v1.6h-1.6zM391.4 173.4h1.6v1.6h-1.6zM330.4 160h1.6v1.6h-1.6zM352.2 171.4h1.6v1.6h-1.6zM363.6 175.5h1.6v1.6h-1.6zM343.6 175.8h1.6v1.6h-1.6zM372.3 165.8h1.6v1.6h-1.6zM374.5 184.6h1.6v1.6h-1.6zM356.6 115.4h1.6v1.6h-1.6zM369.2 181.1h1.6v1.6h-1.6zM371.2 173.2h1.6v1.6h-1.6zM376.8 183.3h1.6v1.6h-1.6zM359.1 169.7h1.6v1.6h-1.6zM377.4 180.3h1.6v1.6h-1.6zM378.8 175.1h1.6v1.6h-1.6zM351.1 178.7h1.6v1.6h-1.6zM350.9 161.2h1.6v1.6h-1.6zM382.4 128.5h1.6v1.6h-1.6zM359 122h1.6v1.6h-1.6zM371.9 178.2h1.6v1.6h-1.6zM387.6 121.8h1.6v1.6h-1.6zM343 161.1h1.6v1.6h-1.6zM360.9 110.8h1.6v1.6h-1.6zM375.6 194.2h1.6v1.6h-1.6zM366.2 171.2h1.6v1.6h-1.6zM371.1 177.1h1.6v1.6h-1.6zM359.7 110h1.6v1.6h-1.6zM357.3 170.8h1.6v1.6h-1.6zM359 145.2h1.6v1.6h-1.6zM380.4 186.5h1.6v1.6h-1.6zM367.5 151.2h1.6v1.6h-1.6zM348.7 149.5h1.6v1.6h-1.6zM381.1 180.8h1.6v1.6h-1.6zM367.4 164.7h1.6v1.6h-1.6zM336.8 157.6h1.6v1.6h-1.6zM371.2 174h1.6v1.6h-1.6zM327.5 183.6h1.6v1.6h-1.6zM340.5 175.3h1.6v1.6h-1.6zM371.6 180.9h1.6v1.6h-1.6zM343.5 179.1h1.6v1.6h-1.6zM372.9 115.4h1.6v1.6h-1.6zM338.6 173.3h1.6v1.6h-1.6zM367 122.8h1.6v1.6h-1.6zM377.5 163.1h1.6v1.6h-1.6zM388.2 133.5h1.6v1.6h-1.6zM372.8 174.9h1.6v1.6h-1.6zM375.8 179.1h1.6v1.6h-1.6zM327.4 145.4h1.6v1.6h-1.6zM355.2 122.3h1.6v1.6h-1.6zM366.2 110.6h1.6v1.6h-1.6zM380.3 174.5h1.6v1.6h-1.6zM356.1 121.7h1.6v1.6h-1.6zM343 175.1h1.6v1.6h-1.6zM373.7 193.2h1.6v1.6h-1.6zM358.4 190.9h1.6v1.6h-1.6zM342.4 171.5h1.6v1.6h-1.6zM398.1 179h1.6v1.6h-1.6zM367.4 167.6h1.6v1.6h-1.6zM358.3 131.3h1.6v1.6h-1.6zM369.6 167.9h1.6v1.6h-1.6zM340.2 159.6h1.6v1.6h-1.6zM325.9 175.2h1.6v1.6h-1.6zM324.9 152.3h1.6v1.6h-1.6zM355.9 132.8h1.6v1.6h-1.6zM353.3 153.1h1.6v1.6h-1.6zM339.5 178.1h1.6v1.6h-1.6zM352.3 174.2h1.6v1.6h-1.6zM344.7 168.2h1.6v1.6h-1.6zM308.3 160.4h1.6v1.6h-1.6zM313.9 168.6h1.6v1.6h-1.6zM348.3 152.7h1.6v1.6h-1.6zM346.8 198.4h1.6v1.6h-1.6zM369.6 115h1.6v1.6h-1.6zM352.8 178h1.6v1.6h-1.6zM356.5 172.6h1.6v1.6h-1.6zM372 119.8h1.6v1.6h-1.6zM363.8 125.8h1.6v1.6h-1.6zM361 125.4h1.6v1.6h-1.6zM390.6 107.3h1.6v1.6h-1.6zM384.2 173.4h1.6v1.6h-1.6zM314.7 170.5h1.6v1.6h-1.6zM361 170.7h1.6v1.6h-1.6zM367.7 191.6h1.6v1.6h-1.6zM375.2 139.1h1.6v1.6h-1.6zM355.4 160h1.6v1.6h-1.6zM313.4 149.7h1.6v1.6h-1.6zM366.7 101.9h1.6v1.6h-1.6zM380.8 170h1.6v1.6h-1.6zM347.8 172.3h1.6v1.6h-1.6zM377 186.7h1.6v1.6h-1.6zM380.7 170.4h1.6v1.6h-1.6zM387.2 171.8h1.6v1.6h-1.6zM335.5 146.6h1.6v1.6h-1.6zM316.5 168.5h1.6v1.6h-1.6zM366.3 131.5h1.6v1.6h-1.6zM360.1 182.6h1.6v1.6h-1.6zM362.9 170.6h1.6v1.6h-1.6zM377.5 181.5h1.6v1.6h-1.6zM333.7 159.3h1.6v1.6h-1.6zM363.6 128.4h1.6v1.6h-1.6zM387 170.4h1.6v1.6h-1.6zM334.9 162.8h1.6v1.6h-1.6zM343.6 182.8h1.6v1.6h-1.6zM370.4 183.6h1.6v1.6h-1.6zM367.8 145.6h1.6v1.6h-1.6zM311.9 150.2h1.6v1.6h-1.6zM328.3 165.9h1.6v1.6h-1.6zM388.6 176.2h1.6v1.6h-1.6zM376.3 129.6h1.6v1.6h-1.6zM364 130.8h1.6v1.6h-1.6zM377.5 178.5h1.6v1.6h-1.6zM328.3 152.5h1.6v1.6h-1.6zM374 156.2h1.6v1.6h-1.6zM384.6 130.8h1.6v1.6h-1.6zM380.2 124.4h1.6v1.6h-1.6zM374.4 125.2h1.6v1.6h-1.6zM352 143.7h1.6v1.6h-1.6zM377.1 113.4h1.6v1.6h-1.6zM362.1 174.9h1.6v1.6h-1.6zM351.1 178.2h1.6v1.6h-1.6zM376.1 180.9h1.6v1.6h-1.6zM351.6 196.6h1.6v1.6h-1.6zM363.3 178.4h1.6v1.6h-1.6zM364.9 123.2h1.6v1.6h-1.6zM372.1 177h1.6v1.6h-1.6zM364.3 180.1h1.6v1.6h-1.6zM364.8 143.4h1.6v1.6h-1.6zM332.6 187.6h1.6v1.6h-1.6zM366.4 180.8h1.6v1.6h-1.6zM392.3 162.9h1.6v1.6h-1.6zM382.2 112.3h1.6v1.6h-1.6zM363.4 190h1.6v1.6h-1.6zM312.1 178.4h1.6v1.6h-1.6zM378 103.9h1.6v1.6h-1.6zM327.7 168.5h1.6v1.6h-1.6zM360.3 193.6h1.6v1.6h-1.6zM378.7 168.5h1.6v1.6h-1.6zM370.4 183.4h1.6v1.6h-1.6zM382 196h1.6v1.6h-1.6zM342.6 163.4h1.6v1.6h-1.6zM380.5 159.9h1.6v1.6h-1.6zM361.8 188.2h1.6v1.6h-1.6zM376 174.4h1.6v1.6h-1.6zM322.1 172.5h1.6v1.6h-1.6zM377.2 101.4h1.6v1.6h-1.6zM349.9 170.7h1.6v1.6h-1.6zM391.5 177h1.6v1.6h-1.6zM369.8 175.3h1.6v1.6h-1.6zM320.7 167.8h1.6v1.6h-1.6zM376.6 97.4h1.6v1.6h-1.6zM387.9 146.3h1.6v1.6h-1.6zM390.8 188.4h1.6v1.6h-1.6zM372.1 170.5h1.6v1.6h-1.6zM372.8 127.5h1.6v1.6h-1.6zM356.2 177.5h1.6v1.6h-1.6zM375.9 179h1.6v1.6h-1.6zM373.3 170.9h1.6v1.6h-1.6zM364.6 183.9h1.6v1.6h-1.6zM363.2 118.9h1.6v1.6h-1.6zM355.1 189.7h1.6v1.6h-1.6zM371.2 126.1h1.6v1.6h-1.6zM395.7 174.5h1.6v1.6h-1.6zM358.3 107.7h1.6v1.6h-1.6zM349.4 132.3h1.6v1.6h-1.6zM384.2 119.7h1.6v1.6h-1.6zM365.9 124.6h1.6v1.6h-1.6zM383.8 130.6h1.6v1.6h-1.6zM360.1 146.2h1.6v1.6h-1.6zM379.7 111.7h1.6v1.6h-1.6zM370.2 179.8h1.6v1.6h-1.6zM364.6 125.4h1.6v1.6h-1.6zM365.4 178h1.6v1.6h-1.6zM378.8 125.4h1.6v1.6h-1.6zM349.6 132.3h1.6v1.6h-1.6zM315.6 153.2h1.6v1.6h-1.6zM383.6 175.6h1.6v1.6h-1.6zM367.9 111.5h1.6v1.6h-1.6zM376.5 126.3h1.6v1.6h-1.6zM350.9 181h1.6v1.6h-1.6zM343 175.7h1.6v1.6h-1.6zM368.2 178.9h1.6v1.6h-1.6zM385.1 144h1.6v1.6h-1.6zM348.3 171.2h1.6v1.6h-1.6zM376.7 181.7h1.6v1.6h-1.6zM375.4 113.9h1.6v1.6h-1.6zM390.4 193.5h1.6v1.6h-1.6zM355.8 171.1h1.6v1.6h-1.6zM360.8 121.8h1.6v1.6h-1.6zM314.3 149.5h1.6v1.6h-1.6zM376.8 173.2h1.6v1.6h-1.6zM371.2 177.8h1.6v1.6h-1.6zM318.7 165.3h1.6v1.6h-1.6zM379.6 157.4h1.6v1.6h-1.6zM370 197.5h1.6v1.6h-1.6zM372.9 165.5h1.6v1.6h-1.6zM389.1 161.2h1.6v1.6h-1.6zM365.1 130.9h1.6v1.6h-1.6zM374.7 117.5h1.6v1.6h-1.6zM373.4 165.5h1.6v1.6h-1.6zM359.3 163.7h1.6v1.6h-1.6zM327.7 173.2h1.6v1.6h-1.6zM372.7 128.5h1.6v1.6h-1.6zM380.2 173.4h1.6v1.6h-1.6zM385.8 160.7h1.6v1.6h-1.6zM347.1 187.9h1.6v1.6h-1.6zM379.2 122.8h1.6v1.6h-1.6zM371.9 112h1.6v1.6h-1.6zM340.3 151.1h1.6v1.6h-1.6zM385.1 181.9h1.6v1.6h-1.6zM351.5 151.6h1.6v1.6h-1.6zM372.9 178.3h1.6v1.6h-1.6zM378.2 144.2h1.6v1.6h-1.6zM342.8 168.5h1.6v1.6h-1.6zM362.7 141.6h1.6v1.6h-1.6zM366 134h1.6v1.6h-1.6zM352.7 192.7h1.6v1.6h-1.6zM373 171.4h1.6v1.6h-1.6zM378.7 173.2h1.6v1.6h-1.6zM375.3 185.2h1.6v1.6h-1.6zM384.3 174.3h1.6v1.6h-1.6zM327.4 167.9h1.6v1.6h-1.6zM364.7 170.9h1.6v1.6h-1.6zM364.1 170.2h1.6v1.6h-1.6zM368.5 142.6h1.6v1.6h-1.6zM337.3 160.6h1.6v1.6h-1.6zM352.3 143.3h1.6v1.6h-1.6zM366.6 152.6h1.6v1.6h-1.6zM390.7 146h1.6v1.6h-1.6zM339.3 119.7h1.6v1.6h-1.6zM385.9 179.5h1.6v1.6h-1.6zM362.1 175.5h1.6v1.6h-1.6zM377.8 175.6h1.6v1.6h-1.6zM365.6 94.7h1.6v1.6h-1.6zM342.6 156.8h1.6v1.6h-1.6zM308.3 141.3h1.6v1.6h-1.6zM369.7 121.2h1.6v1.6h-1.6zM400 175.7h1.6v1.6h-1.6zM375.2 110.8h1.6v1.6h-1.6zM342.7 112.7h1.6v1.6h-1.6zM359.1 184.4h1.6v1.6h-1.6zM365.4 148h1.6v1.6h-1.6zM383.7 127.4h1.6v1.6h-1.6zM340.1 182.3h1.6v1.6h-1.6zM338.4 148.4h1.6v1.6h-1.6zM390.8 171.7h1.6v1.6h-1.6zM359.8 127.6h1.6v1.6h-1.6zM364.4 177.7h1.6v1.6h-1.6zM367.3 178.6h1.6v1.6h-1.6zM373.3 106h1.6v1.6h-1.6zM375.6 142.5h1.6v1.6h-1.6zM371.2 182.1h1.6v1.6h-1.6zM368.6 110.6h1.6v1.6h-1.6zM327.8 171.7h1.6v1.6h-1.6zM366 180.2h1.6v1.6h-1.6zM354.4 190h1.6v1.6h-1.6zM350.6 161.9h1.6v1.6h-1.6zM361.4 178.8h1.6v1.6h-1.6zM381.2 190.3h1.6v1.6h-1.6zM369.8 174.6h1.6v1.6h-1.6zM368.5 179.3h1.6v1.6h-1.6zM374.5 118.7h1.6v1.6h-1.6zM354.9 154.3h1.6v1.6h-1.6zM379.8 97.2h1.6v1.6h-1.6zM367.8 183.9h1.6v1.6h-1.6zM369.1 135.2h1.6v1.6h-1.6zM364.9 124.3h1.6v1.6h-1.6zM360.5 158.8h1.6v1.6h-1.6zM373.2 167.3h1.6v1.6h-1.6zM358.3 128.4h1.6v1.6h-1.6zM333.2 156.2h1.6v1.6h-1.6zM345.2 179.2h1.6v1.6h-1.6zM359.4 175.2h1.6v1.6h-1.6zM377.2 177.3h1.6v1.6h-1.6zM343.5 168.1h1.6v1.6h-1.6zM334 183.9h1.6v1.6h-1.6zM346.4 164h1.6v1.6h-1.6zM360.5 124.8h1.6v1.6h-1.6zM353.1 178.6h1.6v1.6h-1.6zM366.7 171.3h1.6v1.6h-1.6zM363.6 175.8h1.6v1.6h-1.6zM371 109.6h1.6v1.6h-1.6zM369 158.7h1.6v1.6h-1.6zM394.3 139.1h1.6v1.6h-1.6zM354.4 120.3h1.6v1.6h-1.6zM364.9 188.8h1.6v1.6h-1.6zM355.9 127.5h1.6v1.6h-1.6zM377.9 145.6h1.6v1.6h-1.6zM383.3 96.5h1.6v1.6h-1.6zM382.3 175.4h1.6v1.6h-1.6zM360.1 113.5h1.6v1.6h-1.6zM376.4 189h1.6v1.6h-1.6zM342.1 168.3h1.6v1.6h-1.6zM359.9 187.2h1.6v1.6h-1.6zM361.2 168.7h1.6v1.6h-1.6zM347.2 111.2h1.6v1.6h-1.6zM387.5 129.7h1.6v1.6h-1.6zM374.6 194.4h1.6v1.6h-1.6zM392.2 116.1h1.6v1.6h-1.6zM359.5 145.3h1.6v1.6h-1.6zM331.9 153h1.6v1.6h-1.6zM361.7 181.9h1.6v1.6h-1.6zM361.3 161.2h1.6v1.6h-1.6zM371 188.3h1.6v1.6h-1.6zM380.5 180.5h1.6v1.6h-1.6zM378.3 184.5h1.6v1.6h-1.6zM376.9 128.8h1.6v1.6h-1.6zM389.6 190h1.6v1.6h-1.6zM396.7 191.3h1.6v1.6h-1.6zM350.6 161.9h1.6v1.6h-1.6zM333.5 161.6h1.6v1.6h-1.6zM335.6 169.2h1.6v1.6h-1.6zM381.5 188.4h1.6v1.6h-1.6zM365.4 165.6h1.6v1.6h-1.6zM343.6 134.8h1.6v1.6h-1.6zM345.7 190h1.6v1.6h-1.6zM366.7 171.8h1.6v1.6h-1.6zM368 166h1.6v1.6h-1.6zM344.1 128.3h1.6v1.6h-1.6zM338.9 177.4h1.6v1.6h-1.6zM365 191.5h1.6v1.6h-1.6zM330.2 116.9h1.6v1.6h-1.6zM371.4 162h1.6v1.6h-1.6zM368.7 183.4h1.6v1.6h-1.6zM382.7 127.1h1.6v1.6h-1.6zM381.5 188.2h1.6v1.6h-1.6zM357.1 186h1.6v1.6h-1.6zM354.4 148.1h1.6v1.6h-1.6zM370.2 173.2h1.6v1.6h-1.6zM325.3 140h1.6v1.6h-1.6zM364.1 191.6h1.6v1.6h-1.6zM354.5 172.1h1.6v1.6h-1.6zM356.6 189.9h1.6v1.6h-1.6zM360.4 166h1.6v1.6h-1.6zM343.8 150.6h1.6v1.6h-1.6zM362.8 173.1h1.6v1.6h-1.6zM363.7 161.3h1.6v1.6h-1.6zM360.2 181.7h1.6v1.6h-1.6zM373.6 178.1h1.6v1.6h-1.6zM360.7 145.4h1.6v1.6h-1.6zM365.9 131.2h1.6v1.6h-1.6zM368.2 161.6h1.6v1.6h-1.6zM352.4 156h1.6v1.6h-1.6zM352.8 148.7h1.6v1.6h-1.6zM305.8 190.1h1.6v1.6h-1.6zM368 119h1.6v1.6h-1.6zM383.1 182.5h1.6v1.6h-1.6zM306 173.4h1.6v1.6h-1.6zM345.8 177.6h1.6v1.6h-1.6zM376.1 116.6h1.6v1.6h-1.6zM369.6 138.4h1.6v1.6h-1.6zM378.5 130.6h1.6v1.6h-1.6zM356.1 138.2h1.6v1.6h-1.6zM380 149h1.6v1.6h-1.6zM358.3 161.6h1.6v1.6h-1.6zM317.6 156.8h1.6v1.6h-1.6zM368.1 157.5h1.6v1.6h-1.6zM331.8 159.1h1.6v1.6h-1.6zM363.7 128.7h1.6v1.6h-1.6zM370.5 114.4h1.6v1.6h-1.6zM365.4 172.5h1.6v1.6h-1.6zM350.4 136h1.6v1.6h-1.6zM368.3 114.8h1.6v1.6h-1.6zM367.3 152.7h1.6v1.6h-1.6zM362.4 182.1h1.6v1.6h-1.6zM379.7 126.3h1.6v1.6h-1.6zM370.1 169.7h1.6v1.6h-1.6zM372.5 196.8h1.6v1.6h-1.6zM371.1 186.1h1.6v1.6h-1.6zM382.4 170.2h1.6v1.6h-1.6zM353.4 158.2h1.6v1.6h-1.6zM352.6 177.6h1.6v1.6h-1.6zM371.7 139.8h1.6v1.6h-1.6zM381.2 85.2h1.6v1.6h-1.6zM406.4 167.4h1.6v1.6h-1.6zM349.8 168.1h1.6v1.6h-1.6zM375.8 175.1h1.6v1.6h-1.6zM362 182.8h1.6v1.6h-1.6zM397.1 133.3h1.6v1.6h-1.6zM344.6 172.7h1.6v1.6h-1.6zM364.2 118.5h1.6v1.6h-1.6zM326.9 168.2h1.6v1.6h-1.6zM351.7 104.5h1.6v1.6h-1.6zM378.1 114.8h1.6v1.6h-1.6zM356.8 185.4h1.6v1.6h-1.6zM324.6 165.4h1.6v1.6h-1.6zM330.6 144.1h1.6v1.6h-1.6zM393.6 168.5h1.6v1.6h-1.6zM345 161.6h1.6v1.6h-1.6zM378.2 190.1h1.6v1.6h-1.6zM356.4 125.8h1.6v1.6h-1.6zM345.2 173.3h1.6v1.6h-1.6zM359.8 117.3h1.6v1.6h-1.6zM380.3 173.5h1.6v1.6h-1.6zM379.2 129.3h1.6v1.6h-1.6zM342.5 151.8h1.6v1.6h-1.6zM360.1 165.4h1.6v1.6h-1.6zM373.8 181.2h1.6v1.6h-1.6zM327.3 167.1h1.6v1.6h-1.6zM349.4 104.4h1.6v1.6h-1.6zM382 139.8h1.6v1.6h-1.6zM365.9 187.5h1.6v1.6h-1.6zM375 190.1h1.6v1.6h-1.6zM369.6 116.9h1.6v1.6h-1.6zM353.4 180.5h1.6v1.6h-1.6zM371.3 168h1.6v1.6h-1.6zM325.1 133.4h1.6v1.6h-1.6zM362.3 139.6h1.6v1.6h-1.6zM362.1 176.8h1.6v1.6h-1.6zM371.6 172.8h1.6v1.6h-1.6zM350.5 161.5h1.6v1.6h-1.6zM349.2 174.8h1.6v1.6h-1.6zM348.9 186.1h1.6v1.6h-1.6zM371.5 169.9h1.6v1.6h-1.6zM385 106.7h1.6v1.6h-1.6zM336.9 189.1h1.6v1.6h-1.6zM312.1 147.8h1.6v1.6h-1.6zM386.6 181.9h1.6v1.6h-1.6zM379.8 121.3h1.6v1.6h-1.6zM369.9 173.5h1.6v1.6h-1.6zM394.7 201h1.6v1.6h-1.6zM364 188.4h1.6v1.6h-1.6zM342.4 126.6h1.6v1.6h-1.6zM389.9 177.1h1.6v1.6h-1.6zM358.5 177.3h1.6v1.6h-1.6zM347.6 181.5h1.6v1.6h-1.6zM384.2 168.5h1.6v1.6h-1.6zM336.3 158.2h1.6v1.6h-1.6zM341.8 120.4h1.6v1.6h-1.6zM313.7 150.6h1.6v1.6h-1.6zM344 180.9h1.6v1.6h-1.6zM371.7 137h1.6v1.6h-1.6zM362.4 166.3h1.6v1.6h-1.6zM363.8 179h1.6v1.6h-1.6zM314.9 117.9h1.6v1.6h-1.6zM387.3 140.2h1.6v1.6h-1.6zM387.3 121.1h1.6v1.6h-1.6zM350.3 122.5h1.6v1.6h-1.6zM371.7 100.8h1.6v1.6h-1.6zM356.4 176.8h1.6v1.6h-1.6zM360.7 179.8h1.6v1.6h-1.6zM357.4 149.7h1.6v1.6h-1.6zM369.9 116.7h1.6v1.6h-1.6zM370.2 173.1h1.6v1.6h-1.6zM379.2 164.1h1.6v1.6h-1.6zM342 162.1h1.6v1.6h-1.6zM356.9 150.5h1.6v1.6h-1.6zM387.8 115.7h1.6v1.6h-1.6zM374.1 186.6h1.6v1.6h-1.6zM401.6 166h1.6v1.6h-1.6zM389.6 110h1.6v1.6h-1.6zM365.3 155.7h1.6v1.6h-1.6zM365.3 123.6h1.6v1.6h-1.6zM343.1 166.7h1.6v1.6h-1.6zM373.5 181.1h1.6v1.6h-1.6zM338.7 153.6h1.6v1.6h-1.6zM366.2 154.6h1.6v1.6h-1.6zM367.2 159h1.6v1.6h-1.6zM371.3 135.2h1.6v1.6h-1.6zM334.9 186.3h1.6v1.6h-1.6zM383.9 172.2h1.6v1.6h-1.6zM384.1 172.8h1.6v1.6h-1.6zM343.6 166.2h1.6v1.6h-1.6zM357.5 162.3h1.6v1.6h-1.6zM363.7 139.9h1.6v1.6h-1.6zM386.5 186.1h1.6v1.6h-1.6zM382.5 182.3h1.6v1.6h-1.6zM304.3 135.1h1.6v1.6h-1.6zM359.2 166h1.6v1.6h-1.6zM368.7 120.9h1.6v1.6h-1.6zM358.1 177.8h1.6v1.6h-1.6zM360.2 179.9h1.6v1.6h-1.6zM375.1 165.6h1.6v1.6h-1.6zM372.2 106.8h1.6v1.6h-1.6zM378.6 168.9h1.6v1.6h-1.6zM337 148h1.6v1.6h-1.6zM326.6 195.2h1.6v1.6h-1.6zM348.9 164h1.6v1.6h-1.6zM379 176.9h1.6v1.6h-1.6zM380.4 117.9h1.6v1.6h-1.6zM370 136.6h1.6v1.6h-1.6zM349.2 176.6h1.6v1.6h-1.6zM370.4 151.1h1.6v1.6h-1.6zM376.1 166.3h1.6v1.6h-1.6zM346.1 155.5h1.6v1.6h-1.6zM341.1 153.2h1.6v1.6h-1.6zM367.6 120.4h1.6v1.6h-1.6zM385.8 182.6h1.6v1.6h-1.6zM372.3 182.3h1.6v1.6h-1.6zM365.5 185h1.6v1.6h-1.6zM365.6 193.8h1.6v1.6h-1.6zM391.7 121.7h1.6v1.6h-1.6zM366.6 102.1h1.6v1.6h-1.6zM379.3 150.9h1.6v1.6h-1.6zM366.7 99.1h1.6v1.6h-1.6zM353.2 107.3h1.6v1.6h-1.6zM374.3 173.8h1.6v1.6h-1.6zM329.4 174.3h1.6v1.6h-1.6zM366.4 180.6h1.6v1.6h-1.6zM383.5 157.3h1.6v1.6h-1.6zM375.8 115.6h1.6v1.6h-1.6zM369.8 133.9h1.6v1.6h-1.6z" fill="#3a3a3a"/>
<path d="M372.2 131.7h1.6v1.6h-1.6zM383.8 165.2h1.6v1.6h-1.6zM367.8 178.5h1.6v1.6h-1.6zM352.6 177.3h1.6v1.6h-1.6zM371.2 105.2h1.6v1.6h-1.6zM373.8 175.7h1.6v1.6h-1.6zM373.8 124.7h1.6v1.6h-1.6zM354.8 175.2h1.6v1.6h-1.6zM355.5 117.7h1.6v1.6h-1.6zM403.1 136.8h1.6v1.6h-1.6zM366.9 186.3h1.6v1.6h-1.6zM364.3 174.5h1.6v1.6h-1.6zM374.6 182.9h1.6v1.6h-1.6zM365.4 175.7h1.6v1.6h-1.6zM372.8 125h1.6v1.6h-1.6zM372.7 192.1h1.6v1.6h-1.6zM363.6 185.3h1.6v1.6h-1.6zM378.7 179.9h1.6v1.6h-1.6zM356.2 186.3h1.6v1.6h-1.6zM359.5 126.8h1.6v1.6h-1.6zM377.4 170.6h1.6v1.6h-1.6zM365 188.1h1.6v1.6h-1.6zM371.3 168.5h1.6v1.6h-1.6zM374.4 169.9h1.6v1.6h-1.6zM370 141.5h1.6v1.6h-1.6zM368.9 186.8h1.6v1.6h-1.6zM378.5 108.4h1.6v1.6h-1.6zM371.6 113.2h1.6v1.6h-1.6zM350.3 95.3h1.6v1.6h-1.6zM339.4 170.6h1.6v1.6h-1.6zM365.5 174.5h1.6v1.6h-1.6zM380.8 175h1.6v1.6h-1.6zM354.2 134.8h1.6v1.6h-1.6zM358 177h1.6v1.6h-1.6zM346.7 150.3h1.6v1.6h-1.6zM384 183.5h1.6v1.6h-1.6zM381.2 177.2h1.6v1.6h-1.6zM333.4 170.5h1.6v1.6h-1.6zM339.7 165.9h1.6v1.6h-1.6zM348.5 157.5h1.6v1.6h-1.6zM339.1 119.8h1.6v1.6h-1.6zM345 163.6h1.6v1.6h-1.6zM374.2 154.6h1.6v1.6h-1.6zM374.9 183h1.6v1.6h-1.6zM348.2 133.3h1.6v1.6h-1.6zM387.9 187.5h1.6v1.6h-1.6zM341.9 143.6h1.6v1.6h-1.6zM356.7 181.9h1.6v1.6h-1.6zM370.3 190.3h1.6v1.6h-1.6zM357.9 145.9h1.6v1.6h-1.6zM373.7 116.6h1.6v1.6h-1.6zM361.4 155.9h1.6v1.6h-1.6zM376.8 171.2h1.6v1.6h-1.6zM381.5 188.6h1.6v1.6h-1.6zM347.4 181.3h1.6v1.6h-1.6zM366.5 170h1.6v1.6h-1.6zM377.5 174.6h1.6v1.6h-1.6zM368 121.5h1.6v1.6h-1.6zM384.5 173.2h1.6v1.6h-1.6zM337.4 120.4h1.6v1.6h-1.6zM386.3 155.5h1.6v1.6h-1.6zM368.9 107.7h1.6v1.6h-1.6zM410.1 177.4h1.6v1.6h-1.6zM358.8 142.3h1.6v1.6h-1.6zM399.5 122h1.6v1.6h-1.6zM394.9 181.7h1.6v1.6h-1.6zM329 157.9h1.6v1.6h-1.6zM346.9 128.5h1.6v1.6h-1.6zM381.9 156.3h1.6v1.6h-1.6zM346.3 115.9h1.6v1.6h-1.6zM370.5 187.3h1.6v1.6h-1.6zM346.2 125.9h1.6v1.6h-1.6zM333.2 146.4h1.6v1.6h-1.6zM382.3 173.8h1.6v1.6h-1.6zM348.4 172.6h1.6v1.6h-1.6zM366.9 173.9h1.6v1.6h-1.6zM338.1 180.7h1.6v1.6h-1.6zM331.2 163.9h1.6v1.6h-1.6zM373 170.1h1.6v1.6h-1.6zM368.7 139.4h1.6v1.6h-1.6zM330.3 186.3h1.6v1.6h-1.6zM353.5 178.2h1.6v1.6h-1.6zM320.2 171.2h1.6v1.6h-1.6zM361.1 118.1h1.6v1.6h-1.6zM373.7 161.4h1.6v1.6h-1.6zM363.9 149.7h1.6v1.6h-1.6zM361.4 126.1h1.6v1.6h-1.6zM363.9 123.2h1.6v1.6h-1.6zM323.9 188.3h1.6v1.6h-1.6zM375 173.5h1.6v1.6h-1.6zM342.3 173.6h1.6v1.6h-1.6zM365.1 130.2h1.6v1.6h-1.6zM352.1 182.5h1.6v1.6h-1.6zM337.9 167.2h1.6v1.6h-1.6zM381.1 187.4h1.6v1.6h-1.6zM363.9 182.9h1.6v1.6h-1.6zM379.2 190.5h1.6v1.6h-1.6zM338.6 150.1h1.6v1.6h-1.6zM365.2 120.8h1.6v1.6h-1.6zM366.3 149.5h1.6v1.6h-1.6zM382.6 168h1.6v1.6h-1.6zM387.6 160.9h1.6v1.6h-1.6zM375.6 119.9h1.6v1.6h-1.6zM362.7 139.8h1.6v1.6h-1.6zM374.5 184.3h1.6v1.6h-1.6zM383.9 163.4h1.6v1.6h-1.6zM354.9 135.3h1.6v1.6h-1.6zM369.4 129.6h1.6v1.6h-1.6zM382.9 144.8h1.6v1.6h-1.6zM353.4 124.9h1.6v1.6h-1.6zM375.6 175.5h1.6v1.6h-1.6zM399.4 132.2h1.6v1.6h-1.6zM370.2 102.4h1.6v1.6h-1.6zM359.4 177.5h1.6v1.6h-1.6zM372.6 148.8h1.6v1.6h-1.6zM335.1 152.3h1.6v1.6h-1.6zM347.8 124.6h1.6v1.6h-1.6zM342.8 166.6h1.6v1.6h-1.6zM363.6 168.8h1.6v1.6h-1.6zM326.4 176.3h1.6v1.6h-1.6zM384.3 154.5h1.6v1.6h-1.6zM359.8 174.5h1.6v1.6h-1.6zM385.5 118.4h1.6v1.6h-1.6zM335.3 175.6h1.6v1.6h-1.6zM348.4 171.4h1.6v1.6h-1.6zM357 195.5h1.6v1.6h-1.6zM351.2 174.7h1.6v1.6h-1.6zM365.9 178.6h1.6v1.6h-1.6zM329.5 163.5h1.6v1.6h-1.6zM330.3 137h1.6v1.6h-1.6zM319.3 169.2h1.6v1.6h-1.6zM370.7 188.5h1.6v1.6h-1.6zM357.8 131.8h1.6v1.6h-1.6zM331.4 167.6h1.6v1.6h-1.6zM374.1 177.2h1.6v1.6h-1.6zM375.6 188.8h1.6v1.6h-1.6zM348.8 189.1h1.6v1.6h-1.6zM306.2 192.4h1.6v1.6h-1.6zM365.5 128.9h1.6v1.6h-1.6zM367.2 131.7h1.6v1.6h-1.6zM371.9 180.1h1.6v1.6h-1.6zM380.4 147.9h1.6v1.6h-1.6zM390.7 179.6h1.6v1.6h-1.6zM360.6 171.8h1.6v1.6h-1.6zM372.5 189h1.6v1.6h-1.6zM334.3 157.9h1.6v1.6h-1.6zM378.3 117.2h1.6v1.6h-1.6zM351.9 176.1h1.6v1.6h-1.6zM351.9 163.5h1.6v1.6h-1.6zM359 189.3h1.6v1.6h-1.6zM397.4 175.1h1.6v1.6h-1.6zM374.8 190h1.6v1.6h-1.6zM395.8 121.8h1.6v1.6h-1.6zM374.2 143.5h1.6v1.6h-1.6zM355.7 168.7h1.6v1.6h-1.6zM364.4 172.5h1.6v1.6h-1.6zM365.1 173.4h1.6v1.6h-1.6zM373 127.6h1.6v1.6h-1.6zM380.3 124.3h1.6v1.6h-1.6zM334.8 158.7h1.6v1.6h-1.6zM318.5 166.3h1.6v1.6h-1.6zM387.8 121h1.6v1.6h-1.6zM387.3 170h1.6v1.6h-1.6zM373 183.6h1.6v1.6h-1.6zM393.7 193h1.6v1.6h-1.6zM333.1 166.2h1.6v1.6h-1.6zM373.1 181.8h1.6v1.6h-1.6zM374.1 108.7h1.6v1.6h-1.6zM345.5 173h1.6v1.6h-1.6zM398.2 175.7h1.6v1.6h-1.6zM361.7 170.2h1.6v1.6h-1.6zM357.8 189.7h1.6v1.6h-1.6zM369 177h1.6v1.6h-1.6zM384.8 174.9h1.6v1.6h-1.6zM376.6 125.9h1.6v1.6h-1.6zM369.1 162.1h1.6v1.6h-1.6zM354.9 176h1.6v1.6h-1.6zM374.1 145.6h1.6v1.6h-1.6zM358.3 184.3h1.6v1.6h-1.6zM366.8 174.4h1.6v1.6h-1.6zM358 131.4h1.6v1.6h-1.6zM381.8 144.2h1.6v1.6h-1.6zM372.8 172.9h1.6v1.6h-1.6zM379 177.9h1.6v1.6h-1.6zM363.2 126.4h1.6v1.6h-1.6zM367.8 117.2h1.6v1.6h-1.6zM394.6 116.7h1.6v1.6h-1.6zM326.7 151.7h1.6v1.6h-1.6zM355.7 151.1h1.6v1.6h-1.6zM348.4 176.9h1.6v1.6h-1.6zM395.9 180.2h1.6v1.6h-1.6zM358 116.1h1.6v1.6h-1.6zM365.6 185.1h1.6v1.6h-1.6zM369.5 179.1h1.6v1.6h-1.6zM330.9 174h1.6v1.6h-1.6zM386.6 187.6h1.6v1.6h-1.6zM382.3 162.5h1.6v1.6h-1.6zM318.3 171.5h1.6v1.6h-1.6zM373.1 186.1h1.6v1.6h-1.6zM329.4 155.2h1.6v1.6h-1.6zM386.6 97.6h1.6v1.6h-1.6zM365.5 143.4h1.6v1.6h-1.6zM349.3 193.5h1.6v1.6h-1.6zM386.7 170.9h1.6v1.6h-1.6zM386.2 182.6h1.6v1.6h-1.6zM360.5 173.6h1.6v1.6h-1.6zM356.5 157.2h1.6v1.6h-1.6zM361.9 194.3h1.6v1.6h-1.6zM365.1 177.6h1.6v1.6h-1.6zM349.3 173.7h1.6v1.6h-1.6zM372.2 140.8h1.6v1.6h-1.6zM372.1 179.7h1.6v1.6h-1.6zM359.1 179.2h1.6v1.6h-1.6zM350.5 168h1.6v1.6h-1.6zM333 182.4h1.6v1.6h-1.6zM381.5 118.6h1.6v1.6h-1.6zM341.8 173.5h1.6v1.6h-1.6zM376.1 187.6h1.6v1.6h-1.6zM375.2 118.2h1.6v1.6h-1.6zM337.9 191h1.6v1.6h-1.6zM358.2 172.9h1.6v1.6h-1.6zM379.1 175.4h1.6v1.6h-1.6zM348.4 135.5h1.6v1.6h-1.6zM347.6 173h1.6v1.6h-1.6zM355.8 167.8h1.6v1.6h-1.6zM387 121.3h1.6v1.6h-1.6zM379.1 157.4h1.6v1.6h-1.6zM374.3 163.7h1.6v1.6h-1.6zM361.7 172h1.6v1.6h-1.6zM372.9 181.5h1.6v1.6h-1.6zM351.1 123.9h1.6v1.6h-1.6zM350.4 162h1.6v1.6h-1.6zM415.6 158.4h1.6v1.6h-1.6zM354.8 129.6h1.6v1.6h-1.6zM327.6 172h1.6v1.6h-1.6zM352.6 166.5h1.6v1.6h-1.6zM363.5 196.8h1.6v1.6h-1.6zM357.4 101.6h1.6v1.6h-1.6zM359.4 165h1.6v1.6h-1.6zM365.3 116.2h1.6v1.6h-1.6zM371.7 179.7h1.6v1.6h-1.6zM347.9 149.4h1.6v1.6h-1.6zM323.6 165.4h1.6v1.6h-1.6zM359.1 158.8h1.6v1.6h-1.6zM365.4 189.3h1.6v1.6h-1.6zM388.6 163.2h1.6v1.6h-1.6zM359.7 178.4h1.6v1.6h-1.6zM367 169.8h1.6v1.6h-1.6zM391.6 92.9h1.6v1.6h-1.6zM364.4 146.8h1.6v1.6h-1.6zM354.3 188.1h1.6v1.6h-1.6zM369.1 134.6h1.6v1.6h-1.6zM346.8 173.6h1.6v1.6h-1.6zM380.4 131.4h1.6v1.6h-1.6zM337.4 143.3h1.6v1.6h-1.6zM345.2 164.5h1.6v1.6h-1.6zM378 182.3h1.6v1.6h-1.6zM356 106.5h1.6v1.6h-1.6zM365.1 188.3h1.6v1.6h-1.6zM365.8 169.8h1.6v1.6h-1.6zM381.3 111.1h1.6v1.6h-1.6zM384.4 190.2h1.6v1.6h-1.6zM330.9 181.6h1.6v1.6h-1.6zM334.7 165.8h1.6v1.6h-1.6zM361.7 180.7h1.6v1.6h-1.6zM365.9 136h1.6v1.6h-1.6zM328.4 162.2h1.6v1.6h-1.6zM379.9 180h1.6v1.6h-1.6zM380.1 171.9h1.6v1.6h-1.6zM384.7 171.8h1.6v1.6h-1.6zM358.8 174.5h1.6v1.6h-1.6zM386.7 122.4h1.6v1.6h-1.6zM344.9 162.1h1.6v1.6h-1.6zM370.9 184h1.6v1.6h-1.6zM329.4 185.6h1.6v1.6h-1.6zM363.4 124h1.6v1.6h-1.6zM350.7 130.3h1.6v1.6h-1.6zM377 152h1.6v1.6h-1.6zM369.3 121.4h1.6v1.6h-1.6zM409.8 160.2h1.6v1.6h-1.6zM367.9 126h1.6v1.6h-1.6zM373.9 114.9h1.6v1.6h-1.6zM380.4 161.8h1.6v1.6h-1.6zM369.8 98.7h1.6v1.6h-1.6zM373.8 172.3h1.6v1.6h-1.6zM376.8 183.9h1.6v1.6h-1.6zM358.7 183.9h1.6v1.6h-1.6zM388.5 182.8h1.6v1.6h-1.6zM379.1 175.5h1.6v1.6h-1.6zM375 176.5h1.6v1.6h-1.6zM347.5 151.4h1.6v1.6h-1.6zM369.1 180.9h1.6v1.6h-1.6zM389.6 165.5h1.6v1.6h-1.6zM394.6 95.9h1.6v1.6h-1.6zM337.8 171.7h1.6v1.6h-1.6zM342.3 140.3h1.6v1.6h-1.6zM356.4 174.8h1.6v1.6h-1.6zM349.4 168.7h1.6v1.6h-1.6zM379.6 194.6h1.6v1.6h-1.6zM355.7 177.1h1.6v1.6h-1.6zM376.9 165h1.6v1.6h-1.6zM318.1 151h1.6v1.6h-1.6zM384.5 178.8h1.6v1.6h-1.6zM349.4 158.7h1.6v1.6h-1.6zM362.5 109.7h1.6v1.6h-1.6zM325.1 163.5h1.6v1.6h-1.6zM358.7 145.1h1.6v1.6h-1.6zM374.6 150.7h1.6v1.6h-1.6zM353.6 164.5h1.6v1.6h-1.6zM348.6 120.5h1.6v1.6h-1.6zM371 137.6h1.6v1.6h-1.6zM380.7 132.9h1.6v1.6h-1.6zM365.2 182h1.6v1.6h-1.6zM356.2 165.9h1.6v1.6h-1.6zM364.8 119.4h1.6v1.6h-1.6zM387.8 127h1.6v1.6h-1.6zM370.5 194.5h1.6v1.6h-1.6zM356 166.1h1.6v1.6h-1.6zM384.7 144h1.6v1.6h-1.6zM366.6 180.9h1.6v1.6h-1.6zM335.4 187.3h1.6v1.6h-1.6zM381.7 164.1h1.6v1.6h-1.6zM362.1 123.2h1.6v1.6h-1.6zM384.3 117.1h1.6v1.6h-1.6zM374.6 114.7h1.6v1.6h-1.6zM375.2 141.4h1.6v1.6h-1.6zM352.9 149.2h1.6v1.6h-1.6zM352.7 140h1.6v1.6h-1.6zM368 161.1h1.6v1.6h-1.6zM332.4 198.5h1.6v1.6h-1.6zM356.2 148.9h1.6v1.6h-1.6zM375.6 126h1.6v1.6h-1.6zM386 175.4h1.6v1.6h-1.6zM377.9 134.7h1.6v1.6h-1.6zM368.3 152.6h1.6v1.6h-1.6zM381.3 178.3h1.6v1.6h-1.6zM358.4 171h1.6v1.6h-1.6zM352.2 126.7h1.6v1.6h-1.6zM368.5 179.2h1.6v1.6h-1.6zM361.3 142.9h1.6v1.6h-1.6zM321 176.9h1.6v1.6h-1.6zM408.1 103.6h1.6v1.6h-1.6zM378.2 143.3h1.6v1.6h-1.6zM342.2 175.2h1.6v1.6h-1.6zM382.4 133.9h1.6v1.6h-1.6zM387.6 175.7h1.6v1.6h-1.6zM360.5 112.6h1.6v1.6h-1.6zM313.6 154.5h1.6v1.6h-1.6zM332.8 169.7h1.6v1.6h-1.6zM373.6 182h1.6v1.6h-1.6zM376.5 156.8h1.6v1.6h-1.6zM355.5 189.2h1.6v1.6h-1.6zM348.5 140.9h1.6v1.6h-1.6zM358.6 176.9h1.6v1.6h-1.6zM370.5 116h1.6v1.6h-1.6zM372.9 177.3h1.6v1.6h-1.6zM377.7 185.1h1.6v1.6h-1.6zM332.8 157.7h1.6v1.6h-1.6zM381.7 178.6h1.6v1.6h-1.6zM363.8 178.7h1.6v1.6h-1.6zM361.6 136.9h1.6v1.6h-1.6zM365.4 181.4h1.6v1.6h-1.6zM389.1 179h1.6v1.6h-1.6zM367.2 194.7h1.6v1.6h-1.6zM363.9 115.3h1.6v1.6h-1.6zM397.1 122h1.6v1.6h-1.6zM362.9 110.6h1.6v1.6h-1.6zM369.3 171h1.6v1.6h-1.6zM352.7 152.8h1.6v1.6h-1.6zM349.3 114.6h1.6v1.6h-1.6zM366.1 192h1.6v1.6h-1.6zM365.5 185.9h1.6v1.6h-1.6zM360.8 179h1.6v1.6h-1.6zM349.1 132.5h1.6v1.6h-1.6zM369.5 124h1.6v1.6h-1.6zM359.3 181.7h1.6v1.6h-1.6zM351.8 109.8h1.6v1.6h-1.6zM348.8 165.8h1.6v1.6h-1.6zM366.7 174.7h1.6v1.6h-1.6zM356.9 172.3h1.6v1.6h-1.6zM394.6 131.4h1.6v1.6h-1.6zM351.3 167.2h1.6v1.6h-1.6zM327.1 143.7h1.6v1.6h-1.6zM380 180.7h1.6v1.6h-1.6zM384 186.6h1.6v1.6h-1.6zM340.4 169.4h1.6v1.6h-1.6zM364.7 171.7h1.6v1.6h-1.6zM359 188.7h1.6v1.6h-1.6zM337.8 160.4h1.6v1.6h-1.6zM327.4 156.2h1.6v1.6h-1.6zM327.1 174h1.6v1.6h-1.6zM375.2 97.7h1.6v1.6h-1.6zM361.8 187.8h1.6v1.6h-1.6zM373.7 173.2h1.6v1.6h-1.6zM368 148.9h1.6v1.6h-1.6zM361.6 135.9h1.6v1.6h-1.6zM334.8 113.5h1.6v1.6h-1.6zM344.2 132.5h1.6v1.6h-1.6zM425.2 130.2h1.6v1.6h-1.6zM378.7 166.8h1.6v1.6h-1.6zM394.3 168.6h1.6v1.6h-1.6zM347.6 177.4h1.6v1.6h-1.6zM359.6 174.2h1.6v1.6h-1.6zM343.4 170.3h1.6v1.6h-1.6zM383.8 192.4h1.6v1.6h-1.6zM365.5 137.1h1.6v1.6h-1.6zM340.7 201h1.6v1.6h-1.6zM333.3 191.1h1.6v1.6h-1.6zM387.9 120.5h1.6v1.6h-1.6zM343.5 152.9h1.6v1.6h-1.6zM361.2 121.9h1.6v1.6h-1.6zM372.3 161.9h1.6v1.6h-1.6zM378.2 126.5h1.6v1.6h-1.6zM368 188.7h1.6v1.6h-1.6zM356 179.7h1.6v1.6h-1.6zM352.9 180.8h1.6v1.6h-1.6zM341.2 152.6h1.6v1.6h-1.6zM372.4 192.8h1.6v1.6h-1.6zM333.4 169.7h1.6v1.6h-1.6zM383.4 119.8h1.6v1.6h-1.6zM376.4 194.7h1.6v1.6h-1.6zM378.9 197.9h1.6v1.6h-1.6zM392.3 119.9h1.6v1.6h-1.6zM368.9 119h1.6v1.6h-1.6zM341.8 167.1h1.6v1.6h-1.6zM362.7 164.3h1.6v1.6h-1.6zM355.4 173.4h1.6v1.6h-1.6zM349.6 180.7h1.6v1.6h-1.6zM360.8 127.3h1.6v1.6h-1.6zM343.4 118h1.6v1.6h-1.6zM347.5 164.1h1.6v1.6h-1.6zM337 119.4h1.6v1.6h-1.6zM368.3 152.5h1.6v1.6h-1.6zM397.1 179.7h1.6v1.6h-1.6zM353.6 174.4h1.6v1.6h-1.6zM360.9 137h1.6v1.6h-1.6zM374 180.3h1.6v1.6h-1.6zM308.4 150.7h1.6v1.6h-1.6zM333.6 174.1h1.6v1.6h-1.6zM365 157.7h1.6v1.6h-1.6zM358.7 168.8h1.6v1.6h-1.6zM323.7 155h1.6v1.6h-1.6zM364.4 183.5h1.6v1.6h-1.6zM359.2 110.9h1.6v1.6h-1.6zM367.4 160.6h1.6v1.6h-1.6zM372.1 180.7h1.6v1.6h-1.6zM373.4 182.3h1.6v1.6h-1.6zM366.6 160.9h1.6v1.6h-1.6zM367.3 116.7h1.6v1.6h-1.6zM374 130.8h1.6v1.6h-1.6zM362.6 176.5h1.6v1.6h-1.6zM369.7 135h1.6v1.6h-1.6zM417.7 153.6h1.6v1.6h-1.6zM347.5 180.6h1.6v1.6h-1.6zM384 104.9h1.6v1.6h-1.6zM369.4 123.3h1.6v1.6h-1.6zM374.8 187.1h1.6v1.6h-1.6zM362.6 190.2h1.6v1.6h-1.6zM359.1 85.8h1.6v1.6h-1.6zM359.3 183.4h1.6v1.6h-1.6zM339.9 164.2h1.6v1.6h-1.6zM375.1 177.4h1.6v1.6h-1.6zM359.6 147.9h1.6v1.6h-1.6zM380.4 173h1.6v1.6h-1.6zM358 187.9h1.6v1.6h-1.6zM366 142.1h1.6v1.6h-1.6zM362.2 169.2h1.6v1.6h-1.6zM331.7 143.5h1.6v1.6h-1.6zM372 180.1h1.6v1.6h-1.6zM330.1 140.3h1.6v1.6h-1.6zM368.5 168.7h1.6v1.6h-1.6zM350.1 177.3h1.6v1.6h-1.6zM357.1 167.8h1.6v1.6h-1.6zM391.1 120.5h1.6v1.6h-1.6zM355.8 177.3h1.6v1.6h-1.6zM380.3 118.3h1.6v1.6h-1.6zM371.8 126.7h1.6v1.6h-1.6zM364 197h1.6v1.6h-1.6zM378.2 137.5h1.6v1.6h-1.6zM388.8 170.1h1.6v1.6h-1.6zM375.6 179.1h1.6v1.6h-1.6zM375.5 115.9h1.6v1.6h-1.6zM365.6 173.9h1.6v1.6h-1.6zM349.4 188.3h1.6v1.6h-1.6zM392.2 178.3h1.6v1.6h-1.6zM322.8 142.4h1.6v1.6h-1.6zM361.9 177.8h1.6v1.6h-1.6zM379.8 179.7h1.6v1.6h-1.6zM363.2 182.3h1.6v1.6h-1.6zM346.2 198.6h1.6v1.6h-1.6zM331.8 162h1.6v1.6h-1.6zM375 154.4h1.6v1.6h-1.6zM381.6 150.8h1.6v1.6h-1.6zM383.5 125.3h1.6v1.6h-1.6zM361.3 125.1h1.6v1.6h-1.6zM359.5 113.9h1.6v1.6h-1.6zM367.4 192.5h1.6v1.6h-1.6zM324.7 165.2h1.6v1.6h-1.6zM371.9 163.1h1.6v1.6h-1.6zM388.4 143.3h1.6v1.6h-1.6zM369 200.1h1.6v1.6h-1.6zM376.3 174.4h1.6v1.6h-1.6zM360.8 173.6h1.6v1.6h-1.6zM331.9 170.5h1.6v1.6h-1.6zM369.2 179.2h1.6v1.6h-1.6zM379.1 175.7h1.6v1.6h-1.6zM376.8 170.5h1.6v1.6h-1.6zM366.9 181.8h1.6v1.6h-1.6zM366.6 187.9h1.6v1.6h-1.6zM395.5 165.8h1.6v1.6h-1.6zM346.5 159.3h1.6v1.6h-1.6zM378.6 122.2h1.6v1.6h-1.6zM360.6 124.9h1.6v1.6h-1.6zM367.2 164.9h1.6v1.6h-1.6zM377.8 166.2h1.6v1.6h-1.6zM366.9 124.4h1.6v1.6h-1.6zM376.4 157.9h1.6v1.6h-1.6zM323.1 184.7h1.6v1.6h-1.6zM362 180.7h1.6v1.6h-1.6zM364.2 157h1.6v1.6h-1.6zM359.7 171h1.6v1.6h-1.6zM375.4 131.1h1.6v1.6h-1.6zM362.4 179.2h1.6v1.6h-1.6zM351.5 128.9h1.6v1.6h-1.6zM324.2 163.3h1.6v1.6h-1.6zM370.9 125.8h1.6v1.6h-1.6zM382.3 133.8h1.6v1.6h-1.6zM385.3 176.1h1.6v1.6h-1.6zM357.7 164.2h1.6v1.6h-1.6zM374.7 180.6h1.6v1.6h-1.6zM355.8 169.7h1.6v1.6h-1.6zM391.2 125.4h1.6v1.6h-1.6zM351.3 119.7h1.6v1.6h-1.6zM370.5 184.5h1.6v1.6h-1.6zM357.9 103.2h1.6v1.6h-1.6zM372.5 169.7h1.6v1.6h-1.6zM355.2 116h1.6v1.6h-1.6zM376.2 98.4h1.6v1.6h-1.6zM381.3 128.3h1.6v1.6h-1.6zM367.1 178.6h1.6v1.6h-1.6zM352.2 168.3h1.6v1.6h-1.6zM322.4 157.4h1.6v1.6h-1.6zM382.6 180h1.6v1.6h-1.6zM341.5 153.4h1.6v1.6h-1.6zM344.8 187.5h1.6v1.6h-1.6zM384.1 121.9h1.6v1.6h-1.6zM345.3 166.6h1.6v1.6h-1.6zM378.3 162.8h1.6v1.6h-1.6zM343.9 178h1.6v1.6h-1.6zM388.9 189.2h1.6v1.6h-1.6zM352.3 166.4h1.6v1.6h-1.6zM348.5 156.7h1.6v1.6h-1.6zM373.7 181.7h1.6v1.6h-1.6zM349.9 163.6h1.6v1.6h-1.6zM369.9 163.3h1.6v1.6h-1.6zM359.2 177.2h1.6v1.6h-1.6zM384.9 171.7h1.6v1.6h-1.6zM366.5 174.8h1.6v1.6h-1.6zM358 174.3h1.6v1.6h-1.6zM374.2 187.4h1.6v1.6h-1.6zM364.5 126.9h1.6v1.6h-1.6zM370.2 183.6h1.6v1.6h-1.6zM356.2 192.9h1.6v1.6h-1.6zM365.7 186.5h1.6v1.6h-1.6zM353.1 179.2h1.6v1.6h-1.6zM353.4 184.9h1.6v1.6h-1.6zM342.4 121.9h1.6v1.6h-1.6zM354.2 172.4h1.6v1.6h-1.6zM357.2 120.4h1.6v1.6h-1.6zM376.8 174.2h1.6v1.6h-1.6zM373 146.1h1.6v1.6h-1.6zM360.8 199.4h1.6v1.6h-1.6zM342 114.5h1.6v1.6h-1.6zM360.5 137h1.6v1.6h-1.6zM353.3 134.1h1.6v1.6h-1.6zM387.3 166.7h1.6v1.6h-1.6zM368.8 100.4h1.6v1.6h-1.6zM375.8 111.8h1.6v1.6h-1.6zM368.8 164.1h1.6v1.6h-1.6zM354.7 180.3h1.6v1.6h-1.6zM352.5 160.7h1.6v1.6h-1.6zM382.2 157.8h1.6v1.6h-1.6zM375.8 99.5h1.6v1.6h-1.6zM353.7 147.7h1.6v1.6h-1.6zM369.5 121.3h1.6v1.6h-1.6zM378.6 123.8h1.6v1.6h-1.6zM373 175.6h1.6v1.6h-1.6zM363.5 112h1.6v1.6h-1.6zM335.8 150.2h1.6v1.6h-1.6zM370.2 109.1h1.6v1.6h-1.6zM378.8 92.8h1.6v1.6h-1.6zM380.3 177.2h1.6v1.6h-1.6zM385.8 145.7h1.6v1.6h-1.6zM371.6 135h1.6v1.6h-1.6zM354 127.3h1.6v1.6h-1.6zM362.8 131.4h1.6v1.6h-1.6zM365.5 128h1.6v1.6h-1.6zM327.5 161.3h1.6v1.6h-1.6zM369.6 110.3h1.6v1.6h-1.6zM377.8 186.2h1.6v1.6h-1.6zM365.8 161.2h1.6v1.6h-1.6zM355.6 169.3h1.6v1.6h-1.6zM380.8 121.7h1.6v1.6h-1.6zM345.6 147.7h1.6v1.6h-1.6zM351.8 163.1h1.6v1.6h-1.6zM354.5 150.9h1.6v1.6h-1.6zM382.6 168.4h1.6v1.6h-1.6zM347.7 103.3h1.6v1.6h-1.6zM378.7 170.6h1.6v1.6h-1.6zM355.8 118.8h1.6v1.6h-1.6zM370.2 143.7h1.6v1.6h-1.6zM375.3 183.6h1.6v1.6h-1.6zM374.7 130.2h1.6v1.6h-1.6zM383.8 173.3h1.6v1.6h-1.6zM385.1 132.6h1.6v1.6h-1.6zM365.5 180.5h1.6v1.6h-1.6zM393.5 175.1h1.6v1.6h-1.6zM353.3 159.8h1.6v1.6h-1.6zM356.1 140h1.6v1.6h-1.6zM368.7 170.5h1.6v1.6h-1.6zM359 172.3h1.6v1.6h-1.6zM350.1 154.6h1.6v1.6h-1.6zM374 131.2h1.6v1.6h-1.6zM334.3 148.2h1.6v1.6h-1.6zM380.9 179.3h1.6v1.6h-1.6zM329.7 183.7h1.6v1.6h-1.6zM355.4 185.1h1.6v1.6h-1.6zM383.4 123h1.6v1.6h-1.6zM361.8 144.5h1.6v1.6h-1.6zM380.7 123.8h1.6v1.6h-1.6zM371.5 107.9h1.6v1.6h-1.6zM394.5 171.3h1.6v1.6h-1.6zM379.3 110.2h1.6v1.6h-1.6zM317.1 144.3h1.6v1.6h-1.6zM367.8 108.7h1.6v1.6h-1.6zM346.9 125.7h1.6v1.6h-1.6zM358.5 184.2h1.6v1.6h-1.6zM319 190.1h1.6v1.6h-1.6zM356.4 123.4h1.6v1.6h-1.6zM358.9 183.4h1.6v1.6h-1.6zM366.9 142.5h1.6v1.6h-1.6zM366.8 148.8h1.6v1.6h-1.6zM332.3 133.1h1.6v1.6h-1.6zM392 113.4h1.6v1.6h-1.6zM319.3 186.3h1.6v1.6h-1.6zM331.1 171.7h1.6v1.6h-1.6zM376.5 164.7h1.6v1.6h-1.6zM329.6 179.1h1.6v1.6h-1.6zM374.9 128.6h1.6v1.6h-1.6zM375.8 151.5h1.6v1.6h-1.6zM349.1 160h1.6v1.6h-1.6zM343.3 192.5h1.6v1.6h-1.6zM364.7 121.7h1.6v1.6h-1.6zM348.4 194.3h1.6v1.6h-1.6zM325.8 171.2h1.6v1.6h-1.6zM379.2 169.6h1.6v1.6h-1.6zM353.1 175.1h1.6v1.6h-1.6zM345.7 177.8h1.6v1.6h-1.6zM388.2 169.4h1.6v1.6h-1.6zM353.2 163.8h1.6v1.6h-1.6zM385 126.9h1.6v1.6h-1.6zM321.3 161.1h1.6v1.6h-1.6zM366.8 170.9h1.6v1.6h-1.6zM370.9 116.4h1.6v1.6h-1.6zM329 156.6h1.6v1.6h-1.6zM385.9 126.3h1.6v1.6h-1.6zM389.5 179.2h1.6v1.6h-1.6zM337.6 163.6h1.6v1.6h-1.6zM378.2 184.9h1.6v1.6h-1.6zM363.4 167.9h1.6v1.6h-1.6zM366.4 180.3h1.6v1.6h-1.6zM376.7 158.9h1.6v1.6h-1.6zM352 198.3h1.6v1.6h-1.6zM327.7 168.7h1.6v1.6h-1.6zM377.5 133.5h1.6v1.6h-1.6zM345.9 173h1.6v1.6h-1.6zM338.8 156.8h1.6v1.6h-1.6zM344.9 139.3h1.6v1.6h-1.6zM364.5 169.2h1.6v1.6h-1.6zM361.6 146.2h1.6v1.6h-1.6zM357.3 182.3h1.6v1.6h-1.6zM366.8 199.4h1.6v1.6h-1.6zM379.6 166.5h1.6v1.6h-1.6zM348.2 165.6h1.6v1.6h-1.6zM368.5 125.9h1.6v1.6h-1.6zM345.6 163.9h1.6v1.6h-1.6zM350.6 105.5h1.6v1.6h-1.6zM375.8 134.7h1.6v1.6h-1.6zM338.4 183.9h1.6v1.6h-1.6zM386.9 154.1h1.6v1.6h-1.6zM342.4 174.9h1.6v1.6h-1.6zM352.3 150.5h1.6v1.6h-1.6zM337.6 158h1.6v1.6h-1.6zM360 113.6h1.6v1.6h-1.6zM343.6 167.6h1.6v1.6h-1.6zM380.6 108.4h1.6v1.6h-1.6zM367 183.1h1.6v1.6h-1.6zM367.6 147.9h1.6v1.6h-1.6zM342.1 148.4h1.6v1.6h-1.6zM353.7 132.3h1.6v1.6h-1.6zM357.2 102.2h1.6v1.6h-1.6zM370.6 183.6h1.6v1.6h-1.6zM346.7 131.2h1.6v1.6h-1.6zM340.8 171.7h1.6v1.6h-1.6zM363.9 173.5h1.6v1.6h-1.6zM384.7 197.5h1.6v1.6h-1.6zM333.3 169.1h1.6v1.6h-1.6zM383.4 147.6h1.6v1.6h-1.6zM375 104.2h1.6v1.6h-1.6zM351.2 172.7h1.6v1.6h-1.6zM334.1 183.4h1.6v1.6h-1.6zM360.9 172.8h1.6v1.6h-1.6zM356.7 174.3h1.6v1.6h-1.6zM371.1 168.3h1.6v1.6h-1.6zM347.5 177.6h1.6v1.6h-1.6zM375.9 193.2h1.6v1.6h-1.6zM333.9 180.7h1.6v1.6h-1.6zM337.8 154.2h1.6v1.6h-1.6zM375.9 166.1h1.6v1.6h-1.6zM386.8 161.8h1.6v1.6h-1.6zM371.7 174h1.6v1.6h-1.6zM407 177.7h1.6v1.6h-1.6zM367.8 119.8h1.6v1.6h-1.6zM391.6 139.2h1.6v1.6h-1.6zM368.6 166.5h1.6v1.6h-1.6zM363.7 166.3h1.6v1.6h-1.6zM387.7 187.9h1.6v1.6h-1.6zM353.2 167.3h1.6v1.6h-1.6zM345.7 148.1h1.6v1.6h-1.6zM376.4 140.8h1.6v1.6h-1.6zM342.2 166.3h1.6v1.6h-1.6zM377.4 163.9h1.6v1.6h-1.6zM362.7 165.4h1.6v1.6h-1.6zM376.3 113.4h1.6v1.6h-1.6zM381.6 177.5h1.6v1.6h-1.6zM380.2 179.2h1.6v1.6h-1.6zM385.5 165.3h1.6v1.6h-1.6zM375 165.6h1.6v1.6h-1.6zM354.5 124.4h1.6v1.6h-1.6zM367.4 110.1h1.6v1.6h-1.6zM371.8 174.3h1.6v1.6h-1.6zM374.7 141h1.6v1.6h-1.6zM350.7 165.9h1.6v1.6h-1.6zM349.4 163.6h1.6v1.6h-1.6zM362.7 169.5h1.6v1.6h-1.6zM311.4 161.6h1.6v1.6h-1.6zM367.1 149.2h1.6v1.6h-1.6zM369.8 193.6h1.6v1.6h-1.6zM349.6 125.5h1.6v1.6h-1.6zM399 185.7h1.6v1.6h-1.6zM361.9 147.8h1.6v1.6h-1.6zM358.2 180.4h1.6v1.6h-1.6zM362.6 106.8h1.6v1.6h-1.6zM359.5 182.8h1.6v1.6h-1.6zM362.8 192.9h1.6v1.6h-1.6zM361.1 181.5h1.6v1.6h-1.6zM321.7 147.5h1.6v1.6h-1.6zM354 146.6h1.6v1.6h-1.6zM352.8 122.5h1.6v1.6h-1.6zM391 175h1.6v1.6h-1.6zM354.1 173.7h1.6v1.6h-1.6zM361.4 168.6h1.6v1.6h-1.6zM355.9 188.8h1.6v1.6h-1.6zM391.9 175.8h1.6v1.6h-1.6zM362.8 149.3h1.6v1.6h-1.6zM359.8 175.8h1.6v1.6h-1.6zM363.9 172.9h1.6v1.6h-1.6zM371.6 193.9h1.6v1.6h-1.6zM355.7 188.4h1.6v1.6h-1.6zM364.8 182.3h1.6v1.6h-1.6zM378.3 172.3h1.6v1.6h-1.6zM332.2 160.8h1.6v1.6h-1.6zM372.9 181.2h1.6v1.6h-1.6zM354.9 162.5h1.6v1.6h-1.6zM384.4 171h1.6v1.6h-1.6zM341.8 166.7h1.6v1.6h-1.6zM326.5 150.7h1.6v1.6h-1.6zM342.1 180.5h1.6v1.6h-1.6zM383.7 175.3h1.6v1.6h-1.6zM353.3 119.9h1.6v1.6h-1.6zM360 119.7h1.6v1.6h-1.6zM392 185.1h1.6v1.6h-1.6zM364 185.8h1.6v1.6h-1.6zM385.4 132.8h1.6v1.6h-1.6zM376.5 107h1.6v1.6h-1.6zM374.9 180.2h1.6v1.6h-1.6zM383.8 107.9h1.6v1.6h-1.6zM365.9 167.5h1.6v1.6h-1.6zM390 166.5h1.6v1.6h-1.6zM365.9 116h1.6v1.6h-1.6zM332.3 167.5h1.6v1.6h-1.6zM366.6 160.5h1.6v1.6h-1.6zM332.8 171.3h1.6v1.6h-1.6zM387.3 184.2h1.6v1.6h-1.6zM378 179h1.6v1.6h-1.6zM404.7 148.5h1.6v1.6h-1.6zM402.9 127.2h1.6v1.6h-1.6zM380.9 140.7h1.6v1.6h-1.6zM391.5 96.1h1.6v1.6h-1.6zM365 147.3h1.6v1.6h-1.6zM377.4 143.7h1.6v1.6h-1.6zM353.8 93.8h1.6v1.6h-1.6zM352.6 133.3h1.6v1.6h-1.6zM346 174.9h1.6v1.6h-1.6zM373.8 185.8h1.6v1.6h-1.6zM393.8 175.2h1.6v1.6h-1.6zM358.9 118.7h1.6v1.6h-1.6zM346.7 106.8h1.6v1.6h-1.6zM345.5 176.8h1.6v1.6h-1.6zM354.7 113.3h1.6v1.6h-1.6zM358 178.9h1.6v1.6h-1.6zM363.9 184.8h1.6v1.6h-1.6zM350.2 178.1h1.6v1.6h-1.6zM378.1 182.2h1.6v1.6h-1.6zM389.6 127.2h1.6v1.6h-1.6zM339.5 148.8h1.6v1.6h-1.6zM347.7 191.1h1.6v1.6h-1.6zM330.9 166.6h1.6v1.6h-1.6zM388 173.5h1.6v1.6h-1.6zM358.3 122.6h1.6v1.6h-1.6zM344.1 175.6h1.6v1.6h-1.6zM373.5 190h1.6v1.6h-1.6zM351 143.3h1.6v1.6h-1.6zM349 144.6h1.6v1.6h-1.6zM353.3 152.9h1.6v1.6h-1.6zM371.5 173.9h1.6v1.6h-1.6zM342.5 179.4h1.6v1.6h-1.6zM356.4 182.7h1.6v1.6h-1.6zM344.8 94.3h1.6v1.6h-1.6zM352.1 141h1.6v1.6h-1.6zM367.6 154.3h1.6v1.6h-1.6zM340 120.1h1.6v1.6h-1.6zM379.3 167.8h1.6v1.6h-1.6zM349.3 172.7h1.6v1.6h-1.6zM359.5 171.8h1.6v1.6h-1.6zM349.7 164.9h1.6v1.6h-1.6zM350.2 161.3h1.6v1.6h-1.6zM373.4 145.2h1.6v1.6h-1.6zM372.8 132.3h1.6v1.6h-1.6zM384.8 137.2h1.6v1.6h-1.6zM368.9 165.9h1.6v1.6h-1.6zM378.1 112.4h1.6v1.6h-1.6zM378.9 123.8h1.6v1.6h-1.6zM355.2 122.2h1.6v1.6h-1.6zM395.3 141.7h1.6v1.6h-1.6zM307.8 176h1.6v1.6h-1.6zM369.6 123.8h1.6v1.6h-1.6zM373.1 141.4h1.6v1.6h-1.6zM362.7 157.1h1.6v1.6h-1.6zM385.8 130.6h1.6v1.6h-1.6zM369 168.4h1.6v1.6h-1.6zM375.1 183h1.6v1.6h-1.6zM357.9 122.8h1.6v1.6h-1.6zM371.2 175.1h1.6v1.6h-1.6zM369.3 179.3h1.6v1.6h-1.6zM337.9 90.8h1.6v1.6h-1.6zM341.6 101h1.6v1.6h-1.6zM371.6 145h1.6v1.6h-1.6zM345.2 158.8h1.6v1.6h-1.6zM361.3 157.5h1.6v1.6h-1.6zM318.8 142.2h1.6v1.6h-1.6zM352.5 171.2h1.6v1.6h-1.6zM371.1 153.2h1.6v1.6h-1.6zM340.5 175h1.6v1.6h-1.6zM395.8 162.3h1.6v1.6h-1.6zM390 127.7h1.6v1.6h-1.6zM369.4 133.2h1.6v1.6h-1.6zM338.5 131.4h1.6v1.6h-1.6zM357.9 181.6h1.6v1.6h-1.6zM355.4 169.2h1.6v1.6h-1.6zM381.4 178.5h1.6v1.6h-1.6zM353.7 128.8h1.6v1.6h-1.6zM378.1 132.2h1.6v1.6h-1.6zM354 151.2h1.6v1.6h-1.6zM371.3 166h1.6v1.6h-1.6zM355.2 144.4h1.6v1.6h-1.6zM360.1 176.2h1.6v1.6h-1.6zM361.2 117.8h1.6v1.6h-1.6zM361.8 174.3h1.6v1.6h-1.6zM386.7 108.1h1.6v1.6h-1.6zM355 189.9h1.6v1.6h-1.6zM316.5 172.2h1.6v1.6h-1.6zM363.7 197.2h1.6v1.6h-1.6zM364.1 148.9h1.6v1.6h-1.6zM377.9 193.9h1.6v1.6h-1.6zM362.5 170h1.6v1.6h-1.6zM380.3 104.3h1.6v1.6h-1.6zM351.3 176.8h1.6v1.6h-1.6zM381.7 143.5h1.6v1.6h-1.6zM357.9 162.2h1.6v1.6h-1.6zM391.4 124.3h1.6v1.6h-1.6zM343.5 180.7h1.6v1.6h-1.6zM365.4 170.1h1.6v1.6h-1.6zM379.5 181.3h1.6v1.6h-1.6zM372.1 105.5h1.6v1.6h-1.6zM336.5 173.1h1.6v1.6h-1.6zM318.7 147.9h1.6v1.6h-1.6zM401.3 179.1h1.6v1.6h-1.6zM356.6 183.6h1.6v1.6h-1.6zM384.9 158.8h1.6v1.6h-1.6zM372.6 186.8h1.6v1.6h-1.6zM392.7 181.8h1.6v1.6h-1.6zM343.2 151.1h1.6v1.6h-1.6zM342.4 159.1h1.6v1.6h-1.6zM377 196.1h1.6v1.6h-1.6zM369.9 129.1h1.6v1.6h-1.6zM364.6 139.3h1.6v1.6h-1.6zM350.8 185h1.6v1.6h-1.6zM369.4 117.5h1.6v1.6h-1.6zM353.7 143.2h1.6v1.6h-1.6zM371.6 179.1h1.6v1.6h-1.6zM372.5 146.8h1.6v1.6h-1.6zM377.7 168.9h1.6v1.6h-1.6zM369.6 118.6h1.6v1.6h-1.6zM357.5 175h1.6v1.6h-1.6zM325.4 174.5h1.6v1.6h-1.6zM351.9 116.4h1.6v1.6h-1.6zM353.7 172.5h1.6v1.6h-1.6zM382.2 173.6h1.6v1.6h-1.6zM378.6 134.4h1.6v1.6h-1.6zM362.5 110.9h1.6v1.6h-1.6zM356.8 123.2h1.6v1.6h-1.6zM328.2 146.7h1.6v1.6h-1.6zM365.1 129.1h1.6v1.6h-1.6zM370 165.8h1.6v1.6h-1.6zM372.5 174.8h1.6v1.6h-1.6zM352.8 189.2h1.6v1.6h-1.6zM377.7 159.6h1.6v1.6h-1.6zM370.9 187.1h1.6v1.6h-1.6zM345.1 192.6h1.6v1.6h-1.6zM339.7 161.8h1.6v1.6h-1.6zM376.5 150h1.6v1.6h-1.6zM375.5 104.2h1.6v1.6h-1.6zM361.2 145.6h1.6v1.6h-1.6zM399.4 136h1.6v1.6h-1.6zM378.2 184.5h1.6v1.6h-1.6zM384.2 194.3h1.6v1.6h-1.6zM382.8 187.2h1.6v1.6h-1.6zM338 182h1.6v1.6h-1.6zM369 176.4h1.6v1.6h-1.6zM361.4 126.9h1.6v1.6h-1.6zM351.7 180.4h1.6v1.6h-1.6zM378.2 145h1.6v1.6h-1.6zM353.3 178.5h1.6v1.6h-1.6zM371.4 184h1.6v1.6h-1.6zM362.4 184.7h1.6v1.6h-1.6zM366 103.7h1.6v1.6h-1.6zM359.4 136.3h1.6v1.6h-1.6zM341.3 164.7h1.6v1.6h-1.6zM332.4 176.3h1.6v1.6h-1.6zM411.6 130.5h1.6v1.6h-1.6zM355.6 187.5h1.6v1.6h-1.6zM359.6 152.3h1.6v1.6h-1.6zM390.6 114.4h1.6v1.6h-1.6zM365.4 167.5h1.6v1.6h-1.6zM390.7 137.9h1.6v1.6h-1.6zM371.4 121.1h1.6v1.6h-1.6zM359.4 115h1.6v1.6h-1.6zM358.1 177.7h1.6v1.6h-1.6zM365.5 136.9h1.6v1.6h-1.6zM371.9 142.8h1.6v1.6h-1.6zM375.5 175.8h1.6v1.6h-1.6zM375.6 117.9h1.6v1.6h-1.6zM376.5 174h1.6v1.6h-1.6zM347.5 132.9h1.6v1.6h-1.6zM370.8 179.2h1.6v1.6h-1.6zM327.2 151.3h1.6v1.6h-1.6zM335.4 161.4h1.6v1.6h-1.6zM371.8 185.3h1.6v1.6h-1.6zM394.9 109.1h1.6v1.6h-1.6zM375 120.1h1.6v1.6h-1.6zM383.1 128.6h1.6v1.6h-1.6zM359.8 182.7h1.6v1.6h-1.6zM391 121.4h1.6v1.6h-1.6zM353.5 183.6h1.6v1.6h-1.6zM355.1 194.6h1.6v1.6h-1.6zM350.8 152.3h1.6v1.6h-1.6zM372.6 163.7h1.6v1.6h-1.6zM390 184.3h1.6v1.6h-1.6zM358.1 121.4h1.6v1.6h-1.6zM363.8 122h1.6v1.6h-1.6zM364.2 162.5h1.6v1.6h-1.6zM322.2 150h1.6v1.6h-1.6zM352.8 179.7h1.6v1.6h-1.6zM389.5 132.1h1.6v1.6h-1.6zM338.9 136h1.6v1.6h-1.6zM356.4 114.5h1.6v1.6h-1.6zM362.2 187.3h1.6v1.6h-1.6zM349.5 176.6h1.6v1.6h-1.6zM369.4 142.8h1.6v1.6h-1.6zM359 170.7h1.6v1.6h-1.6zM351.7 125.4h1.6v1.6h-1.6zM371.1 174.9h1.6v1.6h-1.6zM358.4 190.1h1.6v1.6h-1.6zM377.5 131.7h1.6v1.6h-1.6zM318.4 166.7h1.6v1.6h-1.6zM349.7 106.9h1.6v1.6h-1.6zM346.8 174.3h1.6v1.6h-1.6zM403.1 107h1.6v1.6h-1.6zM388.1 136.9h1.6v1.6h-1.6zM382.5 180.4h1.6v1.6h-1.6zM331.1 172.7h1.6v1.6h-1.6zM340.6 176h1.6v1.6h-1.6zM362.4 161.7h1.6v1.6h-1.6zM371 109.2h1.6v1.6h-1.6zM349.4 158h1.6v1.6h-1.6zM390.9 105.8h1.6v1.6h-1.6zM324.3 184h1.6v1.6h-1.6zM366.1 170.2h1.6v1.6h-1.6zM365.4 148.3h1.6v1.6h-1.6zM359.2 190h1.6v1.6h-1.6zM345.8 153.2h1.6v1.6h-1.6zM370.2 119.9h1.6v1.6h-1.6zM371.9 118.8h1.6v1.6h-1.6zM378.9 179.8h1.6v1.6h-1.6zM368.4 103h1.6v1.6h-1.6zM344.7 167.7h1.6v1.6h-1.6zM374 173h1.6v1.6h-1.6zM347 162.5h1.6v1.6h-1.6zM368.4 174h1.6v1.6h-1.6zM359.1 105h1.6v1.6h-1.6zM355.8 165.3h1.6v1.6h-1.6zM377.9 172.7h1.6v1.6h-1.6zM392.2 165.3h1.6v1.6h-1.6zM378.8 107.2h1.6v1.6h-1.6zM380.1 180.2h1.6v1.6h-1.6zM380.4 128.8h1.6v1.6h-1.6zM373.7 135.5h1.6v1.6h-1.6zM368.7 186.2h1.6v1.6h-1.6zM378.7 168.1h1.6v1.6h-1.6zM369.7 184.7h1.6v1.6h-1.6zM366.8 177.1h1.6v1.6h-1.6zM366 101h1.6v1.6h-1.6zM332.5 132.7h1.6v1.6h-1.6zM373.7 184.8h1.6v1.6h-1.6zM361.9 124.7h1.6v1.6h-1.6zM368.1 177.9h1.6v1.6h-1.6zM350.1 146.2h1.6v1.6h-1.6zM368.8 160.7h1.6v1.6h-1.6zM333.4 171.2h1.6v1.6h-1.6zM360 177.1h1.6v1.6h-1.6zM354.3 193.6h1.6v1.6h-1.6zM373.3 115.7h1.6v1.6h-1.6zM349.1 145.1h1.6v1.6h-1.6zM364.5 178.6h1.6v1.6h-1.6zM378.7 197.9h1.6v1.6h-1.6zM365 104.9h1.6v1.6h-1.6zM359.5 179h1.6v1.6h-1.6zM358.4 187.5h1.6v1.6h-1.6zM371.6 182.4h1.6v1.6h-1.6zM361 192.9h1.6v1.6h-1.6zM356.4 110.6h1.6v1.6h-1.6zM376.5 155.5h1.6v1.6h-1.6zM369.2 175.2h1.6v1.6h-1.6zM364 148.8h1.6v1.6h-1.6zM363.7 187.9h1.6v1.6h-1.6zM357.1 141.8h1.6v1.6h-1.6zM361.2 178.7h1.6v1.6h-1.6zM358.3 137.8h1.6v1.6h-1.6zM374.3 171.3h1.6v1.6h-1.6zM373 142.6h1.6v1.6h-1.6zM342.1 172.4h1.6v1.6h-1.6zM368 179.6h1.6v1.6h-1.6zM318.8 175.8h1.6v1.6h-1.6zM350.2 175.9h1.6v1.6h-1.6zM374.3 108.6h1.6v1.6h-1.6zM386.6 135.1h1.6v1.6h-1.6zM347.7 119.2h1.6v1.6h-1.6zM354.7 120.9h1.6v1.6h-1.6zM349.8 133.5h1.6v1.6h-1.6zM359.9 173.9h1.6v1.6h-1.6zM346.9 144.3h1.6v1.6h-1.6zM391.1 189.6h1.6v1.6h-1.6zM358.6 171.7h1.6v1.6h-1.6zM379 186.4h1.6v1.6h-1.6zM353.2 106.4h1.6v1.6h-1.6zM369.8 181.2h1.6v1.6h-1.6zM344.1 179.9h1.6v1.6h-1.6zM360.9 107.3h1.6v1.6h-1.6zM364.5 124.8h1.6v1.6h-1.6zM324.4 168h1.6v1.6h-1.6zM393.9 103.3h1.6v1.6h-1.6zM341.4 163h1.6v1.6h-1.6zM376.2 147.2h1.6v1.6h-1.6zM386.6 166.5h1.6v1.6h-1.6zM357.9 165.9h1.6v1.6h-1.6zM376.3 187.4h1.6v1.6h-1.6zM353.6 129.8h1.6v1.6h-1.6zM364.5 137.2h1.6v1.6h-1.6zM387.6 178.8h1.6v1.6h-1.6zM368 171.9h1.6v1.6h-1.6zM337.1 172.9h1.6v1.6h-1.6zM379.7 136.9h1.6v1.6h-1.6zM380.9 168.7h1.6v1.6h-1.6zM354.5 142.8h1.6v1.6h-1.6zM367.7 160.1h1.6v1.6h-1.6zM337 157.4h1.6v1.6h-1.6zM388.2 172.6h1.6v1.6h-1.6zM365 170.4h1.6v1.6h-1.6zM317.3 93.9h1.6v1.6h-1.6zM367.5 151.3h1.6v1.6h-1.6zM364.4 185.5h1.6v1.6h-1.6zM357.1 175.1h1.6v1.6h-1.6zM386.8 165.6h1.6v1.6h-1.6zM376 127.4h1.6v1.6h-1.6zM344.2 148h1.6v1.6h-1.6zM335.1 162.4h1.6v1.6h-1.6zM371.2 184.6h1.6v1.6h-1.6zM349.5 168h1.6v1.6h-1.6zM358.7 172.5h1.6v1.6h-1.6zM363.5 123.6h1.6v1.6h-1.6zM357.4 176h1.6v1.6h-1.6zM357.5 166.9h1.6v1.6h-1.6zM386.6 189.8h1.6v1.6h-1.6zM353.1 144.7h1.6v1.6h-1.6zM362.4 177.6h1.6v1.6h-1.6zM378.8 188.7h1.6v1.6h-1.6zM328.9 182.3h1.6v1.6h-1.6zM326.7 165.8h1.6v1.6h-1.6zM366.1 175.4h1.6v1.6h-1.6zM374.8 159.1h1.6v1.6h-1.6zM371.8 128.3h1.6v1.6h-1.6zM390 178.3h1.6v1.6h-1.6zM385.3 174.8h1.6v1.6h-1.6zM373.6 127.8h1.6v1.6h-1.6zM359.1 160.8h1.6v1.6h-1.6zM358.4 134.5h1.6v1.6h-1.6zM321.6 176.5h1.6v1.6h-1.6zM382.6 188.5h1.6v1.6h-1.6zM350.3 143.1h1.6v1.6h-1.6zM351.2 188.2h1.6v1.6h-1.6zM390.1 161.4h1.6v1.6h-1.6zM364.6 192.1h1.6v1.6h-1.6zM351.9 183.6h1.6v1.6h-1.6zM340.2 185.1h1.6v1.6h-1.6zM369.5 143.3h1.6v1.6h-1.6zM374.2 185.1h1.6v1.6h-1.6zM371.7 134.4h1.6v1.6h-1.6zM376.1 120h1.6v1.6h-1.6zM329.8 137.5h1.6v1.6h-1.6zM365.1 169.4h1.6v1.6h-1.6zM367.7 176h1.6v1.6h-1.6zM375.3 182.6h1.6v1.6h-1.6zM327.5 163.5h1.6v1.6h-1.6zM353.8 179.5h1.6v1.6h-1.6zM371.2 122.9h1.6v1.6h-1.6zM370.9 180.4h1.6v1.6h-1.6zM391.8 175.6h1.6v1.6h-1.6zM348.3 166.2h1.6v1.6h-1.6zM370.7 170.7h1.6v1.6h-1.6zM350.9 146.4h1.6v1.6h-1.6zM367.4 174.3h1.6v1.6h-1.6zM374.6 171.7h1.6v1.6h-1.6zM340.6 119.9h1.6v1.6h-1.6zM379.1 178.8h1.6v1.6h-1.6zM378.4 161.7h1.6v1.6h-1.6zM378.7 119.1h1.6v1.6h-1.6zM345.2 145.2h1.6v1.6h-1.6zM331.3 139h1.6v1.6h-1.6zM360.4 190.2h1.6v1.6h-1.6zM380.9 110.2h1.6v1.6h-1.6zM373.3 119.6h1.6v1.6h-1.6zM363.9 119.1h1.6v1.6h-1.6zM360.9 129.7h1.6v1.6h-1.6zM364.6 175.9h1.6v1.6h-1.6zM381.5 169.5h1.6v1.6h-1.6zM359.9 185.6h1.6v1.6h-1.6zM380.4 165.7h1.6v1.6h-1.6zM374.4 160.8h1.6v1.6h-1.6zM351.3 154.8h1.6v1.6h-1.6zM374.4 158.2h1.6v1.6h-1.6zM348 188.8h1.6v1.6h-1.6zM373.7 106.7h1.6v1.6h-1.6zM386.4 180.7h1.6v1.6h-1.6zM332.7 157.2h1.6v1.6h-1.6zM370.1 181.8h1.6v1.6h-1.6zM368.4 171.4h1.6v1.6h-1.6zM363.2 156.6h1.6v1.6h-1.6zM375.7 151.9h1.6v1.6h-1.6zM353.9 138.9h1.6v1.6h-1.6zM374.4 134.2h1.6v1.6h-1.6zM388.2 176.6h1.6v1.6h-1.6zM379.7 153.5h1.6v1.6h-1.6zM346.9 139.8h1.6v1.6h-1.6zM357.1 177h1.6v1.6h-1.6zM372.4 113.8h1.6v1.6h-1.6zM345.9 169.8h1.6v1.6h-1.6zM379 169.9h1.6v1.6h-1.6zM345.3 174.7h1.6v1.6h-1.6zM350.7 170.7h1.6v1.6h-1.6zM348.7 187.4h1.6v1.6h-1.6zM373.5 185.8h1.6v1.6h-1.6zM376.2 150.7h1.6v1.6h-1.6zM431.6 148.6h1.6v1.6h-1.6zM384.7 180.1h1.6v1.6h-1.6zM357.5 153.2h1.6v1.6h-1.6zM372 122.2h1.6v1.6h-1.6zM386.7 178.8h1.6v1.6h-1.6zM381.8 193.9h1.6v1.6h-1.6zM391 175.8h1.6v1.6h-1.6zM327.4 152.9h1.6v1.6h-1.6zM334.7 157h1.6v1.6h-1.6zM364.6 182.1h1.6v1.6h-1.6zM366 181.9h1.6v1.6h-1.6zM367.7 181.6h1.6v1.6h-1.6zM376.5 105.8h1.6v1.6h-1.6zM385.6 178.4h1.6v1.6h-1.6zM354.6 135.7h1.6v1.6h-1.6zM375.6 130.2h1.6v1.6h-1.6zM343.6 199.5h1.6v1.6h-1.6zM378.4 185.9h1.6v1.6h-1.6zM364.4 132.7h1.6v1.6h-1.6zM339.7 179.2h1.6v1.6h-1.6zM376.2 187.8h1.6v1.6h-1.6zM325.1 156.1h1.6v1.6h-1.6zM369.4 181.4h1.6v1.6h-1.6zM369.8 134.4h1.6v1.6h-1.6zM361.5 183.6h1.6v1.6h-1.6zM366.2 130.5h1.6v1.6h-1.6zM376.2 131.2h1.6v1.6h-1.6zM354.6 187.3h1.6v1.6h-1.6zM343.5 195h1.6v1.6h-1.6zM367.9 121.7h1.6v1.6h-1.6zM332.6 176.1h1.6v1.6h-1.6zM388.1 168.2h1.6v1.6h-1.6zM326.4 151.1h1.6v1.6h-1.6zM329.8 162.7h1.6v1.6h-1.6zM363.5 183.3h1.6v1.6h-1.6zM355.2 122.5h1.6v1.6h-1.6zM377 172.1h1.6v1.6h-1.6zM345.2 134.4h1.6v1.6h-1.6zM333.3 169.3h1.6v1.6h-1.6zM360.2 117.6h1.6v1.6h-1.6zM355.4 172.1h1.6v1.6h-1.6zM369 193.6h1.6v1.6h-1.6zM359.9 124.2h1.6v1.6h-1.6zM355.9 154.6h1.6v1.6h-1.6zM394.4 169.6h1.6v1.6h-1.6zM363.1 106.8h1.6v1.6h-1.6zM366.7 187.2h1.6v1.6h-1.6zM362.7 130h1.6v1.6h-1.6zM360.1 111.8h1.6v1.6h-1.6zM367.3 183.3h1.6v1.6h-1.6zM329.3 143.6h1.6v1.6h-1.6zM371.4 174.2h1.6v1.6h-1.6zM367.7 188.9h1.6v1.6h-1.6zM401.9 166.1h1.6v1.6h-1.6zM347.6 179.4h1.6v1.6h-1.6zM368.4 173.2h1.6v1.6h-1.6zM358.7 180.3h1.6v1.6h-1.6zM341.4 165.4h1.6v1.6h-1.6zM355.9 126.4h1.6v1.6h-1.6zM343.9 151.1h1.6v1.6h-1.6zM382 161.4h1.6v1.6h-1.6zM335.6 155.3h1.6v1.6h-1.6zM365 117.1h1.6v1.6h-1.6zM374.2 177h1.6v1.6h-1.6zM371.3 181.6h1.6v1.6h-1.6zM368.3 128.2h1.6v1.6h-1.6zM396.4 191.9h1.6v1.6h-1.6zM360.5 132.9h1.6v1.6h-1.6zM398.3 168.4h1.6v1.6h-1.6zM383.2 128.8h1.6v1.6h-1.6zM369.8 133.8h1.6v1.6h-1.6zM322.3 150.9h1.6v1.6h-1.6zM361.8 118.1h1.6v1.6h-1.6zM371.1 146.1h1.6v1.6h-1.6zM378.4 179.8h1.6v1.6h-1.6zM379.1 123.9h1.6v1.6h-1.6zM363 137.6h1.6v1.6h-1.6zM364.9 157.1h1.6v1.6h-1.6zM371.7 188.9h1.6v1.6h-1.6zM346.2 166.9h1.6v1.6h-1.6zM379.9 188.2h1.6v1.6h-1.6zM366.4 117.5h1.6v1.6h-1.6zM376.4 148.4h1.6v1.6h-1.6zM356.8 165.9h1.6v1.6h-1.6zM336.8 170.5h1.6v1.6h-1.6zM369.7 123.5h1.6v1.6h-1.6zM380.4 123h1.6v1.6h-1.6zM370.9 132.7h1.6v1.6h-1.6zM375.8 182.6h1.6v1.6h-1.6zM338.9 149.3h1.6v1.6h-1.6zM396.2 187.2h1.6v1.6h-1.6zM372.3 151.4h1.6v1.6h-1.6zM378.1 177.9h1.6v1.6h-1.6zM394.8 192.1h1.6v1.6h-1.6zM333.6 166.2h1.6v1.6h-1.6zM384.7 172.4h1.6v1.6h-1.6zM378.6 129.4h1.6v1.6h-1.6zM371.8 171.8h1.6v1.6h-1.6zM354.8 116.2h1.6v1.6h-1.6zM373.4 177.9h1.6v1.6h-1.6zM364.6 146.2h1.6v1.6h-1.6zM340.9 167.6h1.6v1.6h-1.6zM367.8 186.6h1.6v1.6h-1.6zM369.5 120.4h1.6v1.6h-1.6zM350.4 179.5h1.6v1.6h-1.6zM397.5 179.6h1.6v1.6h-1.6zM345.9 170.3h1.6v1.6h-1.6zM367.4 123.1h1.6v1.6h-1.6zM379 165.2h1.6v1.6h-1.6zM343.4 171h1.6v1.6h-1.6zM374 186.8h1.6v1.6h-1.6zM365.4 105.6h1.6v1.6h-1.6zM363 189h1.6v1.6h-1.6zM358.3 114.8h1.6v1.6h-1.6zM374.4 170h1.6v1.6h-1.6zM336 182.6h1.6v1.6h-1.6zM369.3 133.6h1.6v1.6h-1.6zM344.3 125.6h1.6v1.6h-1.6zM359.6 132.9h1.6v1.6h-1.6zM329.3 175.3h1.6v1.6h-1.6zM370.5 168.9h1.6v1.6h-1.6zM371.6 137.7h1.6v1.6h-1.6zM355.6 182.3h1.6v1.6h-1.6zM374.5 132.3h1.6v1.6h-1.6zM382 149.8h1.6v1.6h-1.6zM374.5 111.7h1.6v1.6h-1.6zM383.1 135.4h1.6v1.6h-1.6zM341.4 179.9h1.6v1.6h-1.6zM346.5 194h1.6v1.6h-1.6zM373.7 196.6h1.6v1.6h-1.6zM356.4 182.7h1.6v1.6h-1.6zM370.4 119.2h1.6v1.6h-1.6zM394.9 150.9h1.6v1.6h-1.6zM360.1 136.7h1.6v1.6h-1.6zM386.4 181.7h1.6v1.6h-1.6zM383.9 193.2h1.6v1.6h-1.6zM361.8 172.4h1.6v1.6h-1.6zM382.2 127.5h1.6v1.6h-1.6zM329.9 160.3h1.6v1.6h-1.6zM367.4 126.7h1.6v1.6h-1.6zM359.7 100.3h1.6v1.6h-1.6zM341.3 160.8h1.6v1.6h-1.6zM388.8 180.4h1.6v1.6h-1.6zM361.2 156.6h1.6v1.6h-1.6zM381.2 108.9h1.6v1.6h-1.6zM375.7 188.9h1.6v1.6h-1.6zM390.2 190.5h1.6v1.6h-1.6zM341.2 168.5h1.6v1.6h-1.6zM344.9 161.4h1.6v1.6h-1.6zM352.9 127.1h1.6v1.6h-1.6zM360.6 139h1.6v1.6h-1.6zM353.6 114.7h1.6v1.6h-1.6zM349.9 158.8h1.6v1.6h-1.6zM378.6 179.2h1.6v1.6h-1.6zM355.7 129.1h1.6v1.6h-1.6zM373.5 142.4h1.6v1.6h-1.6zM348.9 168.6h1.6v1.6h-1.6zM361.1 178.7h1.6v1.6h-1.6zM350.7 162.6h1.6v1.6h-1.6zM376.8 173.4h1.6v1.6h-1.6zM334.3 79.2h1.6v1.6h-1.6zM390.5 170.3h1.6v1.6h-1.6zM361.3 172.7h1.6v1.6h-1.6zM332.9 174.9h1.6v1.6h-1.6zM365 177.7h1.6v1.6h-1.6zM329.2 180.3h1.6v1.6h-1.6zM374.9 122.2h1.6v1.6h-1.6zM392.8 180.7h1.6v1.6h-1.6zM378.4 108.7h1.6v1.6h-1.6zM374.1 118.2h1.6v1.6h-1.6zM363.3 144.5h1.6v1.6h-1.6zM370.7 105.7h1.6v1.6h-1.6zM364.1 105.6h1.6v1.6h-1.6zM355.5 182.5h1.6v1.6h-1.6zM373.3 137.3h1.6v1.6h-1.6zM378.6 138.8h1.6v1.6h-1.6zM359.8 128.4h1.6v1.6h-1.6zM336 132.5h1.6v1.6h-1.6zM380.7 152.1h1.6v1.6h-1.6zM368.7 186.7h1.6v1.6h-1.6zM355.3 173.5h1.6v1.6h-1.6zM362.3 198.7h1.6v1.6h-1.6zM345.9 149.9h1.6v1.6h-1.6zM343.6 138.7h1.6v1.6h-1.6zM357.6 144.9h1.6v1.6h-1.6zM384.7 166.2h1.6v1.6h-1.6zM335.5 116.3h1.6v1.6h-1.6zM381.4 161.1h1.6v1.6h-1.6zM340.5 166.7h1.6v1.6h-1.6zM356.3 149.1h1.6v1.6h-1.6zM368.2 175.3h1.6v1.6h-1.6zM338 157.5h1.6v1.6h-1.6zM368 184.5h1.6v1.6h-1.6zM391 119.4h1.6v1.6h-1.6zM378.5 115.6h1.6v1.6h-1.6zM395.7 111.4h1.6v1.6h-1.6zM344.6 154.2h1.6v1.6h-1.6zM374.6 122.8h1.6v1.6h-1.6zM385.3 162.7h1.6v1.6h-1.6zM365.6 176.8h1.6v1.6h-1.6zM359.1 138.9h1.6v1.6h-1.6zM316.1 182h1.6v1.6h-1.6zM381.9 123.8h1.6v1.6h-1.6zM341.1 168.8h1.6v1.6h-1.6zM372.4 116.5h1.6v1.6h-1.6zM370.9 170.4h1.6v1.6h-1.6zM364 132.9h1.6v1.6h-1.6zM368 132.9h1.6v1.6h-1.6zM371.9 110.7h1.6v1.6h-1.6zM382.5 157.1h1.6v1.6h-1.6zM372.8 153.4h1.6v1.6h-1.6zM371.4 175h1.6v1.6h-1.6zM334 82.2h1.6v1.6h-1.6zM372.6 164h1.6v1.6h-1.6zM374.5 169.5h1.6v1.6h-1.6zM332.1 166.6h1.6v1.6h-1.6zM363.7 170.3h1.6v1.6h-1.6zM347.8 104.7h1.6v1.6h-1.6zM339.7 156.7h1.6v1.6h-1.6zM371.4 143.9h1.6v1.6h-1.6zM369.4 177.3h1.6v1.6h-1.6zM339.5 181.9h1.6v1.6h-1.6zM351.7 129.9h1.6v1.6h-1.6zM370.1 179.5h1.6v1.6h-1.6zM379.5 185.1h1.6v1.6h-1.6zM348.2 137h1.6v1.6h-1.6zM315.4 90.8h1.6v1.6h-1.6zM375.1 181.8h1.6v1.6h-1.6zM360.7 113.5h1.6v1.6h-1.6zM354.7 107.9h1.6v1.6h-1.6zM356.9 177.1h1.6v1.6h-1.6zM369.3 137.5h1.6v1.6h-1.6zM378.1 117.5h1.6v1.6h-1.6zM314.7 167.6h1.6v1.6h-1.6zM385.4 176h1.6v1.6h-1.6zM335.8 166.6h1.6v1.6h-1.6zM362 174.6h1.6v1.6h-1.6zM375.2 168.3h1.6v1.6h-1.6zM360.5 149.5h1.6v1.6h-1.6zM387.8 111h1.6v1.6h-1.6zM381.3 114.7h1.6v1.6h-1.6zM340.1 180.8h1.6v1.6h-1.6zM378.7 122.1h1.6v1.6h-1.6zM353.2 175.3h1.6v1.6h-1.6zM371.1 175.1h1.6v1.6h-1.6zM380.8 177.6h1.6v1.6h-1.6zM362.4 193.1h1.6v1.6h-1.6zM331.4 132.1h1.6v1.6h-1.6zM327.3 173.9h1.6v1.6h-1.6zM388.8 122.1h1.6v1.6h-1.6zM393.7 175.4h1.6v1.6h-1.6zM374.5 180.9h1.6v1.6h-1.6zM365.6 167.6h1.6v1.6h-1.6zM338 117.2h1.6v1.6h-1.6zM362.9 115.7h1.6v1.6h-1.6zM361.3 192.7h1.6v1.6h-1.6zM368.1 176.5h1.6v1.6h-1.6zM356 168.5h1.6v1.6h-1.6zM371.3 184.9h1.6v1.6h-1.6zM371.5 193.8h1.6v1.6h-1.6zM380 153.7h1.6v1.6h-1.6zM351.9 148.9h1.6v1.6h-1.6zM367.8 119.2h1.6v1.6h-1.6zM366.6 171.8h1.6v1.6h-1.6zM385.5 132.6h1.6v1.6h-1.6zM369.3 191.3h1.6v1.6h-1.6zM385.4 181.3h1.6v1.6h-1.6zM380.2 176.5h1.6v1.6h-1.6zM386.8 132.1h1.6v1.6h-1.6zM364.4 143.4h1.6v1.6h-1.6zM383.8 165.8h1.6v1.6h-1.6zM359.9 120.9h1.6v1.6h-1.6zM376.5 101.8h1.6v1.6h-1.6zM369.9 196.2h1.6v1.6h-1.6zM377.7 102.2h1.6v1.6h-1.6zM354.6 108.6h1.6v1.6h-1.6zM365.3 164.5h1.6v1.6h-1.6zM324.7 171.1h1.6v1.6h-1.6zM353.9 165.2h1.6v1.6h-1.6zM387.3 181.7h1.6v1.6h-1.6zM321.4 171.2h1.6v1.6h-1.6zM374.2 171.5h1.6v1.6h-1.6zM380 190.4h1.6v1.6h-1.6zM365.4 177.8h1.6v1.6h-1.6zM334.4 159h1.6v1.6h-1.6zM379.3 178.1h1.6v1.6h-1.6zM370.8 122.8h1.6v1.6h-1.6zM346.8 151.1h1.6v1.6h-1.6zM374.5 128.8h1.6v1.6h-1.6zM355.4 102.1h1.6v1.6h-1.6zM314.5 190h1.6v1.6h-1.6zM345.4 171.1h1.6v1.6h-1.6zM362 125.4h1.6v1.6h-1.6zM385.7 187.7h1.6v1.6h-1.6zM363.3 130.9h1.6v1.6h-1.6zM381.1 139.3h1.6v1.6h-1.6zM371.4 126.1h1.6v1.6h-1.6zM365.9 181.9h1.6v1.6h-1.6zM375.9 170.8h1.6v1.6h-1.6zM381.2 137.8h1.6v1.6h-1.6zM338.3 153.3h1.6v1.6h-1.6zM355.9 137.9h1.6v1.6h-1.6zM361.2 170.8h1.6v1.6h-1.6zM361 138.5h1.6v1.6h-1.6zM367.3 179.9h1.6v1.6h-1.6zM372 181.5h1.6v1.6h-1.6zM383.8 152.4h1.6v1.6h-1.6zM355.8 109.3h1.6v1.6h-1.6zM377.4 177.1h1.6v1.6h-1.6zM383.8 154.3h1.6v1.6h-1.6zM387.6 160h1.6v1.6h-1.6zM372.3 136.5h1.6v1.6h-1.6zM376.5 128h1.6v1.6h-1.6zM324.9 180h1.6v1.6h-1.6zM357.3 180.1h1.6v1.6h-1.6zM320.2 146h1.6v1.6h-1.6zM368 173.9h1.6v1.6h-1.6zM397.3 141.8h1.6v1.6h-1.6zM347 161.9h1.6v1.6h-1.6zM389.3 166.3h1.6v1.6h-1.6zM363.7 169.2h1.6v1.6h-1.6zM364.5 112.9h1.6v1.6h-1.6zM366.8 178.8h1.6v1.6h-1.6zM378.4 187.5h1.6v1.6h-1.6zM361.6 139.2h1.6v1.6h-1.6zM369.1 180.9h1.6v1.6h-1.6zM375.9 117.9h1.6v1.6h-1.6zM378.8 167.6h1.6v1.6h-1.6zM361.6 160.3h1.6v1.6h-1.6zM367.6 175.1h1.6v1.6h-1.6zM358.8 134.1h1.6v1.6h-1.6zM358.4 143.3h1.6v1.6h-1.6zM377.2 124.7h1.6v1.6h-1.6zM350.5 188.5h1.6v1.6h-1.6zM383 118.7h1.6v1.6h-1.6zM390.8 187h1.6v1.6h-1.6zM376.4 127.7h1.6v1.6h-1.6zM381 151.8h1.6v1.6h-1.6zM364.2 113.3h1.6v1.6h-1.6zM369.3 184h1.6v1.6h-1.6zM357.3 182.7h1.6v1.6h-1.6zM374.4 190.5h1.6v1.6h-1.6zM371.3 129.5h1.6v1.6h-1.6zM345.7 123h1.6v1.6h-1.6zM356.7 181h1.6v1.6h-1.6zM353.7 176.4h1.6v1.6h-1.6zM372.8 187.4h1.6v1.6h-1.6zM364.5 132.6h1.6v1.6h-1.6zM371.6 114.2h1.6v1.6h-1.6zM370.6 174.3h1.6v1.6h-1.6zM334.3 162.7h1.6v1.6h-1.6zM367.1 125.3h1.6v1.6h-1.6zM346.6 129.1h1.6v1.6h-1.6zM365.6 180.4h1.6v1.6h-1.6zM350.5 187h1.6v1.6h-1.6zM359.6 181.1h1.6v1.6h-1.6zM320.3 169.1h1.6v1.6h-1.6zM362.6 185.3h1.6v1.6h-1.6zM382.6 137.3h1.6v1.6h-1.6zM370.1 124.2h1.6v1.6h-1.6zM370.8 178.5h1.6v1.6h-1.6zM370.5 116.9h1.6v1.6h-1.6zM372.1 149.2h1.6v1.6h-1.6zM373.4 145.7h1.6v1.6h-1.6zM339.3 159.9h1.6v1.6h-1.6zM345.9 143.1h1.6v1.6h-1.6zM375 164.5h1.6v1.6h-1.6zM354.8 148.2h1.6v1.6h-1.6zM381.8 159.4h1.6v1.6h-1.6zM335.9 191.4h1.6v1.6h-1.6zM322.4 187.9h1.6v1.6h-1.6zM366.4 168.5h1.6v1.6h-1.6zM366.3 119.6h1.6v1.6h-1.6zM369.3 172.6h1.6v1.6h-1.6zM334.4 162h1.6v1.6h-1.6zM381.6 141.5h1.6v1.6h-1.6zM363 166.1h1.6v1.6h-1.6zM367.2 187h1.6v1.6h-1.6zM391.3 176.3h1.6v1.6h-1.6zM328 172.6h1.6v1.6h-1.6zM364.6 175.9h1.6v1.6h-1.6zM365.5 169.1h1.6v1.6h-1.6zM370.3 174.6h1.6v1.6h-1.6zM350.9 164.5h1.6v1.6h-1.6zM385.3 129.9h1.6v1.6h-1.6zM347.1 198.8h1.6v1.6h-1.6zM381.5 170.2h1.6v1.6h-1.6zM346.4 147.9h1.6v1.6h-1.6zM384 172.7h1.6v1.6h-1.6zM361.2 127.3h1.6v1.6h-1.6zM389.4 179.7h1.6v1.6h-1.6zM384.1 110.5h1.6v1.6h-1.6zM383.4 113.6h1.6v1.6h-1.6zM379.8 106.5h1.6v1.6h-1.6zM369.1 134h1.6v1.6h-1.6zM362.2 164h1.6v1.6h-1.6zM376.6 180.6h1.6v1.6h-1.6zM392.1 181.7h1.6v1.6h-1.6zM358.4 169.4h1.6v1.6h-1.6zM367 187.2h1.6v1.6h-1.6zM349.5 123.2h1.6v1.6h-1.6zM374 137.9h1.6v1.6h-1.6zM365.5 170.9h1.6v1.6h-1.6zM388.7 187.1h1.6v1.6h-1.6zM370.8 178.3h1.6v1.6h-1.6zM338.5 153.4h1.6v1.6h-1.6zM365.7 126.2h1.6v1.6h-1.6zM394.8 155.4h1.6v1.6h-1.6zM376.3 175.2h1.6v1.6h-1.6zM344.7 114.8h1.6v1.6h-1.6zM376.1 143.1h1.6v1.6h-1.6zM354.1 144.9h1.6v1.6h-1.6zM348.9 179h1.6v1.6h-1.6zM349.8 119.5h1.6v1.6h-1.6zM374.5 183.9h1.6v1.6h-1.6zM351.5 122.6h1.6v1.6h-1.6zM348.1 173.2h1.6v1.6h-1.6zM379.8 166.9h1.6v1.6h-1.6zM339.7 114.3h1.6v1.6h-1.6zM354.5 181.5h1.6v1.6h-1.6zM377.5 177.6h1.6v1.6h-1.6zM377.1 112.3h1.6v1.6h-1.6zM334.2 159.9h1.6v1.6h-1.6zM324.3 137.5h1.6v1.6h-1.6zM352 129.3h1.6v1.6h-1.6zM397.6 186.7h1.6v1.6h-1.6zM360.9 194.3h1.6v1.6h-1.6zM388.1 168.2h1.6v1.6h-1.6zM362.9 198.4h1.6v1.6h-1.6zM380.4 93.8h1.6v1.6h-1.6zM339.1 159.3h1.6v1.6h-1.6zM367.8 135.6h1.6v1.6h-1.6zM363.5 179.5h1.6v1.6h-1.6zM365.6 117.1h1.6v1.6h-1.6zM336 161.2h1.6v1.6h-1.6zM361.7 198h1.6v1.6h-1.6zM384.4 166.6h1.6v1.6h-1.6zM367.8 185.1h1.6v1.6h-1.6zM344.9 139.3h1.6v1.6h-1.6zM328 159.3h1.6v1.6h-1.6zM371.5 102h1.6v1.6h-1.6zM356 136h1.6v1.6h-1.6zM318 154.7h1.6v1.6h-1.6zM310.4 180h1.6v1.6h-1.6zM375.4 156.6h1.6v1.6h-1.6zM359.4 137.2h1.6v1.6h-1.6zM323.3 151.9h1.6v1.6h-1.6zM359.4 188.3h1.6v1.6h-1.6zM388.9 133h1.6v1.6h-1.6zM368.1 171.5h1.6v1.6h-1.6zM363.8 175.8h1.6v1.6h-1.6zM380.5 142.6h1.6v1.6h-1.6zM356.9 176h1.6v1.6h-1.6zM351.7 183.2h1.6v1.6h-1.6zM369.8 191.8h1.6v1.6h-1.6zM374.5 194.4h1.6v1.6h-1.6zM385.2 115.5h1.6v1.6h-1.6zM364.6 123.3h1.6v1.6h-1.6zM361 165.1h1.6v1.6h-1.6zM335.8 171.1h1.6v1.6h-1.6zM376.7 187.4h1.6v1.6h-1.6zM352.5 166h1.6v1.6h-1.6zM360.5 132.8h1.6v1.6h-1.6zM362.7 175.7h1.6v1.6h-1.6zM352.7 137.6h1.6v1.6h-1.6zM348 166.9h1.6v1.6h-1.6zM330 104.3h1.6v1.6h-1.6zM359.9 169h1.6v1.6h-1.6zM360.7 122.7h1.6v1.6h-1.6zM383.8 169.4h1.6v1.6h-1.6zM361 124.5h1.6v1.6h-1.6zM389.2 124.9h1.6v1.6h-1.6zM335.1 142.5h1.6v1.6h-1.6zM397.2 179.3h1.6v1.6h-1.6zM388.9 120.6h1.6v1.6h-1.6zM375.8 196.8h1.6v1.6h-1.6zM333.2 179.7h1.6v1.6h-1.6zM358.5 174h1.6v1.6h-1.6zM336.7 191h1.6v1.6h-1.6zM362.5 132.8h1.6v1.6h-1.6zM348.6 144.6h1.6v1.6h-1.6zM376.7 192.8h1.6v1.6h-1.6zM384 179.6h1.6v1.6h-1.6zM399.3 139.6h1.6v1.6h-1.6zM374.4 97.9h1.6v1.6h-1.6zM333.5 127.3h1.6v1.6h-1.6zM315.6 151.8h1.6v1.6h-1.6zM375.6 185.9h1.6v1.6h-1.6zM360.3 158h1.6v1.6h-1.6zM335.1 195.2h1.6v1.6h-1.6zM378.5 127.6h1.6v1.6h-1.6zM378.7 122.5h1.6v1.6h-1.6zM393.6 186.9h1.6v1.6h-1.6zM387.6 167.9h1.6v1.6h-1.6zM361.4 173.1h1.6v1.6h-1.6zM336.7 178.7h1.6v1.6h-1.6zM357.7 175.3h1.6v1.6h-1.6zM350.7 166.6h1.6v1.6h-1.6zM349.5 175.7h1.6v1.6h-1.6zM390.5 166.4h1.6v1.6h-1.6zM354.1 116.7h1.6v1.6h-1.6zM365.9 134.1h1.6v1.6h-1.6zM370.3 180.2h1.6v1.6h-1.6zM305.8 193.3h1.6v1.6h-1.6zM399.6 111.7h1.6v1.6h-1.6zM345.8 176.2h1.6v1.6h-1.6zM356.3 182.1h1.6v1.6h-1.6zM366.2 174.5h1.6v1.6h-1.6zM357 116h1.6v1.6h-1.6zM383.5 187.3h1.6v1.6h-1.6zM345 144.3h1.6v1.6h-1.6zM372.8 151.7h1.6v1.6h-1.6zM378.8 117.1h1.6v1.6h-1.6zM371.7 180.7h1.6v1.6h-1.6zM378.6 171.3h1.6v1.6h-1.6zM361.6 154.9h1.6v1.6h-1.6zM358.7 178.8h1.6v1.6h-1.6zM351.4 183.1h1.6v1.6h-1.6zM340.9 177.2h1.6v1.6h-1.6zM380.7 142.5h1.6v1.6h-1.6zM330.8 146.1h1.6v1.6h-1.6zM369.9 190.5h1.6v1.6h-1.6zM356.6 175.9h1.6v1.6h-1.6zM327.4 177.6h1.6v1.6h-1.6zM367.1 165.6h1.6v1.6h-1.6zM368.4 187.7h1.6v1.6h-1.6zM382.7 183.1h1.6v1.6h-1.6zM345.3 136.4h1.6v1.6h-1.6zM322.3 168h1.6v1.6h-1.6zM348.6 137.7h1.6v1.6h-1.6zM371.3 147.7h1.6v1.6h-1.6zM371.3 172.9h1.6v1.6h-1.6zM383.8 174.2h1.6v1.6h-1.6zM361.2 121.1h1.6v1.6h-1.6zM366 195h1.6v1.6h-1.6zM364.1 148.2h1.6v1.6h-1.6zM363.7 117.2h1.6v1.6h-1.6zM378.9 184.2h1.6v1.6h-1.6zM371.2 120.8h1.6v1.6h-1.6zM377.3 144.4h1.6v1.6h-1.6z" fill="#7a7a7a"/>
<rect x="43.5" y="43.5" width="195.5" height="159.1" fill="none" stroke="#111" stroke-width="2"/>
<rect x="301.5" y="43.5" width="207.5" height="159.8" fill="none" stroke="#111" stroke-width="2"/>
<path d="M138.6 43.5V202.6M43.5 117.5H239.0" stroke="#000" stroke-width="2.2" fill="none"/>
<rect x="141.5" y="121.5" width="93.9" height="74.8" fill="none" stroke="#555" stroke-width="1"/>
<path d="M309.9 43.5V203.3M301.5 152.2H509.0" stroke="#000" stroke-width="1.8" fill="none"/>
<path d="M177.7 163.1H252" stroke="#000" stroke-width="1.7"/>
<path d="M263.3 163.1L248.8 159.2V167Z" fill="#000"/>
<path d="M43.5 202.6h-6.5M43.5 190.6h-3.5M43.5 183.6h-3.5M43.5 178.7h-3.5M43.5 174.8h-3.5M43.5 171.6h-3.5M43.5 169h-3.5M43.5 166.7h-3.5M43.5 164.6h-3.5M43.5 162.8h-6.5M43.5 150.9h-3.5M43.5 143.8h-3.5M43.5 138.9h-3.5M43.5 135h-3.5M43.5 131.9h-3.5M43.5 129.2h-3.5M43.5 126.9h-3.5M43.5 124.9h-3.5M43.5 123h-6.5M43.5 111.1h-3.5M43.5 104.1h-3.5M43.5 99.1h-3.5M43.5 95.2h-3.5M43.5 92.1h-3.5M43.5 89.4h-3.5M43.5 87.1h-3.5M43.5 85.1h-3.5M43.5 83.3h-6.5M43.5 71.3h-3.5M43.5 64.3h-3.5M43.5 59.3h-3.5M43.5 55.5h-3.5M43.5 52.3h-3.5M43.5 49.7h-3.5M43.5 47.4h-3.5M43.5 45.3h-3.5M43.5 43.5h-6.5M43.5 202.6v6M58.2 202.6v3M66.8 202.6v3M72.9 202.6v3M77.7 202.6v3M81.5 202.6v3M84.8 202.6v3M87.6 202.6v3M90.1 202.6v3M92.4 202.6v6M107.1 202.6v3M115.7 202.6v3M121.8 202.6v3M126.5 202.6v3M130.4 202.6v3M133.7 202.6v3M136.5 202.6v3M139 202.6v3M141.2 202.6v6M156 202.6v3M164.6 202.6v3M170.7 202.6v3M175.4 202.6v3M179.3 202.6v3M182.6 202.6v3M185.4 202.6v3M187.9 202.6v3M190.1 202.6v6M204.8 202.6v3M213.4 202.6v3M219.6 202.6v3M224.3 202.6v3M228.2 202.6v3M231.4 202.6v3M234.3 202.6v3M236.8 202.6v3M239 202.6v6M301.5 203.3h-6.5M301.5 191.3h-3.5M301.5 184.2h-3.5M301.5 179.2h-3.5M301.5 175.4h-3.5M301.5 172.2h-3.5M301.5 169.5h-3.5M301.5 167.2h-3.5M301.5 165.2h-3.5M301.5 163.4h-6.5M301.5 151.3h-3.5M301.5 144.3h-3.5M301.5 139.3h-3.5M301.5 135.4h-3.5M301.5 132.3h-3.5M301.5 129.6h-3.5M301.5 127.3h-3.5M301.5 125.2h-3.5M301.5 123.4h-6.5M301.5 111.4h-3.5M301.5 104.3h-3.5M301.5 99.3h-3.5M301.5 95.5h-3.5M301.5 92.3h-3.5M301.5 89.6h-3.5M301.5 87.3h-3.5M301.5 85.3h-3.5M301.5 83.5h-6.5M301.5 71.4h-3.5M301.5 64.4h-3.5M301.5 59.4h-3.5M301.5 55.5h-3.5M301.5 52.4h-3.5M301.5 49.7h-3.5M301.5 47.4h-3.5M301.5 45.3h-3.5M301.5 43.5h-6.5M302 203.3v7M312 203.3v3.5M322.1 203.3v3.5M332.1 203.3v3.5M342.1 203.3v7M352.1 203.3v3.5M362.1 203.3v3.5M372.2 203.3v3.5M382.2 203.3v7M392.2 203.3v3.5M402.2 203.3v3.5M412.3 203.3v3.5M422.3 203.3v7M432.3 203.3v3.5M442.4 203.3v3.5M452.4 203.3v3.5M462.4 203.3v7M472.4 203.3v3.5M482.5 203.3v3.5M492.5 203.3v3.5M502.5 203.3v7" stroke="#000" stroke-width="1.5" fill="none"/>
<g font-family='"Liberation Sans", sans-serif' fill="#111" stroke="#111" stroke-width="0.25"><text x="33.3" y="225.2" font-size="12.5">10</text><text x="47.3" y="217.2" font-size="12.5">0</text><text transform="translate(32 211.8) rotate(-90)" font-size="12.5">10</text><text transform="translate(24.4 197.8) rotate(-90)" font-size="12.5">0</text><text transform="translate(290 212.5) rotate(-90)" font-size="12.5">10</text><text transform="translate(282.4 198.5) rotate(-90)" font-size="12.5">0</text><text x="82.2" y="225.2" font-size="12.5">10</text><text x="96.2" y="217.2" font-size="12.5">1</text><text transform="translate(32 172) rotate(-90)" font-size="12.5">10</text><text transform="translate(24.4 158) rotate(-90)" font-size="12.5">1</text><text transform="translate(290 172.6) rotate(-90)" font-size="12.5">10</text><text transform="translate(282.4 158.6) rotate(-90)" font-size="12.5">1</text><text x="131.1" y="225.2" font-size="12.5">10</text><text x="145.1" y="217.2" font-size="12.5">2</text><text transform="translate(32 132.2) rotate(-90)" font-size="12.5">10</text><text transform="translate(24.4 118.2) rotate(-90)" font-size="12.5">2</text><text transform="translate(290 132.6) rotate(-90)" font-size="12.5">10</text><text transform="translate(282.4 118.6) rotate(-90)" font-size="12.5">2</text><text x="179.9" y="225.2" font-size="12.5">10</text><text x="193.9" y="217.2" font-size="12.5">3</text><text transform="translate(32 92.5) rotate(-90)" font-size="12.5">10</text><text transform="translate(24.4 78.5) rotate(-90)" font-size="12.5">3</text><text transform="translate(290 92.7) rotate(-90)" font-size="12.5">10</text><text transform="translate(282.4 78.7) rotate(-90)" font-size="12.5">3</text><text x="228.8" y="225.2" font-size="12.5">10</text><text x="242.8" y="217.2" font-size="12.5">4</text><text transform="translate(32 52.7) rotate(-90)" font-size="12.5">10</text><text transform="translate(24.4 38.7) rotate(-90)" font-size="12.5">4</text><text transform="translate(290 52.7) rotate(-90)" font-size="12.5">10</text><text transform="translate(282.4 38.7) rotate(-90)" font-size="12.5">4</text><text x="305" y="223" font-size="13" text-anchor="middle">0</text><text x="342.1" y="223" font-size="13" text-anchor="middle">200</text><text x="382.2" y="223" font-size="13" text-anchor="middle">400</text><text x="422.3" y="223" font-size="13" text-anchor="middle">600</text><text x="462.4" y="223" font-size="13" text-anchor="middle">800</text><text x="502.5" y="223" font-size="13" text-anchor="middle">1000</text><text x="140" y="238.4" font-size="13" text-anchor="middle" textLength="43" lengthAdjust="spacingAndGlyphs">Kit-Cy5</text><text x="403.3" y="239.8" font-size="13" text-anchor="middle" textLength="39" lengthAdjust="spacingAndGlyphs">FSC-H</text><text transform="translate(13.8 123.8) rotate(-90)" font-size="13" text-anchor="middle" textLength="39" lengthAdjust="spacingAndGlyphs">Lin-PE</text><text transform="translate(271.7 123.3) rotate(-90)" font-size="13" text-anchor="middle">YFP</text><text x="451" y="65.6" font-size="20" font-weight="bold" textLength="52" lengthAdjust="spacingAndGlyphs">40%</text></g>
<g font-family='"Liberation Sans", sans-serif' font-weight="bold" fill="#000"><text x="-0.6" y="22.6" font-size="32.5">A</text><text x="-2.5" y="264.8" font-size="33">B</text><text x="-1" y="625" font-size="31.5">C</text></g>
<path d="M69.5 524.8H79M69.5 500.6H79M69.5 476.5H79M69.5 452.3H79M69.5 428.1H79M69.5 403.9H79M69.5 379.8H79M69.5 355.6H79M69.5 331.4H79M69.5 307.3H79M69.5 283.1H79M69.5 258.9H79M79 525V533.5M178.1 525V533.5M277.3 525V533.5M376.4 525V533.5M475.6 525V533.5" stroke="#000" stroke-width="2.6" fill="none"/>
<path d="M79.2 258.9V526.5M77.7 525H476.6" stroke="#000" stroke-width="3" fill="none"/>
<g font-family='"Liberation Sans", sans-serif' fill="#000" stroke="#000" stroke-width="0.7" font-size="19"><text x="66.8" y="531.7" text-anchor="end">0</text><text x="66.8" y="507.5" text-anchor="end">10</text><text x="66.8" y="483.4" text-anchor="end">20</text><text x="66.8" y="459.2" text-anchor="end">30</text><text x="66.8" y="435" text-anchor="end">40</text><text x="66.8" y="410.8" text-anchor="end">50</text><text x="66.8" y="386.7" text-anchor="end">60</text><text x="66.8" y="362.5" text-anchor="end">70</text><text x="66.8" y="338.3" text-anchor="end">80</text><text x="66.8" y="314.2" text-anchor="end">90</text><text x="66.8" y="290" text-anchor="end">100</text><text x="66.8" y="265.8" text-anchor="end">110</text><text x="77.8" y="552.7" text-anchor="middle">0</text><text x="176.9" y="552.7" text-anchor="middle">10</text><text x="276.1" y="552.7" text-anchor="middle">20</text><text x="375.2" y="552.7" text-anchor="middle">30</text><text x="474.4" y="552.7" text-anchor="middle">40</text></g>
<text transform="translate(22.3 392.3) rotate(-90)" font-family='"Liberation Sans", sans-serif' font-size="22.5" stroke="#000" stroke-width="0.6" text-anchor="middle" textLength="168" lengthAdjust="spacingAndGlyphs">Percent survival</text>
<text x="276" y="582.9" font-family='"Liberation Sans", sans-serif' font-size="22" stroke="#000" stroke-width="0.6" text-anchor="middle">days</text>
<path d="M79 283.1H435.9M79 283.1H376.4V317.7H417.6V352.2H435.9M79 283.1H198V307.3H227.7V331.4H237.6V355.6H247.6V379.8H267.4V428.1H417.3V452.3H435.9" stroke="#000" stroke-width="3.4" fill="none"/>
<path d="M242.3 277.9h9.2v8.8h-9.2zM261.4 277.9h9.2v8.8h-9.2zM301.6 277.9h9.2v8.8h-9.2zM372.1 313.6h8.6v8.2h-8.6zM412 348.1h8.6v8.2h-8.6zM431 348.1h8.6v8.2h-8.6zM301 283.9l5.2 -5.2l5.2 5.2l-5.2 5.2zM430.4 283.1l5.5 -5.5l5.5 5.5l-5.5 5.5zM192.2 313.4l5.75 -11.5l5.75 11.5zM222 337.6l5.75 -11.5l5.75 11.5zM231.9 361.8l5.75 -11.5l5.75 11.5zM241.8 385.9l5.75 -11.5l5.75 11.5zM261.6 434.3l5.75 -11.5l5.75 11.5zM409.4 458.4l5.75 -11.5l5.75 11.5zM431.2 458.4l5.75 -11.5l5.75 11.5z" fill="#000"/>
<path d="M89.5 454.9H119.6M89.5 477.7H119.6M89.5 500.3H119.6" stroke="#000" stroke-width="3" fill="none"/>
<path d="M101 451.6h7v6.5h-7zM100 477.7l4.5 -4.5l4.5 4.5l-4.5 4.5zM100 503.8l4.5 -8l4.5 8z" fill="#000"/>
<g font-family='"Liberation Sans", sans-serif' font-weight="bold" fill="#000"><text x="125.5" y="461.6" font-size="18.5" font-weight="normal" stroke="#000" stroke-width="0.6" textLength="121" lengthAdjust="spacingAndGlyphs">FCYsi.empty</text><text x="253.5" y="460.6" font-size="16.8" textLength="52.5" lengthAdjust="spacingAndGlyphs">(n=10)</text><text x="124" y="483.6" font-size="19" textLength="152" lengthAdjust="spacingAndGlyphs">scramble RNAi</text><text x="281" y="483.3" font-size="16.8" textLength="43" lengthAdjust="spacingAndGlyphs">(n=4)</text><text x="124" y="506.3" font-size="19" textLength="110.5" lengthAdjust="spacingAndGlyphs">SBDS RNAi</text><text x="243.3" y="505.6" font-size="16.8" textLength="52.5" lengthAdjust="spacingAndGlyphs">(n=10)</text></g>
<path d="M448.9 280.4H500V458.9H451M446.7 351.6H460.4V454H450.7" stroke="#333" stroke-width="1.3" fill="none"/>
<g font-family='"Liberation Sans", sans-serif' font-weight="bold" font-size="22" fill="#000"><text x="467.2" y="399.7" font-size="26">*</text><text x="508.3" y="396.6" font-size="26">*</text></g>
<defs><pattern id="h" patternUnits="userSpaceOnUse" width="4" height="4"><path d="M-1 -1L5 5M-1 3L1 5M3 -1L5 1" stroke="#333" stroke-width="1.35"/></pattern></defs>
<rect x="117.2" y="672.5" width="61" height="195.5" fill="#fff"/>
<rect x="117.2" y="672.5" width="61" height="195.5" fill="url(#h)" stroke="#000" stroke-width="1.4"/>
<rect x="265.6" y="686.5" width="59.8" height="181.5" fill="#fff"/>
<rect x="265.6" y="686.5" width="59.8" height="181.5" fill="url(#h)" stroke="#000" stroke-width="1.4"/>
<rect x="413.8" y="788.6" width="60" height="79.4" fill="#fff"/>
<rect x="413.8" y="788.6" width="60" height="79.4" fill="url(#h)" stroke="#000" stroke-width="1.4"/>
<path d="M147.0 646.9V698.5M143.0 646.9h8M143.0 698.5h8M295.6 646.7V723.5M291.6 646.7h8M291.6 723.5h8M443.3 764.5V811.1M439.3 764.5h8M439.3 811.1h8" stroke="#333" stroke-width="1.2" fill="none"/>
<path d="M73.4 619.6V873M73.4 868.2H519M68.6 868H73.4M68.6 840.4H73.4M68.6 812.8H73.4M68.6 785.2H73.4M68.6 757.6H73.4M68.6 730H73.4M68.6 702.4H73.4M68.6 674.8H73.4M68.6 647.2H73.4M68.6 619.6H73.4M221.3 868.2V873M370.8 868.2V873M518.2 868.2V873" stroke="#000" stroke-width="1.8" fill="none"/>
<path d="M145.7 632V606.8H447.8V754M296.7 631.7V615H442V754" stroke="#333" stroke-width="1.5" fill="none"/>
<g font-family='"Liberation Sans", sans-serif' font-weight="bold" font-size="22" fill="#000"><g text-anchor="middle" font-size="24"><text x="206.1" y="630">*</text><text x="221.5" y="630">*</text><text x="236.8" y="630">*</text><text x="368.3" y="635.1">*</text></g></g>
<g font-family='"Liberation Sans", sans-serif' fill="#000" font-size="14.5"><text x="61.3" y="873.2" text-anchor="end">0</text><text x="61.3" y="845.6" text-anchor="end">0.2</text><text x="61.3" y="818" text-anchor="end">0.4</text><text x="61.3" y="790.4" text-anchor="end">0.6</text><text x="61.3" y="762.8" text-anchor="end">0.8</text><text x="61.3" y="735.2" text-anchor="end">1</text><text x="61.3" y="707.6" text-anchor="end">1.2</text><text x="61.3" y="680" text-anchor="end">1.4</text><text x="61.3" y="652.4" text-anchor="end">1.6</text><text x="61.3" y="624.8" text-anchor="end">1.8</text><text x="146.5" y="893.5" text-anchor="middle" textLength="86" lengthAdjust="spacingAndGlyphs">FCYsi.empty</text><text x="296.6" y="894.6" text-anchor="middle" textLength="97" lengthAdjust="spacingAndGlyphs">scramble RNAi</text><text x="443.8" y="894.4" text-anchor="middle" textLength="78.4" lengthAdjust="spacingAndGlyphs">SBDS RNAi</text></g>
<text transform="translate(19.5 741.9) rotate(-90)" font-family='"Liberation Sans", sans-serif' font-weight="bold" font-size="18" text-anchor="middle" textLength="117.6" lengthAdjust="spacingAndGlyphs">ratio of YFP%</text>
</svg>
</body></html>
